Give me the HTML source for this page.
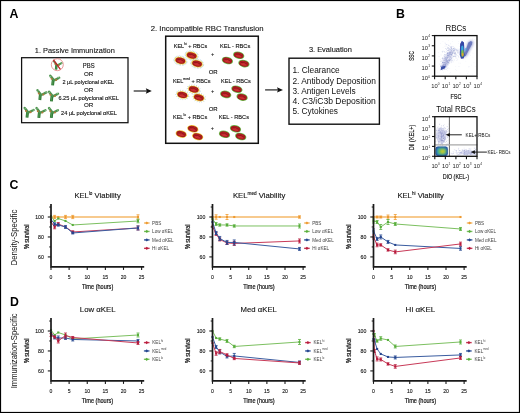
<!DOCTYPE html>
<html><head><meta charset="utf-8"><style>
html,body{margin:0;padding:0;background:#fff;width:520px;height:413px;overflow:hidden}
svg{display:block;will-change:transform;font-family:"Liberation Sans",sans-serif}
</style></head><body>
<svg width="520" height="413" viewBox="0 0 520 413" font-family="Liberation Sans">
<defs>
<radialGradient id="rbc" cx="0.5" cy="0.5" r="0.6">
<stop offset="0" stop-color="#cc2e30"/><stop offset="0.6" stop-color="#b01c20"/><stop offset="1" stop-color="#801014"/>
</radialGradient>
<filter id="bl1" x="-20%" y="-20%" width="140%" height="140%"><feGaussianBlur stdDeviation="0.6"/></filter>
<filter id="bl2" x="-20%" y="-20%" width="140%" height="140%"><feGaussianBlur stdDeviation="0.8"/></filter>
<clipPath id="clip1"><rect x="435.3" y="36.3" width="41" height="39.2"/></clipPath>
<clipPath id="clip2"><rect x="435.5" y="117.4" width="41.1" height="38.2"/></clipPath>
</defs>
<rect x="0.5" y="0.5" width="519" height="412" fill="#fff" stroke="#000" stroke-width="1.2"/>
<text x="9.6" y="17.5" font-size="12.3" font-weight="bold" fill="#000" >A</text>
<text x="396.0" y="17.5" font-size="12.3" font-weight="bold" fill="#000" >B</text>
<text x="9.6" y="189.1" font-size="12.3" font-weight="bold" fill="#000" >C</text>
<text x="10.0" y="305.8" font-size="12.3" font-weight="bold" fill="#000" >D</text>
<text x="34.8" y="53.0" font-size="7.4" textLength="80" lengthAdjust="spacingAndGlyphs" fill="#111" stroke="#111" stroke-width="0.1">1. Passive Immunization</text>
<rect x="21.6" y="57.7" width="106.4" height="65" fill="none" stroke="#111" stroke-width="1.25"/>
<g stroke="#111" stroke-width="0.12">
<text x="88.7" y="68.1" font-size="6.3" textLength="11.8" lengthAdjust="spacingAndGlyphs" text-anchor="middle" fill="#111" >PBS</text>
<text x="88.7" y="75.8" font-size="6.2" text-anchor="middle" fill="#111" >OR</text>
<text x="62.4" y="83.6" font-size="5.6" textLength="51.8" lengthAdjust="spacingAndGlyphs" fill="#111" >2 µL polyclonal αKEL</text>
<text x="88.7" y="91.5" font-size="6.2" text-anchor="middle" fill="#111" >OR</text>
<text x="58.4" y="99.5" font-size="5.6" textLength="60.5" lengthAdjust="spacingAndGlyphs" fill="#111" >6.25 µL polyclonal αKEL</text>
<text x="88.7" y="107.2" font-size="6.2" text-anchor="middle" fill="#111" >OR</text>
<text x="61.1" y="115.3" font-size="5.6" textLength="55.8" lengthAdjust="spacingAndGlyphs" fill="#111" >24 µL polyclonal αKEL</text>
</g>
<g transform="translate(56.0,69.6) scale(0.85)"><path d="M0.65,-6.0 L0,0" stroke="#307d36" stroke-width="2.9"/><path d="M0.8,-5.8 L-2.3,-9.7" stroke="#4e9450" stroke-width="2.4" stroke-linecap="round"/><path d="M2.0,-5.3 L6.6,-7.6" stroke="#4e9450" stroke-width="2.4" stroke-linecap="round"/><path d="M-1.4,-9.4 L-2.6,-8.4" stroke="#a8d0a4" stroke-width="0.7" stroke-linecap="round"/><path d="M5.6,-8.4 L6.8,-7.0" stroke="#a8d0a4" stroke-width="0.7" stroke-linecap="round"/><path d="M0.2,-4.5 L0.0,-0.8" stroke="#6aaa68" stroke-width="0.6"/><circle cx="-1.0" cy="-6.6" r="1.0" fill="#b8783a"/><circle cx="3.6" cy="-5.4" r="1.0" fill="#b8783a"/></g>
<circle cx="57.3" cy="64.7" r="6.0" fill="none" stroke="#e07878" stroke-width="0.75"/>
<path d="M53.4,59.9 L60.4,69.4" stroke="#c42028" stroke-width="1.3"/>
<g transform="translate(52.6,85.4) scale(1.0)"><path d="M0.65,-6.0 L0,0" stroke="#307d36" stroke-width="2.9"/><path d="M0.8,-5.8 L-2.3,-9.7" stroke="#4e9450" stroke-width="2.4" stroke-linecap="round"/><path d="M2.0,-5.3 L6.6,-7.6" stroke="#4e9450" stroke-width="2.4" stroke-linecap="round"/><path d="M-1.4,-9.4 L-2.6,-8.4" stroke="#a8d0a4" stroke-width="0.7" stroke-linecap="round"/><path d="M5.6,-8.4 L6.8,-7.0" stroke="#a8d0a4" stroke-width="0.7" stroke-linecap="round"/><path d="M0.2,-4.5 L0.0,-0.8" stroke="#6aaa68" stroke-width="0.6"/><circle cx="-1.0" cy="-6.6" r="1.0" fill="#b8783a"/><circle cx="3.6" cy="-5.4" r="1.0" fill="#b8783a"/></g>
<g transform="translate(39.8,100.0) scale(1.0)"><path d="M0.65,-6.0 L0,0" stroke="#307d36" stroke-width="2.9"/><path d="M0.8,-5.8 L-2.3,-9.7" stroke="#4e9450" stroke-width="2.4" stroke-linecap="round"/><path d="M2.0,-5.3 L6.6,-7.6" stroke="#4e9450" stroke-width="2.4" stroke-linecap="round"/><path d="M-1.4,-9.4 L-2.6,-8.4" stroke="#a8d0a4" stroke-width="0.7" stroke-linecap="round"/><path d="M5.6,-8.4 L6.8,-7.0" stroke="#a8d0a4" stroke-width="0.7" stroke-linecap="round"/><path d="M0.2,-4.5 L0.0,-0.8" stroke="#6aaa68" stroke-width="0.6"/><circle cx="-1.0" cy="-6.6" r="1.0" fill="#b8783a"/><circle cx="3.6" cy="-5.4" r="1.0" fill="#b8783a"/></g>
<g transform="translate(51.4,101.4) scale(1.0)"><path d="M0.65,-6.0 L0,0" stroke="#307d36" stroke-width="2.9"/><path d="M0.8,-5.8 L-2.3,-9.7" stroke="#4e9450" stroke-width="2.4" stroke-linecap="round"/><path d="M2.0,-5.3 L6.6,-7.6" stroke="#4e9450" stroke-width="2.4" stroke-linecap="round"/><path d="M-1.4,-9.4 L-2.6,-8.4" stroke="#a8d0a4" stroke-width="0.7" stroke-linecap="round"/><path d="M5.6,-8.4 L6.8,-7.0" stroke="#a8d0a4" stroke-width="0.7" stroke-linecap="round"/><path d="M0.2,-4.5 L0.0,-0.8" stroke="#6aaa68" stroke-width="0.6"/><circle cx="-1.0" cy="-6.6" r="1.0" fill="#b8783a"/><circle cx="3.6" cy="-5.4" r="1.0" fill="#b8783a"/></g>
<g transform="translate(27.0,117.6) scale(1.0)"><path d="M0.65,-6.0 L0,0" stroke="#307d36" stroke-width="2.9"/><path d="M0.8,-5.8 L-2.3,-9.7" stroke="#4e9450" stroke-width="2.4" stroke-linecap="round"/><path d="M2.0,-5.3 L6.6,-7.6" stroke="#4e9450" stroke-width="2.4" stroke-linecap="round"/><path d="M-1.4,-9.4 L-2.6,-8.4" stroke="#a8d0a4" stroke-width="0.7" stroke-linecap="round"/><path d="M5.6,-8.4 L6.8,-7.0" stroke="#a8d0a4" stroke-width="0.7" stroke-linecap="round"/><path d="M0.2,-4.5 L0.0,-0.8" stroke="#6aaa68" stroke-width="0.6"/><circle cx="-1.0" cy="-6.6" r="1.0" fill="#b8783a"/><circle cx="3.6" cy="-5.4" r="1.0" fill="#b8783a"/></g>
<g transform="translate(38.8,117.8) scale(1.0)"><path d="M0.65,-6.0 L0,0" stroke="#307d36" stroke-width="2.9"/><path d="M0.8,-5.8 L-2.3,-9.7" stroke="#4e9450" stroke-width="2.4" stroke-linecap="round"/><path d="M2.0,-5.3 L6.6,-7.6" stroke="#4e9450" stroke-width="2.4" stroke-linecap="round"/><path d="M-1.4,-9.4 L-2.6,-8.4" stroke="#a8d0a4" stroke-width="0.7" stroke-linecap="round"/><path d="M5.6,-8.4 L6.8,-7.0" stroke="#a8d0a4" stroke-width="0.7" stroke-linecap="round"/><path d="M0.2,-4.5 L0.0,-0.8" stroke="#6aaa68" stroke-width="0.6"/><circle cx="-1.0" cy="-6.6" r="1.0" fill="#b8783a"/><circle cx="3.6" cy="-5.4" r="1.0" fill="#b8783a"/></g>
<g transform="translate(51.3,117.8) scale(1.0)"><path d="M0.65,-6.0 L0,0" stroke="#307d36" stroke-width="2.9"/><path d="M0.8,-5.8 L-2.3,-9.7" stroke="#4e9450" stroke-width="2.4" stroke-linecap="round"/><path d="M2.0,-5.3 L6.6,-7.6" stroke="#4e9450" stroke-width="2.4" stroke-linecap="round"/><path d="M-1.4,-9.4 L-2.6,-8.4" stroke="#a8d0a4" stroke-width="0.7" stroke-linecap="round"/><path d="M5.6,-8.4 L6.8,-7.0" stroke="#a8d0a4" stroke-width="0.7" stroke-linecap="round"/><path d="M0.2,-4.5 L0.0,-0.8" stroke="#6aaa68" stroke-width="0.6"/><circle cx="-1.0" cy="-6.6" r="1.0" fill="#b8783a"/><circle cx="3.6" cy="-5.4" r="1.0" fill="#b8783a"/></g>
<path d="M133.7,91.0 L147.8,91.0" stroke="#333" stroke-width="1.3"/>
<path d="M151.8,91.0 L145.8,88.3 L146.8,91.0 L145.8,93.7 Z" fill="#111"/>
<path d="M265.1,89.9 L279.0,89.9" stroke="#333" stroke-width="1.3"/>
<path d="M283.0,89.9 L277.0,87.2 L278.0,89.9 L277.0,92.60000000000001 Z" fill="#111"/>
<text x="207.2" y="31.3" font-size="7.7" textLength="113.0" lengthAdjust="spacingAndGlyphs" text-anchor="middle" fill="#111" stroke="#111" stroke-width="0.1">2. Incompatible RBC Transfusion</text>
<rect x="165.7" y="36.2" width="92.6" height="107.1" fill="none" stroke="#111" stroke-width="1.5"/>
<g stroke="#111" stroke-width="0.12">
<text x="173.8" y="47.5" font-size="5.6" fill="#111" textLength="33.4" lengthAdjust="spacingAndGlyphs">KEL<tspan font-size="3.4" dy="-3.0">hi</tspan><tspan dy="3.0"> + RBCs</tspan></text>
<text x="220.0" y="47.5" font-size="5.6" textLength="30.3" lengthAdjust="spacingAndGlyphs" fill="#111" >KEL - RBCs</text>
<text x="212.7" y="56.4" font-size="5.6" text-anchor="middle" fill="#111" >+</text>
<text x="213.2" y="74.3" font-size="6.0" text-anchor="middle" fill="#111" >OR</text>
<text x="172.9" y="83.1" font-size="5.6" fill="#111" textLength="37.7" lengthAdjust="spacingAndGlyphs">KEL<tspan font-size="3.4" dy="-3.0">med</tspan><tspan dy="3.0"> + RBCs</tspan></text>
<text x="221.0" y="83.1" font-size="5.6" textLength="29.8" lengthAdjust="spacingAndGlyphs" fill="#111" >KEL - RBCs</text>
<text x="212.7" y="93.4" font-size="5.6" text-anchor="middle" fill="#111" >+</text>
<text x="213.2" y="110.5" font-size="6.0" text-anchor="middle" fill="#111" >OR</text>
<text x="172.9" y="119.2" font-size="5.6" fill="#111" textLength="34.3" lengthAdjust="spacingAndGlyphs">KEL<tspan font-size="3.4" dy="-3.0">lo</tspan><tspan dy="3.0"> + RBCs</tspan></text>
<text x="218.8" y="119.2" font-size="5.6" textLength="30.2" lengthAdjust="spacingAndGlyphs" fill="#111" >KEL - RBCs</text>
<text x="212.4" y="129.9" font-size="5.6" text-anchor="middle" fill="#111" >+</text>
</g>
<g transform="translate(180.4,60.6) rotate(14)"><ellipse rx="6.6" ry="4.5" fill="none" stroke="#9ccbe6" stroke-width="1.2" stroke-dasharray="0.5 0.9" opacity="0.9"/><ellipse rx="6.0" ry="3.9" fill="none" stroke="#e8c838" stroke-width="1.0" stroke-dasharray="0.45 1.1" opacity="0.9"/><ellipse rx="5.65" ry="3.55" fill="#eebc30"/><ellipse rx="4.9" ry="2.9" fill="url(#rbc)"/><path d="M-3.2,-0.4 Q0,-1.8 3.2,-0.2" stroke="#7a0e12" stroke-width="0.7" fill="none" opacity="0.8"/><path d="M-2.6,0.9 Q0,1.8 2.8,0.9" stroke="#e04848" stroke-width="0.6" fill="none" opacity="0.7"/></g>
<g transform="translate(191.7,55.5) rotate(14)"><ellipse rx="6.6" ry="4.5" fill="none" stroke="#9ccbe6" stroke-width="1.2" stroke-dasharray="0.5 0.9" opacity="0.9"/><ellipse rx="6.0" ry="3.9" fill="none" stroke="#e8c838" stroke-width="1.0" stroke-dasharray="0.45 1.1" opacity="0.9"/><ellipse rx="5.65" ry="3.55" fill="#eebc30"/><ellipse rx="4.9" ry="2.9" fill="url(#rbc)"/><path d="M-3.2,-0.4 Q0,-1.8 3.2,-0.2" stroke="#7a0e12" stroke-width="0.7" fill="none" opacity="0.8"/><path d="M-2.6,0.9 Q0,1.8 2.8,0.9" stroke="#e04848" stroke-width="0.6" fill="none" opacity="0.7"/></g>
<g transform="translate(197.1,63.6) rotate(14)"><ellipse rx="6.6" ry="4.5" fill="none" stroke="#9ccbe6" stroke-width="1.2" stroke-dasharray="0.5 0.9" opacity="0.9"/><ellipse rx="6.0" ry="3.9" fill="none" stroke="#e8c838" stroke-width="1.0" stroke-dasharray="0.45 1.1" opacity="0.9"/><ellipse rx="5.65" ry="3.55" fill="#eebc30"/><ellipse rx="4.9" ry="2.9" fill="url(#rbc)"/><path d="M-3.2,-0.4 Q0,-1.8 3.2,-0.2" stroke="#7a0e12" stroke-width="0.7" fill="none" opacity="0.8"/><path d="M-2.6,0.9 Q0,1.8 2.8,0.9" stroke="#e04848" stroke-width="0.6" fill="none" opacity="0.7"/></g>
<g transform="translate(227.4,60.5) rotate(14)"><ellipse rx="5.75" ry="3.65" fill="#70c050"/><ellipse rx="4.9" ry="2.9" fill="url(#rbc)"/><path d="M-3.2,-0.4 Q0,-1.8 3.2,-0.2" stroke="#7a0e12" stroke-width="0.7" fill="none" opacity="0.8"/><path d="M-2.6,0.9 Q0,1.8 2.8,0.9" stroke="#e04848" stroke-width="0.6" fill="none" opacity="0.7"/></g>
<g transform="translate(238.7,55.3) rotate(14)"><ellipse rx="5.75" ry="3.65" fill="#70c050"/><ellipse rx="4.9" ry="2.9" fill="url(#rbc)"/><path d="M-3.2,-0.4 Q0,-1.8 3.2,-0.2" stroke="#7a0e12" stroke-width="0.7" fill="none" opacity="0.8"/><path d="M-2.6,0.9 Q0,1.8 2.8,0.9" stroke="#e04848" stroke-width="0.6" fill="none" opacity="0.7"/></g>
<g transform="translate(243.9,63.6) rotate(14)"><ellipse rx="5.75" ry="3.65" fill="#70c050"/><ellipse rx="4.9" ry="2.9" fill="url(#rbc)"/><path d="M-3.2,-0.4 Q0,-1.8 3.2,-0.2" stroke="#7a0e12" stroke-width="0.7" fill="none" opacity="0.8"/><path d="M-2.6,0.9 Q0,1.8 2.8,0.9" stroke="#e04848" stroke-width="0.6" fill="none" opacity="0.7"/></g>
<g transform="translate(182.4,94.9) rotate(14)"><ellipse rx="6.6" ry="4.5" fill="none" stroke="#9ccbe6" stroke-width="1.2" stroke-dasharray="0.5 1.8" opacity="0.9"/><ellipse rx="6.0" ry="3.9" fill="none" stroke="#e8c838" stroke-width="1.0" stroke-dasharray="0.45 2.0" opacity="0.9"/><ellipse rx="5.65" ry="3.55" fill="#eebc30"/><ellipse rx="4.9" ry="2.9" fill="url(#rbc)"/><path d="M-3.2,-0.4 Q0,-1.8 3.2,-0.2" stroke="#7a0e12" stroke-width="0.7" fill="none" opacity="0.8"/><path d="M-2.6,0.9 Q0,1.8 2.8,0.9" stroke="#e04848" stroke-width="0.6" fill="none" opacity="0.7"/></g>
<g transform="translate(193.7,89.4) rotate(14)"><ellipse rx="6.6" ry="4.5" fill="none" stroke="#9ccbe6" stroke-width="1.2" stroke-dasharray="0.5 1.8" opacity="0.9"/><ellipse rx="6.0" ry="3.9" fill="none" stroke="#e8c838" stroke-width="1.0" stroke-dasharray="0.45 2.0" opacity="0.9"/><ellipse rx="5.65" ry="3.55" fill="#eebc30"/><ellipse rx="4.9" ry="2.9" fill="url(#rbc)"/><path d="M-3.2,-0.4 Q0,-1.8 3.2,-0.2" stroke="#7a0e12" stroke-width="0.7" fill="none" opacity="0.8"/><path d="M-2.6,0.9 Q0,1.8 2.8,0.9" stroke="#e04848" stroke-width="0.6" fill="none" opacity="0.7"/></g>
<g transform="translate(198.9,97.5) rotate(14)"><ellipse rx="6.6" ry="4.5" fill="none" stroke="#9ccbe6" stroke-width="1.2" stroke-dasharray="0.5 1.8" opacity="0.9"/><ellipse rx="6.0" ry="3.9" fill="none" stroke="#e8c838" stroke-width="1.0" stroke-dasharray="0.45 2.0" opacity="0.9"/><ellipse rx="5.65" ry="3.55" fill="#eebc30"/><ellipse rx="4.9" ry="2.9" fill="url(#rbc)"/><path d="M-3.2,-0.4 Q0,-1.8 3.2,-0.2" stroke="#7a0e12" stroke-width="0.7" fill="none" opacity="0.8"/><path d="M-2.6,0.9 Q0,1.8 2.8,0.9" stroke="#e04848" stroke-width="0.6" fill="none" opacity="0.7"/></g>
<g transform="translate(225.7,94.4) rotate(14)"><ellipse rx="5.75" ry="3.65" fill="#70c050"/><ellipse rx="4.9" ry="2.9" fill="url(#rbc)"/><path d="M-3.2,-0.4 Q0,-1.8 3.2,-0.2" stroke="#7a0e12" stroke-width="0.7" fill="none" opacity="0.8"/><path d="M-2.6,0.9 Q0,1.8 2.8,0.9" stroke="#e04848" stroke-width="0.6" fill="none" opacity="0.7"/></g>
<g transform="translate(236.9,89.2) rotate(14)"><ellipse rx="5.75" ry="3.65" fill="#70c050"/><ellipse rx="4.9" ry="2.9" fill="url(#rbc)"/><path d="M-3.2,-0.4 Q0,-1.8 3.2,-0.2" stroke="#7a0e12" stroke-width="0.7" fill="none" opacity="0.8"/><path d="M-2.6,0.9 Q0,1.8 2.8,0.9" stroke="#e04848" stroke-width="0.6" fill="none" opacity="0.7"/></g>
<g transform="translate(242.1,97.1) rotate(14)"><ellipse rx="5.75" ry="3.65" fill="#70c050"/><ellipse rx="4.9" ry="2.9" fill="url(#rbc)"/><path d="M-3.2,-0.4 Q0,-1.8 3.2,-0.2" stroke="#7a0e12" stroke-width="0.7" fill="none" opacity="0.8"/><path d="M-2.6,0.9 Q0,1.8 2.8,0.9" stroke="#e04848" stroke-width="0.6" fill="none" opacity="0.7"/></g>
<g transform="translate(181.2,134.0) rotate(14)"><ellipse rx="5.65" ry="3.55" fill="#eebc30"/><ellipse rx="4.9" ry="2.9" fill="url(#rbc)"/><path d="M-3.2,-0.4 Q0,-1.8 3.2,-0.2" stroke="#7a0e12" stroke-width="0.7" fill="none" opacity="0.8"/><path d="M-2.6,0.9 Q0,1.8 2.8,0.9" stroke="#e04848" stroke-width="0.6" fill="none" opacity="0.7"/></g>
<g transform="translate(192.8,128.8) rotate(14)"><ellipse rx="5.65" ry="3.55" fill="#eebc30"/><ellipse rx="4.9" ry="2.9" fill="url(#rbc)"/><path d="M-3.2,-0.4 Q0,-1.8 3.2,-0.2" stroke="#7a0e12" stroke-width="0.7" fill="none" opacity="0.8"/><path d="M-2.6,0.9 Q0,1.8 2.8,0.9" stroke="#e04848" stroke-width="0.6" fill="none" opacity="0.7"/></g>
<g transform="translate(197.7,136.5) rotate(14)"><ellipse rx="5.65" ry="3.55" fill="#eebc30"/><ellipse rx="4.9" ry="2.9" fill="url(#rbc)"/><path d="M-3.2,-0.4 Q0,-1.8 3.2,-0.2" stroke="#7a0e12" stroke-width="0.7" fill="none" opacity="0.8"/><path d="M-2.6,0.9 Q0,1.8 2.8,0.9" stroke="#e04848" stroke-width="0.6" fill="none" opacity="0.7"/></g>
<g transform="translate(224.5,134.3) rotate(14)"><ellipse rx="5.75" ry="3.65" fill="#70c050"/><ellipse rx="4.9" ry="2.9" fill="url(#rbc)"/><path d="M-3.2,-0.4 Q0,-1.8 3.2,-0.2" stroke="#7a0e12" stroke-width="0.7" fill="none" opacity="0.8"/><path d="M-2.6,0.9 Q0,1.8 2.8,0.9" stroke="#e04848" stroke-width="0.6" fill="none" opacity="0.7"/></g>
<g transform="translate(235.5,128.8) rotate(14)"><ellipse rx="5.75" ry="3.65" fill="#70c050"/><ellipse rx="4.9" ry="2.9" fill="url(#rbc)"/><path d="M-3.2,-0.4 Q0,-1.8 3.2,-0.2" stroke="#7a0e12" stroke-width="0.7" fill="none" opacity="0.8"/><path d="M-2.6,0.9 Q0,1.8 2.8,0.9" stroke="#e04848" stroke-width="0.6" fill="none" opacity="0.7"/></g>
<g transform="translate(240.7,136.5) rotate(14)"><ellipse rx="5.75" ry="3.65" fill="#70c050"/><ellipse rx="4.9" ry="2.9" fill="url(#rbc)"/><path d="M-3.2,-0.4 Q0,-1.8 3.2,-0.2" stroke="#7a0e12" stroke-width="0.7" fill="none" opacity="0.8"/><path d="M-2.6,0.9 Q0,1.8 2.8,0.9" stroke="#e04848" stroke-width="0.6" fill="none" opacity="0.7"/></g>
<text x="330.4" y="52.0" font-size="7.6" textLength="43" lengthAdjust="spacingAndGlyphs" text-anchor="middle" fill="#111" stroke="#111" stroke-width="0.1">3. Evaluation</text>
<rect x="289.0" y="58.2" width="90.4" height="66" fill="none" stroke="#111" stroke-width="1.4"/>
<text x="292.4" y="72.9" font-size="8.45" textLength="47.3" lengthAdjust="spacingAndGlyphs" fill="#111" >1. Clearance</text>
<text x="292.4" y="83.6" font-size="8.45" textLength="83.5" lengthAdjust="spacingAndGlyphs" fill="#111" >2. Antibody Deposition</text>
<text x="292.4" y="93.7" font-size="8.45" textLength="63.2" lengthAdjust="spacingAndGlyphs" fill="#111" >3. Antigen Levels</text>
<text x="292.4" y="103.9" font-size="8.45" textLength="83.5" lengthAdjust="spacingAndGlyphs" fill="#111" >4. C3/iC3b Deposition</text>
<text x="292.4" y="114.1" font-size="8.45" textLength="45.6" lengthAdjust="spacingAndGlyphs" fill="#111" >5. Cytokines</text>
<g clip-path="url(#clip1)">
<rect x="448.8" y="62.7" width="0.6" height="0.6" fill="#5a68b8" opacity="0.26"/>
<rect x="443.2" y="67.2" width="0.6" height="0.6" fill="#5a68b8" opacity="0.28"/>
<rect x="444.6" y="67.3" width="0.6" height="0.6" fill="#5a68b8" opacity="0.22"/>
<rect x="449.4" y="53.6" width="0.6" height="0.6" fill="#5a68b8" opacity="0.27"/>
<rect x="460.7" y="51.5" width="0.6" height="0.6" fill="#5a68b8" opacity="0.19"/>
<rect x="447.2" y="61.2" width="0.6" height="0.6" fill="#5a68b8" opacity="0.32"/>
<rect x="448.1" y="53.5" width="0.6" height="0.6" fill="#5a68b8" opacity="0.21"/>
<rect x="449.8" y="54.2" width="0.6" height="0.6" fill="#5a68b8" opacity="0.33"/>
<rect x="447.9" y="57.3" width="0.6" height="0.6" fill="#5a68b8" opacity="0.32"/>
<rect x="447.7" y="54.8" width="0.6" height="0.6" fill="#5a68b8" opacity="0.24"/>
<rect x="456.7" y="49.4" width="0.6" height="0.6" fill="#5a68b8" opacity="0.30"/>
<rect x="441.3" y="65.7" width="0.6" height="0.6" fill="#5a68b8" opacity="0.32"/>
<rect x="451.4" y="47.8" width="0.6" height="0.6" fill="#5a68b8" opacity="0.29"/>
<rect x="450.4" y="48.9" width="0.6" height="0.6" fill="#5a68b8" opacity="0.35"/>
<rect x="441.2" y="68.2" width="0.6" height="0.6" fill="#5a68b8" opacity="0.24"/>
<rect x="446.6" y="59.3" width="0.6" height="0.6" fill="#5a68b8" opacity="0.29"/>
<rect x="444.9" y="64.5" width="0.6" height="0.6" fill="#5a68b8" opacity="0.22"/>
<rect x="446.1" y="58.6" width="0.6" height="0.6" fill="#5a68b8" opacity="0.28"/>
<rect x="451.1" y="58.6" width="0.6" height="0.6" fill="#5a68b8" opacity="0.27"/>
<rect x="447.0" y="58.0" width="0.6" height="0.6" fill="#5a68b8" opacity="0.20"/>
<rect x="445.2" y="63.0" width="0.6" height="0.6" fill="#5a68b8" opacity="0.23"/>
<rect x="441.4" y="68.8" width="0.6" height="0.6" fill="#5a68b8" opacity="0.32"/>
<rect x="450.4" y="46.5" width="0.6" height="0.6" fill="#5a68b8" opacity="0.17"/>
<rect x="449.3" y="45.7" width="0.6" height="0.6" fill="#5a68b8" opacity="0.39"/>
<rect x="446.4" y="58.8" width="0.6" height="0.6" fill="#5a68b8" opacity="0.17"/>
<rect x="444.8" y="63.8" width="0.6" height="0.6" fill="#5a68b8" opacity="0.17"/>
<rect x="442.6" y="68.5" width="0.6" height="0.6" fill="#5a68b8" opacity="0.41"/>
<rect x="450.3" y="55.8" width="0.6" height="0.6" fill="#5a68b8" opacity="0.25"/>
<rect x="450.7" y="62.5" width="0.6" height="0.6" fill="#5a68b8" opacity="0.30"/>
<rect x="443.9" y="66.7" width="0.6" height="0.6" fill="#5a68b8" opacity="0.23"/>
<rect x="452.2" y="52.0" width="0.6" height="0.6" fill="#5a68b8" opacity="0.19"/>
<rect x="448.8" y="56.1" width="0.6" height="0.6" fill="#5a68b8" opacity="0.44"/>
<rect x="450.6" y="49.3" width="0.6" height="0.6" fill="#5a68b8" opacity="0.38"/>
<rect x="449.8" y="56.4" width="0.6" height="0.6" fill="#5a68b8" opacity="0.22"/>
<rect x="457.6" y="55.0" width="0.6" height="0.6" fill="#5a68b8" opacity="0.37"/>
<rect x="441.4" y="61.4" width="0.6" height="0.6" fill="#5a68b8" opacity="0.16"/>
<rect x="443.0" y="66.8" width="0.6" height="0.6" fill="#5a68b8" opacity="0.28"/>
<rect x="446.8" y="44.1" width="0.6" height="0.6" fill="#5a68b8" opacity="0.26"/>
<rect x="445.7" y="63.6" width="0.6" height="0.6" fill="#5a68b8" opacity="0.42"/>
<rect x="454.9" y="53.1" width="0.6" height="0.6" fill="#5a68b8" opacity="0.39"/>
<rect x="440.2" y="65.8" width="0.6" height="0.6" fill="#5a68b8" opacity="0.29"/>
<rect x="442.2" y="62.0" width="0.6" height="0.6" fill="#5a68b8" opacity="0.39"/>
<rect x="450.8" y="47.8" width="0.6" height="0.6" fill="#5a68b8" opacity="0.20"/>
<rect x="444.2" y="66.4" width="0.6" height="0.6" fill="#5a68b8" opacity="0.39"/>
<rect x="443.6" y="65.3" width="0.6" height="0.6" fill="#5a68b8" opacity="0.31"/>
<rect x="445.2" y="64.8" width="0.6" height="0.6" fill="#5a68b8" opacity="0.34"/>
<rect x="450.5" y="59.2" width="0.6" height="0.6" fill="#5a68b8" opacity="0.21"/>
<rect x="442.9" y="61.9" width="0.6" height="0.6" fill="#5a68b8" opacity="0.33"/>
<rect x="444.9" y="62.6" width="0.6" height="0.6" fill="#5a68b8" opacity="0.29"/>
<rect x="448.5" y="54.3" width="0.6" height="0.6" fill="#5a68b8" opacity="0.43"/>
<rect x="445.1" y="56.7" width="0.6" height="0.6" fill="#5a68b8" opacity="0.20"/>
<rect x="442.4" y="67.9" width="0.6" height="0.6" fill="#5a68b8" opacity="0.29"/>
<rect x="447.8" y="50.3" width="0.6" height="0.6" fill="#5a68b8" opacity="0.39"/>
<rect x="442.7" y="65.4" width="0.6" height="0.6" fill="#5a68b8" opacity="0.23"/>
<rect x="447.1" y="49.9" width="0.6" height="0.6" fill="#5a68b8" opacity="0.28"/>
<rect x="442.4" y="51.8" width="0.6" height="0.6" fill="#5a68b8" opacity="0.36"/>
<rect x="444.9" y="58.2" width="0.6" height="0.6" fill="#5a68b8" opacity="0.41"/>
<rect x="450.9" y="48.7" width="0.6" height="0.6" fill="#5a68b8" opacity="0.43"/>
<rect x="453.3" y="50.8" width="0.6" height="0.6" fill="#5a68b8" opacity="0.22"/>
<rect x="442.5" y="65.2" width="0.6" height="0.6" fill="#5a68b8" opacity="0.42"/>
<rect x="442.4" y="65.5" width="0.6" height="0.6" fill="#5a68b8" opacity="0.44"/>
<rect x="448.4" y="64.3" width="0.6" height="0.6" fill="#5a68b8" opacity="0.30"/>
<rect x="454.0" y="47.3" width="0.6" height="0.6" fill="#5a68b8" opacity="0.25"/>
<rect x="444.8" y="65.4" width="0.6" height="0.6" fill="#5a68b8" opacity="0.16"/>
<rect x="448.4" y="55.3" width="0.6" height="0.6" fill="#5a68b8" opacity="0.30"/>
<rect x="445.9" y="67.3" width="0.6" height="0.6" fill="#5a68b8" opacity="0.44"/>
<rect x="443.7" y="65.9" width="0.6" height="0.6" fill="#5a68b8" opacity="0.19"/>
<rect x="447.0" y="57.0" width="0.6" height="0.6" fill="#5a68b8" opacity="0.23"/>
<rect x="445.1" y="65.4" width="0.6" height="0.6" fill="#5a68b8" opacity="0.17"/>
<rect x="448.7" y="53.0" width="0.6" height="0.6" fill="#5a68b8" opacity="0.43"/>
<rect x="449.6" y="55.0" width="0.6" height="0.6" fill="#5a68b8" opacity="0.41"/>
<rect x="446.4" y="58.8" width="0.6" height="0.6" fill="#5a68b8" opacity="0.43"/>
<rect x="447.8" y="62.9" width="0.6" height="0.6" fill="#5a68b8" opacity="0.20"/>
<rect x="443.5" y="68.1" width="0.6" height="0.6" fill="#5a68b8" opacity="0.24"/>
<rect x="451.1" y="52.0" width="0.6" height="0.6" fill="#5a68b8" opacity="0.16"/>
<rect x="448.2" y="63.3" width="0.6" height="0.6" fill="#5a68b8" opacity="0.32"/>
<rect x="441.4" y="63.2" width="0.6" height="0.6" fill="#5a68b8" opacity="0.28"/>
<rect x="451.3" y="58.0" width="0.6" height="0.6" fill="#5a68b8" opacity="0.30"/>
<rect x="452.8" y="55.6" width="0.6" height="0.6" fill="#5a68b8" opacity="0.34"/>
<rect x="444.0" y="57.9" width="0.6" height="0.6" fill="#5a68b8" opacity="0.19"/>
<rect x="442.3" y="66.7" width="0.6" height="0.6" fill="#5a68b8" opacity="0.40"/>
<rect x="453.0" y="50.0" width="0.6" height="0.6" fill="#5a68b8" opacity="0.22"/>
<rect x="444.9" y="60.3" width="0.6" height="0.6" fill="#5a68b8" opacity="0.44"/>
<rect x="453.5" y="48.3" width="0.6" height="0.6" fill="#5a68b8" opacity="0.44"/>
<rect x="446.0" y="60.4" width="0.6" height="0.6" fill="#5a68b8" opacity="0.30"/>
<rect x="445.8" y="64.2" width="0.6" height="0.6" fill="#5a68b8" opacity="0.23"/>
<rect x="443.2" y="66.7" width="0.6" height="0.6" fill="#5a68b8" opacity="0.22"/>
<rect x="447.9" y="55.4" width="0.6" height="0.6" fill="#5a68b8" opacity="0.35"/>
<rect x="452.0" y="52.9" width="0.6" height="0.6" fill="#5a68b8" opacity="0.19"/>
<rect x="458.1" y="56.7" width="0.6" height="0.6" fill="#5a68b8" opacity="0.40"/>
<rect x="447.4" y="47.7" width="0.6" height="0.6" fill="#5a68b8" opacity="0.31"/>
<rect x="447.8" y="55.1" width="0.6" height="0.6" fill="#5a68b8" opacity="0.40"/>
<rect x="451.3" y="57.0" width="0.6" height="0.6" fill="#5a68b8" opacity="0.16"/>
<rect x="442.7" y="64.9" width="0.6" height="0.6" fill="#5a68b8" opacity="0.40"/>
<rect x="445.4" y="54.3" width="0.6" height="0.6" fill="#5a68b8" opacity="0.15"/>
<rect x="448.0" y="48.5" width="0.6" height="0.6" fill="#5a68b8" opacity="0.31"/>
<rect x="454.7" y="56.3" width="0.6" height="0.6" fill="#5a68b8" opacity="0.23"/>
<rect x="452.2" y="54.7" width="0.6" height="0.6" fill="#5a68b8" opacity="0.44"/>
<rect x="446.8" y="55.7" width="0.6" height="0.6" fill="#5a68b8" opacity="0.34"/>
<rect x="445.8" y="52.3" width="0.6" height="0.6" fill="#5a68b8" opacity="0.23"/>
<rect x="450.6" y="52.0" width="0.6" height="0.6" fill="#5a68b8" opacity="0.23"/>
<rect x="449.6" y="52.6" width="0.6" height="0.6" fill="#5a68b8" opacity="0.24"/>
<rect x="445.9" y="56.9" width="0.6" height="0.6" fill="#5a68b8" opacity="0.21"/>
<rect x="458.7" y="50.6" width="0.6" height="0.6" fill="#5a68b8" opacity="0.29"/>
<rect x="454.9" y="52.7" width="0.6" height="0.6" fill="#5a68b8" opacity="0.43"/>
<rect x="445.5" y="63.7" width="0.6" height="0.6" fill="#5a68b8" opacity="0.31"/>
<rect x="458.7" y="48.9" width="0.6" height="0.6" fill="#5a68b8" opacity="0.36"/>
<rect x="445.7" y="62.2" width="0.6" height="0.6" fill="#5a68b8" opacity="0.16"/>
<rect x="441.1" y="67.7" width="0.6" height="0.6" fill="#5a68b8" opacity="0.25"/>
<rect x="447.1" y="61.5" width="0.6" height="0.6" fill="#5a68b8" opacity="0.38"/>
<rect x="458.7" y="53.0" width="0.6" height="0.6" fill="#5a68b8" opacity="0.24"/>
<rect x="439.9" y="59.6" width="0.6" height="0.6" fill="#5a68b8" opacity="0.33"/>
<rect x="445.5" y="59.7" width="0.6" height="0.6" fill="#5a68b8" opacity="0.40"/>
<rect x="446.6" y="61.6" width="0.6" height="0.6" fill="#5a68b8" opacity="0.23"/>
<rect x="450.0" y="59.3" width="0.6" height="0.6" fill="#5a68b8" opacity="0.39"/>
<rect x="449.9" y="52.7" width="0.6" height="0.6" fill="#5a68b8" opacity="0.31"/>
<rect x="455.6" y="53.9" width="0.6" height="0.6" fill="#5a68b8" opacity="0.34"/>
<rect x="448.6" y="62.8" width="0.6" height="0.6" fill="#5a68b8" opacity="0.19"/>
<rect x="447.4" y="57.1" width="0.6" height="0.6" fill="#5a68b8" opacity="0.23"/>
<rect x="441.8" y="51.1" width="0.6" height="0.6" fill="#5a68b8" opacity="0.27"/>
<rect x="445.3" y="65.5" width="0.6" height="0.6" fill="#5a68b8" opacity="0.22"/>
<rect x="451.3" y="48.1" width="0.6" height="0.6" fill="#5a68b8" opacity="0.19"/>
<rect x="446.2" y="64.9" width="0.6" height="0.6" fill="#5a68b8" opacity="0.23"/>
<rect x="451.1" y="55.4" width="0.6" height="0.6" fill="#5a68b8" opacity="0.27"/>
<rect x="445.0" y="57.7" width="0.6" height="0.6" fill="#5a68b8" opacity="0.23"/>
<rect x="455.0" y="49.5" width="0.6" height="0.6" fill="#5a68b8" opacity="0.34"/>
<rect x="453.3" y="50.4" width="0.6" height="0.6" fill="#5a68b8" opacity="0.28"/>
<rect x="457.7" y="48.8" width="0.6" height="0.6" fill="#5a68b8" opacity="0.16"/>
<rect x="440.1" y="66.1" width="0.6" height="0.6" fill="#5a68b8" opacity="0.15"/>
<rect x="448.9" y="59.0" width="0.6" height="0.6" fill="#5a68b8" opacity="0.41"/>
<rect x="453.7" y="48.7" width="0.6" height="0.6" fill="#5a68b8" opacity="0.35"/>
<rect x="456.2" y="49.2" width="0.6" height="0.6" fill="#5a68b8" opacity="0.38"/>
<rect x="447.0" y="57.9" width="0.6" height="0.6" fill="#5a68b8" opacity="0.43"/>
<rect x="447.6" y="53.7" width="0.6" height="0.6" fill="#5a68b8" opacity="0.23"/>
<rect x="448.8" y="55.3" width="0.6" height="0.6" fill="#5a68b8" opacity="0.32"/>
<rect x="448.2" y="61.3" width="0.6" height="0.6" fill="#5a68b8" opacity="0.15"/>
<rect x="442.0" y="57.8" width="0.6" height="0.6" fill="#5a68b8" opacity="0.29"/>
<rect x="442.5" y="63.7" width="0.6" height="0.6" fill="#5a68b8" opacity="0.36"/>
<rect x="448.3" y="62.0" width="0.6" height="0.6" fill="#5a68b8" opacity="0.23"/>
<rect x="447.9" y="52.2" width="0.6" height="0.6" fill="#5a68b8" opacity="0.16"/>
<rect x="444.4" y="59.7" width="0.6" height="0.6" fill="#5a68b8" opacity="0.37"/>
<rect x="452.9" y="61.6" width="0.6" height="0.6" fill="#5a68b8" opacity="0.24"/>
<rect x="452.5" y="51.1" width="0.6" height="0.6" fill="#5a68b8" opacity="0.44"/>
<rect x="446.4" y="56.9" width="0.6" height="0.6" fill="#5a68b8" opacity="0.28"/>
<rect x="451.3" y="54.3" width="0.6" height="0.6" fill="#5a68b8" opacity="0.44"/>
<rect x="444.9" y="65.3" width="0.6" height="0.6" fill="#5a68b8" opacity="0.27"/>
<rect x="455.6" y="53.7" width="0.6" height="0.6" fill="#5a68b8" opacity="0.25"/>
<rect x="445.8" y="63.3" width="0.6" height="0.6" fill="#5a68b8" opacity="0.16"/>
<rect x="448.6" y="52.6" width="0.6" height="0.6" fill="#5a68b8" opacity="0.15"/>
<rect x="445.3" y="64.1" width="0.6" height="0.6" fill="#5a68b8" opacity="0.19"/>
<rect x="454.8" y="49.4" width="0.6" height="0.6" fill="#5a68b8" opacity="0.28"/>
<rect x="440.1" y="66.3" width="0.6" height="0.6" fill="#5a68b8" opacity="0.43"/>
<rect x="443.9" y="63.5" width="0.6" height="0.6" fill="#5a68b8" opacity="0.39"/>
<rect x="451.9" y="52.3" width="0.6" height="0.6" fill="#5a68b8" opacity="0.17"/>
<rect x="453.9" y="49.5" width="0.6" height="0.6" fill="#5a68b8" opacity="0.23"/>
<rect x="450.6" y="46.8" width="0.6" height="0.6" fill="#5a68b8" opacity="0.36"/>
<rect x="446.1" y="61.1" width="0.6" height="0.6" fill="#5a68b8" opacity="0.34"/>
<rect x="445.7" y="44.5" width="0.6" height="0.6" fill="#5a68b8" opacity="0.29"/>
<rect x="456.2" y="50.1" width="0.6" height="0.6" fill="#5a68b8" opacity="0.30"/>
<rect x="457.1" y="52.3" width="0.6" height="0.6" fill="#5a68b8" opacity="0.37"/>
<rect x="451.1" y="50.8" width="0.6" height="0.6" fill="#5a68b8" opacity="0.26"/>
<rect x="454.2" y="53.2" width="0.6" height="0.6" fill="#5a68b8" opacity="0.38"/>
<rect x="445.8" y="62.0" width="0.6" height="0.6" fill="#5a68b8" opacity="0.44"/>
<rect x="452.0" y="49.1" width="0.6" height="0.6" fill="#5a68b8" opacity="0.18"/>
<rect x="441.5" y="64.3" width="0.6" height="0.6" fill="#5a68b8" opacity="0.28"/>
<rect x="449.4" y="53.9" width="0.6" height="0.6" fill="#5a68b8" opacity="0.40"/>
<rect x="455.1" y="55.7" width="0.6" height="0.6" fill="#5a68b8" opacity="0.26"/>
<rect x="454.7" y="55.2" width="0.6" height="0.6" fill="#5a68b8" opacity="0.22"/>
<rect x="444.7" y="64.9" width="0.6" height="0.6" fill="#5a68b8" opacity="0.45"/>
<rect x="450.6" y="59.9" width="0.6" height="0.6" fill="#5a68b8" opacity="0.35"/>
<rect x="457.4" y="50.2" width="0.6" height="0.6" fill="#5a68b8" opacity="0.42"/>
<rect x="440.7" y="66.8" width="0.6" height="0.6" fill="#5a68b8" opacity="0.21"/>
<rect x="444.9" y="42.9" width="0.6" height="0.6" fill="#5a68b8" opacity="0.28"/>
<rect x="448.3" y="61.4" width="0.6" height="0.6" fill="#5a68b8" opacity="0.18"/>
<rect x="447.4" y="54.3" width="0.6" height="0.6" fill="#5a68b8" opacity="0.21"/>
<rect x="445.0" y="62.0" width="0.6" height="0.6" fill="#5a68b8" opacity="0.21"/>
<rect x="442.8" y="68.1" width="0.6" height="0.6" fill="#5a68b8" opacity="0.21"/>
<rect x="453.6" y="52.7" width="0.6" height="0.6" fill="#5a68b8" opacity="0.18"/>
<rect x="443.7" y="58.3" width="0.6" height="0.6" fill="#5a68b8" opacity="0.36"/>
<rect x="447.7" y="60.2" width="0.6" height="0.6" fill="#5a68b8" opacity="0.44"/>
<rect x="444.1" y="58.7" width="0.6" height="0.6" fill="#5a68b8" opacity="0.45"/>
<rect x="449.1" y="62.5" width="0.6" height="0.6" fill="#5a68b8" opacity="0.21"/>
<rect x="442.3" y="69.1" width="0.6" height="0.6" fill="#5a68b8" opacity="0.41"/>
<rect x="445.7" y="57.0" width="0.6" height="0.6" fill="#5a68b8" opacity="0.32"/>
<rect x="450.5" y="54.3" width="0.6" height="0.6" fill="#5a68b8" opacity="0.30"/>
<rect x="442.9" y="65.4" width="0.6" height="0.6" fill="#5a68b8" opacity="0.43"/>
<rect x="441.4" y="65.0" width="0.6" height="0.6" fill="#5a68b8" opacity="0.19"/>
<rect x="453.4" y="48.2" width="0.6" height="0.6" fill="#5a68b8" opacity="0.17"/>
<rect x="448.2" y="44.6" width="0.6" height="0.6" fill="#5a68b8" opacity="0.20"/>
<rect x="447.4" y="50.3" width="0.6" height="0.6" fill="#5a68b8" opacity="0.40"/>
<rect x="453.2" y="50.4" width="0.6" height="0.6" fill="#5a68b8" opacity="0.27"/>
<rect x="444.7" y="67.3" width="0.6" height="0.6" fill="#5a68b8" opacity="0.42"/>
<rect x="440.5" y="68.1" width="0.6" height="0.6" fill="#5a68b8" opacity="0.19"/>
<rect x="449.3" y="55.5" width="0.6" height="0.6" fill="#5a68b8" opacity="0.24"/>
<rect x="444.8" y="57.3" width="0.6" height="0.6" fill="#5a68b8" opacity="0.28"/>
<rect x="440.7" y="66.6" width="0.6" height="0.6" fill="#5a68b8" opacity="0.22"/>
<rect x="450.7" y="52.8" width="0.6" height="0.6" fill="#5a68b8" opacity="0.18"/>
<rect x="444.8" y="66.1" width="0.6" height="0.6" fill="#5a68b8" opacity="0.28"/>
<rect x="451.9" y="60.1" width="0.6" height="0.6" fill="#5a68b8" opacity="0.38"/>
<rect x="451.2" y="58.4" width="0.6" height="0.6" fill="#5a68b8" opacity="0.26"/>
<rect x="458.9" y="52.4" width="0.6" height="0.6" fill="#5a68b8" opacity="0.39"/>
<rect x="445.6" y="63.6" width="0.6" height="0.6" fill="#5a68b8" opacity="0.44"/>
<rect x="457.1" y="51.1" width="0.6" height="0.6" fill="#5a68b8" opacity="0.26"/>
<rect x="451.5" y="53.5" width="0.6" height="0.6" fill="#5a68b8" opacity="0.23"/>
<rect x="454.8" y="52.8" width="0.6" height="0.6" fill="#5a68b8" opacity="0.23"/>
<rect x="447.3" y="56.9" width="0.6" height="0.6" fill="#5a68b8" opacity="0.20"/>
<rect x="445.7" y="65.9" width="0.6" height="0.6" fill="#5a68b8" opacity="0.39"/>
<rect x="441.9" y="65.0" width="0.6" height="0.6" fill="#5a68b8" opacity="0.26"/>
<rect x="447.6" y="48.0" width="0.6" height="0.6" fill="#5a68b8" opacity="0.45"/>
<rect x="447.5" y="55.2" width="0.6" height="0.6" fill="#5a68b8" opacity="0.23"/>
<rect x="449.9" y="46.1" width="0.6" height="0.6" fill="#5a68b8" opacity="0.20"/>
<rect x="449.1" y="51.2" width="0.6" height="0.6" fill="#5a68b8" opacity="0.23"/>
<rect x="453.2" y="56.0" width="0.6" height="0.6" fill="#5a68b8" opacity="0.15"/>
<rect x="442.5" y="68.1" width="0.6" height="0.6" fill="#5a68b8" opacity="0.28"/>
<rect x="449.0" y="57.7" width="0.6" height="0.6" fill="#5a68b8" opacity="0.16"/>
<rect x="443.1" y="69.4" width="0.6" height="0.6" fill="#5a68b8" opacity="0.26"/>
<rect x="442.5" y="62.4" width="0.6" height="0.6" fill="#5a68b8" opacity="0.29"/>
<rect x="446.3" y="65.7" width="0.6" height="0.6" fill="#5a68b8" opacity="0.19"/>
<rect x="440.4" y="65.3" width="0.6" height="0.6" fill="#5a68b8" opacity="0.23"/>
<rect x="440.6" y="66.7" width="0.6" height="0.6" fill="#5a68b8" opacity="0.26"/>
<rect x="444.4" y="51.0" width="0.6" height="0.6" fill="#5a68b8" opacity="0.42"/>
<rect x="441.0" y="66.6" width="0.6" height="0.6" fill="#5a68b8" opacity="0.22"/>
<rect x="442.8" y="64.9" width="0.6" height="0.6" fill="#5a68b8" opacity="0.19"/>
<rect x="442.7" y="62.3" width="0.6" height="0.6" fill="#5a68b8" opacity="0.34"/>
<rect x="453.5" y="51.6" width="0.6" height="0.6" fill="#5a68b8" opacity="0.42"/>
<rect x="452.1" y="52.1" width="0.6" height="0.6" fill="#5a68b8" opacity="0.40"/>
<rect x="446.3" y="49.2" width="0.6" height="0.6" fill="#5a68b8" opacity="0.18"/>
<rect x="446.2" y="63.2" width="0.6" height="0.6" fill="#5a68b8" opacity="0.37"/>
<rect x="451.7" y="54.6" width="0.6" height="0.6" fill="#5a68b8" opacity="0.28"/>
<rect x="454.6" y="53.6" width="0.6" height="0.6" fill="#5a68b8" opacity="0.34"/>
<rect x="456.5" y="49.7" width="0.6" height="0.6" fill="#5a68b8" opacity="0.22"/>
<rect x="452.4" y="52.0" width="0.6" height="0.6" fill="#5a68b8" opacity="0.25"/>
<rect x="451.7" y="50.2" width="0.6" height="0.6" fill="#5a68b8" opacity="0.36"/>
<rect x="448.8" y="52.6" width="0.6" height="0.6" fill="#5a68b8" opacity="0.40"/>
<rect x="451.5" y="54.2" width="0.6" height="0.6" fill="#5a68b8" opacity="0.24"/>
<rect x="442.6" y="62.0" width="0.6" height="0.6" fill="#5a68b8" opacity="0.42"/>
<rect x="444.7" y="65.9" width="0.6" height="0.6" fill="#5a68b8" opacity="0.19"/>
<rect x="443.4" y="67.8" width="0.6" height="0.6" fill="#5a68b8" opacity="0.34"/>
<rect x="449.9" y="52.6" width="0.6" height="0.6" fill="#5a68b8" opacity="0.40"/>
<rect x="450.2" y="49.8" width="0.6" height="0.6" fill="#5a68b8" opacity="0.41"/>
<rect x="454.0" y="50.1" width="0.6" height="0.6" fill="#5a68b8" opacity="0.16"/>
<rect x="453.9" y="50.0" width="0.6" height="0.6" fill="#5a68b8" opacity="0.40"/>
<rect x="449.7" y="55.7" width="0.6" height="0.6" fill="#5a68b8" opacity="0.21"/>
<rect x="447.8" y="62.1" width="0.6" height="0.6" fill="#5a68b8" opacity="0.23"/>
<rect x="444.5" y="60.6" width="0.6" height="0.6" fill="#5a68b8" opacity="0.30"/>
<rect x="459.5" y="54.3" width="0.6" height="0.6" fill="#5a68b8" opacity="0.27"/>
<rect x="446.9" y="58.4" width="0.6" height="0.6" fill="#5a68b8" opacity="0.21"/>
<rect x="449.5" y="48.9" width="0.6" height="0.6" fill="#5a68b8" opacity="0.20"/>
<rect x="443.9" y="68.8" width="0.6" height="0.6" fill="#5a68b8" opacity="0.30"/>
<rect x="448.2" y="56.9" width="0.6" height="0.6" fill="#5a68b8" opacity="0.30"/>
<rect x="446.6" y="61.5" width="0.6" height="0.6" fill="#5a68b8" opacity="0.21"/>
<rect x="449.1" y="52.8" width="0.6" height="0.6" fill="#5a68b8" opacity="0.34"/>
<rect x="442.3" y="66.8" width="0.6" height="0.6" fill="#5a68b8" opacity="0.26"/>
<rect x="442.7" y="58.9" width="0.6" height="0.6" fill="#5a68b8" opacity="0.18"/>
<rect x="454.7" y="50.7" width="0.6" height="0.6" fill="#5a68b8" opacity="0.30"/>
<rect x="451.7" y="61.6" width="0.6" height="0.6" fill="#5a68b8" opacity="0.29"/>
<rect x="447.1" y="56.2" width="0.6" height="0.6" fill="#5a68b8" opacity="0.25"/>
<rect x="443.8" y="62.9" width="0.6" height="0.6" fill="#5a68b8" opacity="0.37"/>
<rect x="442.6" y="62.6" width="0.6" height="0.6" fill="#5a68b8" opacity="0.29"/>
<rect x="451.5" y="49.8" width="0.6" height="0.6" fill="#5a68b8" opacity="0.24"/>
<rect x="450.9" y="54.1" width="0.6" height="0.6" fill="#5a68b8" opacity="0.25"/>
<rect x="450.4" y="58.3" width="0.6" height="0.6" fill="#5a68b8" opacity="0.21"/>
<rect x="452.6" y="48.3" width="0.6" height="0.6" fill="#5a68b8" opacity="0.27"/>
<rect x="453.3" y="46.2" width="0.6" height="0.6" fill="#5a68b8" opacity="0.28"/>
<rect x="443.9" y="63.6" width="0.6" height="0.6" fill="#5a68b8" opacity="0.16"/>
<rect x="449.4" y="59.1" width="0.6" height="0.6" fill="#5a68b8" opacity="0.30"/>
<rect x="448.2" y="53.1" width="0.6" height="0.6" fill="#5a68b8" opacity="0.37"/>
<rect x="449.3" y="48.6" width="0.6" height="0.6" fill="#5a68b8" opacity="0.37"/>
<rect x="449.2" y="60.2" width="0.6" height="0.6" fill="#5a68b8" opacity="0.36"/>
<rect x="447.5" y="47.1" width="0.6" height="0.6" fill="#5a68b8" opacity="0.29"/>
<rect x="445.2" y="59.4" width="0.6" height="0.6" fill="#5a68b8" opacity="0.36"/>
<rect x="451.9" y="56.8" width="0.6" height="0.6" fill="#5a68b8" opacity="0.29"/>
<rect x="446.8" y="53.5" width="0.6" height="0.6" fill="#5a68b8" opacity="0.35"/>
<rect x="449.5" y="52.0" width="0.6" height="0.6" fill="#5a68b8" opacity="0.44"/>
<rect x="441.9" y="67.5" width="0.6" height="0.6" fill="#5a68b8" opacity="0.31"/>
<rect x="439.6" y="63.8" width="0.6" height="0.6" fill="#5a68b8" opacity="0.37"/>
<rect x="444.1" y="54.5" width="0.6" height="0.6" fill="#5a68b8" opacity="0.43"/>
<rect x="444.2" y="62.4" width="0.6" height="0.6" fill="#5a68b8" opacity="0.38"/>
<rect x="444.9" y="66.7" width="0.6" height="0.6" fill="#5a68b8" opacity="0.27"/>
<rect x="441.7" y="68.7" width="0.6" height="0.6" fill="#5a68b8" opacity="0.36"/>
<rect x="447.0" y="60.1" width="0.6" height="0.6" fill="#5a68b8" opacity="0.31"/>
<rect x="441.4" y="60.3" width="0.6" height="0.6" fill="#5a68b8" opacity="0.21"/>
<rect x="442.6" y="64.7" width="0.6" height="0.6" fill="#5a68b8" opacity="0.32"/>
<rect x="444.5" y="62.1" width="0.6" height="0.6" fill="#5a68b8" opacity="0.34"/>
<rect x="452.1" y="51.4" width="0.6" height="0.6" fill="#5a68b8" opacity="0.19"/>
<rect x="454.7" y="54.2" width="0.6" height="0.6" fill="#5a68b8" opacity="0.23"/>
<rect x="447.7" y="59.8" width="0.6" height="0.6" fill="#5a68b8" opacity="0.37"/>
<rect x="445.8" y="62.6" width="0.6" height="0.6" fill="#5a68b8" opacity="0.29"/>
<rect x="444.3" y="56.2" width="0.6" height="0.6" fill="#5a68b8" opacity="0.41"/>
<rect x="445.7" y="66.2" width="0.6" height="0.6" fill="#5a68b8" opacity="0.39"/>
<rect x="443.8" y="65.6" width="0.6" height="0.6" fill="#5a68b8" opacity="0.44"/>
<rect x="449.9" y="54.6" width="0.6" height="0.6" fill="#5a68b8" opacity="0.19"/>
<rect x="444.5" y="64.1" width="0.6" height="0.6" fill="#5a68b8" opacity="0.39"/>
<rect x="447.8" y="64.9" width="0.6" height="0.6" fill="#5a68b8" opacity="0.38"/>
<rect x="453.0" y="56.3" width="0.6" height="0.6" fill="#5a68b8" opacity="0.36"/>
<rect x="447.1" y="54.9" width="0.6" height="0.6" fill="#5a68b8" opacity="0.41"/>
<rect x="449.3" y="56.7" width="0.6" height="0.6" fill="#5a68b8" opacity="0.17"/>
<rect x="450.5" y="59.8" width="0.6" height="0.6" fill="#5a68b8" opacity="0.30"/>
<rect x="448.7" y="57.1" width="0.6" height="0.6" fill="#5a68b8" opacity="0.32"/>
<rect x="447.8" y="51.8" width="0.6" height="0.6" fill="#5a68b8" opacity="0.28"/>
<rect x="458.2" y="50.5" width="0.6" height="0.6" fill="#5a68b8" opacity="0.33"/>
<rect x="450.4" y="53.0" width="0.6" height="0.6" fill="#5a68b8" opacity="0.44"/>
<rect x="443.3" y="55.7" width="0.6" height="0.6" fill="#5a68b8" opacity="0.34"/>
<rect x="447.5" y="60.3" width="0.6" height="0.6" fill="#5a68b8" opacity="0.29"/>
<rect x="448.0" y="56.0" width="0.6" height="0.6" fill="#5a68b8" opacity="0.32"/>
<rect x="452.6" y="53.2" width="0.6" height="0.6" fill="#5a68b8" opacity="0.27"/>
<rect x="448.9" y="58.3" width="0.6" height="0.6" fill="#5a68b8" opacity="0.39"/>
<rect x="445.5" y="61.2" width="0.6" height="0.6" fill="#5a68b8" opacity="0.33"/>
<rect x="449.6" y="54.3" width="0.6" height="0.6" fill="#5a68b8" opacity="0.31"/>
<rect x="440.5" y="66.0" width="0.6" height="0.6" fill="#5a68b8" opacity="0.21"/>
<rect x="447.9" y="47.3" width="0.6" height="0.6" fill="#5a68b8" opacity="0.33"/>
<rect x="442.7" y="50.8" width="0.6" height="0.6" fill="#5a68b8" opacity="0.33"/>
<rect x="452.4" y="52.7" width="0.6" height="0.6" fill="#5a68b8" opacity="0.18"/>
<rect x="446.6" y="64.7" width="0.6" height="0.6" fill="#5a68b8" opacity="0.42"/>
<rect x="447.5" y="52.5" width="0.6" height="0.6" fill="#5a68b8" opacity="0.23"/>
<rect x="442.9" y="60.5" width="0.6" height="0.6" fill="#5a68b8" opacity="0.28"/>
<rect x="450.4" y="54.6" width="0.6" height="0.6" fill="#5a68b8" opacity="0.19"/>
<rect x="449.3" y="50.0" width="0.6" height="0.6" fill="#5a68b8" opacity="0.28"/>
<rect x="442.1" y="69.9" width="0.6" height="0.6" fill="#5a68b8" opacity="0.29"/>
<rect x="445.9" y="58.6" width="0.6" height="0.6" fill="#5a68b8" opacity="0.21"/>
<rect x="444.3" y="64.5" width="0.6" height="0.6" fill="#5a68b8" opacity="0.44"/>
<rect x="443.1" y="65.5" width="0.6" height="0.6" fill="#5a68b8" opacity="0.16"/>
<rect x="452.2" y="53.1" width="0.6" height="0.6" fill="#5a68b8" opacity="0.38"/>
<rect x="452.3" y="52.3" width="0.6" height="0.6" fill="#5a68b8" opacity="0.18"/>
<rect x="447.8" y="54.9" width="0.6" height="0.6" fill="#5a68b8" opacity="0.44"/>
<rect x="449.7" y="52.4" width="0.6" height="0.6" fill="#5a68b8" opacity="0.35"/>
<rect x="454.4" y="52.2" width="0.6" height="0.6" fill="#5a68b8" opacity="0.41"/>
<rect x="447.4" y="57.1" width="0.6" height="0.6" fill="#5a68b8" opacity="0.32"/>
<rect x="446.5" y="58.5" width="0.6" height="0.6" fill="#5a68b8" opacity="0.34"/>
<rect x="446.3" y="53.8" width="0.6" height="0.6" fill="#5a68b8" opacity="0.39"/>
<rect x="452.8" y="49.0" width="0.6" height="0.6" fill="#5a68b8" opacity="0.44"/>
<rect x="451.8" y="53.0" width="0.6" height="0.6" fill="#5a68b8" opacity="0.33"/>
<rect x="454.6" y="48.9" width="0.6" height="0.6" fill="#5a68b8" opacity="0.42"/>
<rect x="448.3" y="59.7" width="0.6" height="0.6" fill="#5a68b8" opacity="0.42"/>
<rect x="451.5" y="51.1" width="0.6" height="0.6" fill="#5a68b8" opacity="0.33"/>
<rect x="455.1" y="52.6" width="0.6" height="0.6" fill="#5a68b8" opacity="0.40"/>
<rect x="453.5" y="52.3" width="0.6" height="0.6" fill="#5a68b8" opacity="0.39"/>
<rect x="456.5" y="56.1" width="0.6" height="0.6" fill="#5a68b8" opacity="0.18"/>
<rect x="448.7" y="56.4" width="0.6" height="0.6" fill="#5a68b8" opacity="0.22"/>
<rect x="442.7" y="50.9" width="0.6" height="0.6" fill="#5a68b8" opacity="0.21"/>
<rect x="443.8" y="62.0" width="0.6" height="0.6" fill="#5a68b8" opacity="0.39"/>
<rect x="451.6" y="53.2" width="0.6" height="0.6" fill="#5a68b8" opacity="0.42"/>
<rect x="448.3" y="47.1" width="0.6" height="0.6" fill="#5a68b8" opacity="0.21"/>
<rect x="443.7" y="62.9" width="0.6" height="0.6" fill="#5a68b8" opacity="0.32"/>
<rect x="445.8" y="61.6" width="0.6" height="0.6" fill="#5a68b8" opacity="0.26"/>
<rect x="443.7" y="65.2" width="0.6" height="0.6" fill="#5a68b8" opacity="0.20"/>
<rect x="448.3" y="54.6" width="0.6" height="0.6" fill="#5a68b8" opacity="0.45"/>
<rect x="451.1" y="50.2" width="0.6" height="0.6" fill="#5a68b8" opacity="0.23"/>
<rect x="445.4" y="48.3" width="0.6" height="0.6" fill="#5a68b8" opacity="0.44"/>
<rect x="442.8" y="60.9" width="0.6" height="0.6" fill="#5a68b8" opacity="0.20"/>
<rect x="445.0" y="67.7" width="0.6" height="0.6" fill="#5a68b8" opacity="0.43"/>
<rect x="450.9" y="48.2" width="0.6" height="0.6" fill="#5a68b8" opacity="0.27"/>
<rect x="444.5" y="64.7" width="0.6" height="0.6" fill="#5a68b8" opacity="0.44"/>
<rect x="447.6" y="53.6" width="0.6" height="0.6" fill="#5a68b8" opacity="0.20"/>
<rect x="455.7" y="50.2" width="0.6" height="0.6" fill="#5a68b8" opacity="0.26"/>
<rect x="454.5" y="48.7" width="0.6" height="0.6" fill="#5a68b8" opacity="0.16"/>
<rect x="448.9" y="51.3" width="0.6" height="0.6" fill="#5a68b8" opacity="0.19"/>
<rect x="452.1" y="51.6" width="0.6" height="0.6" fill="#5a68b8" opacity="0.24"/>
<rect x="448.8" y="55.1" width="0.6" height="0.6" fill="#5a68b8" opacity="0.19"/>
<rect x="449.9" y="59.1" width="0.6" height="0.6" fill="#5a68b8" opacity="0.19"/>
<rect x="454.8" y="56.2" width="0.6" height="0.6" fill="#5a68b8" opacity="0.43"/>
<rect x="447.0" y="62.6" width="0.6" height="0.6" fill="#5a68b8" opacity="0.42"/>
<rect x="443.5" y="66.2" width="0.6" height="0.6" fill="#5a68b8" opacity="0.34"/>
<rect x="444.9" y="58.6" width="0.6" height="0.6" fill="#5a68b8" opacity="0.29"/>
<rect x="451.3" y="56.7" width="0.6" height="0.6" fill="#5a68b8" opacity="0.32"/>
<rect x="445.3" y="64.7" width="0.6" height="0.6" fill="#5a68b8" opacity="0.27"/>
<rect x="445.5" y="64.1" width="0.6" height="0.6" fill="#5a68b8" opacity="0.30"/>
<rect x="447.5" y="61.3" width="0.6" height="0.6" fill="#5a68b8" opacity="0.44"/>
<rect x="443.3" y="67.8" width="0.6" height="0.6" fill="#5a68b8" opacity="0.24"/>
<rect x="447.5" y="64.1" width="0.6" height="0.6" fill="#5a68b8" opacity="0.45"/>
<rect x="454.8" y="47.9" width="0.6" height="0.6" fill="#5a68b8" opacity="0.17"/>
<rect x="456.1" y="58.4" width="0.6" height="0.6" fill="#5a68b8" opacity="0.15"/>
<rect x="450.9" y="52.4" width="0.6" height="0.6" fill="#5a68b8" opacity="0.31"/>
<rect x="442.7" y="64.7" width="0.6" height="0.6" fill="#5a68b8" opacity="0.22"/>
<rect x="450.4" y="56.6" width="0.6" height="0.6" fill="#5a68b8" opacity="0.21"/>
<rect x="442.4" y="66.0" width="0.6" height="0.6" fill="#5a68b8" opacity="0.30"/>
<rect x="447.4" y="61.9" width="0.6" height="0.6" fill="#5a68b8" opacity="0.32"/>
<rect x="443.3" y="62.6" width="0.6" height="0.6" fill="#5a68b8" opacity="0.27"/>
<rect x="456.2" y="54.7" width="0.6" height="0.6" fill="#5a68b8" opacity="0.41"/>
<rect x="454.0" y="59.7" width="0.6" height="0.6" fill="#5a68b8" opacity="0.29"/>
<rect x="452.5" y="50.2" width="0.6" height="0.6" fill="#5a68b8" opacity="0.20"/>
<rect x="444.9" y="58.9" width="0.6" height="0.6" fill="#5a68b8" opacity="0.31"/>
<rect x="446.4" y="57.4" width="0.6" height="0.6" fill="#5a68b8" opacity="0.41"/>
<rect x="442.5" y="58.3" width="0.6" height="0.6" fill="#5a68b8" opacity="0.38"/>
<rect x="443.2" y="66.7" width="0.6" height="0.6" fill="#5a68b8" opacity="0.31"/>
<rect x="451.0" y="56.9" width="0.6" height="0.6" fill="#5a68b8" opacity="0.22"/>
<rect x="445.8" y="64.5" width="0.6" height="0.6" fill="#5a68b8" opacity="0.18"/>
<rect x="449.7" y="53.1" width="0.6" height="0.6" fill="#5a68b8" opacity="0.33"/>
<rect x="444.8" y="55.0" width="0.6" height="0.6" fill="#5a68b8" opacity="0.37"/>
<rect x="444.7" y="68.6" width="0.6" height="0.6" fill="#5a68b8" opacity="0.30"/>
<rect x="447.6" y="63.3" width="0.6" height="0.6" fill="#5a68b8" opacity="0.41"/>
<rect x="444.1" y="64.8" width="0.6" height="0.6" fill="#5a68b8" opacity="0.20"/>
<rect x="454.3" y="50.9" width="0.6" height="0.6" fill="#5a68b8" opacity="0.31"/>
<rect x="450.4" y="59.9" width="0.6" height="0.6" fill="#5a68b8" opacity="0.25"/>
<rect x="445.1" y="63.8" width="0.6" height="0.6" fill="#5a68b8" opacity="0.42"/>
<rect x="451.1" y="50.4" width="0.6" height="0.6" fill="#5a68b8" opacity="0.31"/>
<rect x="455.3" y="48.5" width="0.6" height="0.6" fill="#5a68b8" opacity="0.26"/>
<rect x="451.0" y="57.9" width="0.6" height="0.6" fill="#5a68b8" opacity="0.30"/>
<rect x="445.8" y="69.1" width="0.6" height="0.6" fill="#5a68b8" opacity="0.34"/>
<rect x="445.5" y="45.9" width="0.6" height="0.6" fill="#5a68b8" opacity="0.16"/>
<rect x="450.6" y="54.0" width="0.6" height="0.6" fill="#5a68b8" opacity="0.43"/>
<rect x="452.8" y="57.7" width="0.6" height="0.6" fill="#5a68b8" opacity="0.28"/>
<rect x="453.0" y="47.8" width="0.6" height="0.6" fill="#5a68b8" opacity="0.33"/>
<rect x="450.9" y="47.5" width="0.6" height="0.6" fill="#5a68b8" opacity="0.29"/>
<rect x="449.7" y="57.5" width="0.6" height="0.6" fill="#5a68b8" opacity="0.27"/>
<rect x="446.9" y="62.6" width="0.6" height="0.6" fill="#5a68b8" opacity="0.31"/>
<rect x="447.8" y="48.4" width="0.6" height="0.6" fill="#5a68b8" opacity="0.36"/>
<rect x="445.3" y="57.0" width="0.6" height="0.6" fill="#5a68b8" opacity="0.29"/>
<rect x="446.7" y="60.3" width="0.6" height="0.6" fill="#5a68b8" opacity="0.33"/>
<rect x="441.1" y="69.5" width="0.6" height="0.6" fill="#5a68b8" opacity="0.22"/>
<rect x="446.7" y="55.7" width="0.6" height="0.6" fill="#5a68b8" opacity="0.38"/>
<rect x="445.8" y="65.2" width="0.6" height="0.6" fill="#5a68b8" opacity="0.28"/>
<rect x="442.7" y="66.3" width="0.6" height="0.6" fill="#5a68b8" opacity="0.22"/>
<rect x="451.3" y="46.8" width="0.6" height="0.6" fill="#5a68b8" opacity="0.25"/>
<rect x="444.1" y="60.6" width="0.6" height="0.6" fill="#5a68b8" opacity="0.31"/>
<rect x="446.2" y="48.6" width="0.6" height="0.6" fill="#5a68b8" opacity="0.29"/>
<rect x="447.5" y="51.9" width="0.6" height="0.6" fill="#5a68b8" opacity="0.15"/>
<rect x="454.6" y="53.8" width="0.6" height="0.6" fill="#5a68b8" opacity="0.44"/>
<rect x="445.8" y="54.6" width="0.6" height="0.6" fill="#5a68b8" opacity="0.26"/>
<rect x="444.0" y="57.4" width="0.6" height="0.6" fill="#5a68b8" opacity="0.24"/>
<rect x="444.7" y="57.8" width="0.6" height="0.6" fill="#5a68b8" opacity="0.40"/>
<rect x="451.4" y="59.5" width="0.6" height="0.6" fill="#5a68b8" opacity="0.24"/>
<rect x="441.9" y="65.7" width="0.6" height="0.6" fill="#5a68b8" opacity="0.25"/>
<rect x="456.9" y="50.6" width="0.6" height="0.6" fill="#5a68b8" opacity="0.21"/>
<rect x="447.5" y="60.0" width="0.6" height="0.6" fill="#5a68b8" opacity="0.30"/>
<rect x="454.2" y="48.6" width="0.6" height="0.6" fill="#5a68b8" opacity="0.45"/>
<rect x="444.5" y="54.3" width="0.6" height="0.6" fill="#5a68b8" opacity="0.33"/>
<rect x="449.0" y="60.5" width="0.6" height="0.6" fill="#5a68b8" opacity="0.31"/>
<rect x="443.2" y="64.3" width="0.6" height="0.6" fill="#5a68b8" opacity="0.41"/>
<rect x="450.4" y="47.3" width="0.6" height="0.6" fill="#5a68b8" opacity="0.34"/>
<rect x="451.9" y="46.5" width="0.6" height="0.6" fill="#5a68b8" opacity="0.25"/>
<rect x="451.7" y="45.9" width="0.6" height="0.6" fill="#5a68b8" opacity="0.18"/>
<rect x="448.5" y="50.1" width="0.6" height="0.6" fill="#5a68b8" opacity="0.28"/>
<rect x="443.7" y="65.5" width="0.6" height="0.6" fill="#5a68b8" opacity="0.30"/>
<rect x="446.6" y="63.6" width="0.6" height="0.6" fill="#5a68b8" opacity="0.45"/>
<rect x="449.0" y="53.9" width="0.6" height="0.6" fill="#5a68b8" opacity="0.39"/>
<rect x="445.8" y="60.6" width="0.6" height="0.6" fill="#5a68b8" opacity="0.33"/>
<rect x="455.5" y="57.6" width="0.6" height="0.6" fill="#5a68b8" opacity="0.32"/>
<rect x="443.3" y="62.6" width="0.6" height="0.6" fill="#5a68b8" opacity="0.27"/>
<rect x="444.5" y="66.6" width="0.6" height="0.6" fill="#5a68b8" opacity="0.18"/>
<rect x="445.1" y="66.8" width="0.6" height="0.6" fill="#5a68b8" opacity="0.39"/>
<rect x="443.1" y="66.2" width="0.6" height="0.6" fill="#5a68b8" opacity="0.25"/>
<rect x="449.8" y="52.3" width="0.6" height="0.6" fill="#5a68b8" opacity="0.42"/>
<rect x="449.7" y="57.0" width="0.6" height="0.6" fill="#5a68b8" opacity="0.27"/>
<rect x="443.2" y="68.5" width="0.6" height="0.6" fill="#5a68b8" opacity="0.34"/>
<rect x="446.8" y="62.8" width="0.6" height="0.6" fill="#5a68b8" opacity="0.41"/>
<rect x="447.9" y="62.2" width="0.6" height="0.6" fill="#5a68b8" opacity="0.44"/>
<rect x="451.8" y="58.8" width="0.6" height="0.6" fill="#5a68b8" opacity="0.27"/>
<rect x="451.8" y="53.9" width="0.6" height="0.6" fill="#5a68b8" opacity="0.39"/>
<rect x="444.3" y="62.6" width="0.6" height="0.6" fill="#5a68b8" opacity="0.21"/>
<rect x="453.1" y="48.2" width="0.6" height="0.6" fill="#5a68b8" opacity="0.27"/>
<rect x="449.2" y="60.3" width="0.6" height="0.6" fill="#5a68b8" opacity="0.40"/>
<rect x="447.1" y="60.2" width="0.6" height="0.6" fill="#5a68b8" opacity="0.16"/>
<rect x="451.7" y="55.5" width="0.6" height="0.6" fill="#5a68b8" opacity="0.36"/>
<rect x="444.8" y="66.6" width="0.6" height="0.6" fill="#5a68b8" opacity="0.40"/>
<rect x="454.4" y="53.3" width="0.6" height="0.6" fill="#5a68b8" opacity="0.37"/>
<rect x="448.0" y="61.5" width="0.6" height="0.6" fill="#5a68b8" opacity="0.22"/>
<rect x="447.8" y="58.8" width="0.6" height="0.6" fill="#5a68b8" opacity="0.23"/>
<rect x="449.2" y="47.9" width="0.6" height="0.6" fill="#5a68b8" opacity="0.21"/>
<rect x="457.6" y="53.1" width="0.6" height="0.6" fill="#5a68b8" opacity="0.31"/>
<rect x="444.9" y="61.5" width="0.6" height="0.6" fill="#5a68b8" opacity="0.24"/>
<rect x="445.2" y="58.6" width="0.6" height="0.6" fill="#5a68b8" opacity="0.41"/>
<rect x="445.3" y="59.9" width="0.6" height="0.6" fill="#5a68b8" opacity="0.30"/>
<rect x="445.9" y="61.4" width="0.6" height="0.6" fill="#5a68b8" opacity="0.22"/>
<rect x="442.8" y="63.5" width="0.6" height="0.6" fill="#5a68b8" opacity="0.38"/>
<rect x="456.8" y="51.6" width="0.6" height="0.6" fill="#5a68b8" opacity="0.23"/>
<rect x="440.7" y="66.7" width="0.6" height="0.6" fill="#5a68b8" opacity="0.35"/>
<rect x="452.8" y="56.3" width="0.6" height="0.6" fill="#5a68b8" opacity="0.26"/>
<rect x="450.5" y="56.2" width="0.6" height="0.6" fill="#5a68b8" opacity="0.36"/>
<rect x="442.3" y="67.0" width="0.6" height="0.6" fill="#5a68b8" opacity="0.21"/>
<rect x="445.7" y="60.6" width="0.6" height="0.6" fill="#5a68b8" opacity="0.20"/>
<rect x="454.9" y="52.3" width="0.6" height="0.6" fill="#5a68b8" opacity="0.23"/>
<rect x="445.9" y="59.8" width="0.6" height="0.6" fill="#5a68b8" opacity="0.38"/>
<rect x="447.5" y="62.2" width="0.6" height="0.6" fill="#5a68b8" opacity="0.33"/>
<rect x="443.2" y="67.3" width="0.6" height="0.6" fill="#5a68b8" opacity="0.42"/>
<rect x="450.0" y="51.9" width="0.6" height="0.6" fill="#5a68b8" opacity="0.27"/>
<rect x="451.4" y="54.8" width="0.6" height="0.6" fill="#5a68b8" opacity="0.28"/>
<rect x="456.8" y="49.9" width="0.6" height="0.6" fill="#5a68b8" opacity="0.40"/>
<rect x="448.8" y="53.9" width="0.6" height="0.6" fill="#5a68b8" opacity="0.30"/>
<rect x="450.3" y="48.1" width="0.6" height="0.6" fill="#5a68b8" opacity="0.16"/>
<rect x="450.5" y="51.4" width="0.6" height="0.6" fill="#5a68b8" opacity="0.34"/>
<rect x="446.7" y="55.7" width="0.6" height="0.6" fill="#5a68b8" opacity="0.26"/>
<rect x="448.5" y="60.3" width="0.6" height="0.6" fill="#5a68b8" opacity="0.35"/>
<rect x="447.2" y="64.9" width="0.6" height="0.6" fill="#5a68b8" opacity="0.28"/>
<rect x="451.7" y="48.1" width="0.6" height="0.6" fill="#5a68b8" opacity="0.32"/>
<rect x="446.0" y="59.3" width="0.6" height="0.6" fill="#5a68b8" opacity="0.38"/>
<rect x="442.3" y="62.2" width="0.6" height="0.6" fill="#5a68b8" opacity="0.40"/>
<rect x="444.0" y="66.6" width="0.6" height="0.6" fill="#5a68b8" opacity="0.21"/>
<rect x="443.4" y="66.5" width="0.6" height="0.6" fill="#5a68b8" opacity="0.18"/>
<rect x="443.4" y="60.0" width="0.6" height="0.6" fill="#5a68b8" opacity="0.20"/>
<rect x="446.8" y="68.4" width="0.6" height="0.6" fill="#5a68b8" opacity="0.37"/>
<rect x="451.4" y="46.9" width="0.6" height="0.6" fill="#5a68b8" opacity="0.30"/>
<rect x="449.5" y="61.2" width="0.6" height="0.6" fill="#5a68b8" opacity="0.34"/>
<rect x="451.1" y="54.3" width="0.6" height="0.6" fill="#5a68b8" opacity="0.23"/>
<rect x="445.7" y="63.0" width="0.6" height="0.6" fill="#5a68b8" opacity="0.24"/>
<rect x="440.6" y="61.0" width="0.6" height="0.6" fill="#5a68b8" opacity="0.43"/>
<rect x="443.2" y="64.5" width="0.6" height="0.6" fill="#5a68b8" opacity="0.21"/>
<rect x="448.4" y="50.1" width="0.6" height="0.6" fill="#5a68b8" opacity="0.32"/>
<rect x="446.8" y="61.5" width="0.6" height="0.6" fill="#5a68b8" opacity="0.34"/>
<rect x="452.2" y="49.6" width="0.6" height="0.6" fill="#5a68b8" opacity="0.43"/>
<rect x="446.7" y="56.3" width="0.6" height="0.6" fill="#5a68b8" opacity="0.17"/>
<rect x="454.3" y="56.3" width="0.6" height="0.6" fill="#5a68b8" opacity="0.44"/>
<rect x="444.8" y="67.3" width="0.6" height="0.6" fill="#5a68b8" opacity="0.15"/>
<rect x="457.7" y="51.9" width="0.6" height="0.6" fill="#5a68b8" opacity="0.28"/>
<rect x="443.6" y="60.4" width="0.6" height="0.6" fill="#5a68b8" opacity="0.28"/>
<rect x="452.1" y="52.9" width="0.6" height="0.6" fill="#5a68b8" opacity="0.20"/>
<rect x="444.1" y="60.0" width="0.6" height="0.6" fill="#5a68b8" opacity="0.18"/>
<rect x="444.9" y="62.0" width="0.6" height="0.6" fill="#5a68b8" opacity="0.42"/>
<rect x="460.2" y="53.4" width="0.6" height="0.6" fill="#5a68b8" opacity="0.17"/>
<rect x="445.9" y="51.3" width="0.6" height="0.6" fill="#5a68b8" opacity="0.32"/>
<rect x="448.0" y="45.4" width="0.6" height="0.6" fill="#5a68b8" opacity="0.42"/>
<rect x="443.8" y="69.4" width="0.6" height="0.6" fill="#5a68b8" opacity="0.28"/>
<rect x="441.9" y="65.1" width="0.6" height="0.6" fill="#5a68b8" opacity="0.31"/>
<rect x="447.2" y="55.5" width="0.6" height="0.6" fill="#5a68b8" opacity="0.20"/>
<rect x="450.6" y="49.2" width="0.6" height="0.6" fill="#5a68b8" opacity="0.18"/>
<rect x="447.1" y="56.9" width="0.6" height="0.6" fill="#5a68b8" opacity="0.32"/>
<rect x="444.1" y="61.4" width="0.6" height="0.6" fill="#5a68b8" opacity="0.17"/>
<rect x="447.8" y="59.4" width="0.6" height="0.6" fill="#5a68b8" opacity="0.41"/>
<rect x="446.3" y="57.8" width="0.6" height="0.6" fill="#5a68b8" opacity="0.37"/>
<rect x="446.4" y="66.4" width="0.6" height="0.6" fill="#5a68b8" opacity="0.20"/>
<rect x="446.8" y="46.2" width="0.6" height="0.6" fill="#5a68b8" opacity="0.17"/>
<rect x="447.2" y="64.0" width="0.6" height="0.6" fill="#5a68b8" opacity="0.33"/>
<rect x="445.4" y="61.2" width="0.6" height="0.6" fill="#5a68b8" opacity="0.34"/>
<rect x="453.5" y="50.8" width="0.6" height="0.6" fill="#5a68b8" opacity="0.41"/>
<rect x="443.4" y="64.4" width="0.6" height="0.6" fill="#5a68b8" opacity="0.40"/>
<rect x="440.7" y="65.3" width="0.6" height="0.6" fill="#5a68b8" opacity="0.43"/>
<rect x="454.8" y="55.8" width="0.6" height="0.6" fill="#5a68b8" opacity="0.39"/>
<rect x="445.8" y="65.4" width="0.6" height="0.6" fill="#5a68b8" opacity="0.23"/>
<rect x="442.4" y="61.9" width="0.6" height="0.6" fill="#5a68b8" opacity="0.16"/>
<rect x="443.5" y="64.9" width="0.6" height="0.6" fill="#5a68b8" opacity="0.32"/>
<rect x="444.3" y="62.4" width="0.6" height="0.6" fill="#5a68b8" opacity="0.31"/>
<rect x="455.7" y="53.9" width="0.6" height="0.6" fill="#5a68b8" opacity="0.15"/>
<rect x="448.6" y="62.3" width="0.6" height="0.6" fill="#5a68b8" opacity="0.16"/>
<rect x="443.1" y="61.7" width="0.6" height="0.6" fill="#5a68b8" opacity="0.27"/>
<rect x="451.8" y="57.6" width="0.6" height="0.6" fill="#5a68b8" opacity="0.33"/>
<rect x="444.3" y="67.8" width="0.6" height="0.6" fill="#5a68b8" opacity="0.42"/>
<rect x="450.8" y="55.6" width="0.6" height="0.6" fill="#5a68b8" opacity="0.32"/>
<rect x="448.6" y="60.6" width="0.6" height="0.6" fill="#5a68b8" opacity="0.32"/>
<rect x="448.5" y="62.1" width="0.6" height="0.6" fill="#5a68b8" opacity="0.19"/>
<rect x="449.9" y="54.5" width="0.6" height="0.6" fill="#5a68b8" opacity="0.30"/>
<rect x="443.1" y="63.9" width="0.6" height="0.6" fill="#5a68b8" opacity="0.16"/>
<rect x="446.9" y="53.1" width="0.6" height="0.6" fill="#5a68b8" opacity="0.38"/>
<rect x="447.3" y="53.3" width="0.6" height="0.6" fill="#5a68b8" opacity="0.41"/>
<rect x="458.7" y="51.3" width="0.6" height="0.6" fill="#5a68b8" opacity="0.38"/>
<rect x="446.4" y="49.5" width="0.6" height="0.6" fill="#5a68b8" opacity="0.27"/>
<rect x="443.6" y="68.1" width="0.6" height="0.6" fill="#5a68b8" opacity="0.45"/>
<rect x="447.3" y="57.1" width="0.6" height="0.6" fill="#5a68b8" opacity="0.19"/>
<rect x="443.7" y="68.0" width="0.6" height="0.6" fill="#5a68b8" opacity="0.28"/>
<rect x="448.9" y="56.3" width="0.6" height="0.6" fill="#5a68b8" opacity="0.24"/>
<rect x="449.6" y="52.6" width="0.6" height="0.6" fill="#5a68b8" opacity="0.25"/>
<rect x="451.3" y="48.8" width="0.6" height="0.6" fill="#5a68b8" opacity="0.45"/>
<rect x="449.1" y="60.5" width="0.6" height="0.6" fill="#5a68b8" opacity="0.41"/>
<rect x="440.8" y="65.2" width="0.6" height="0.6" fill="#5a68b8" opacity="0.16"/>
<rect x="445.2" y="66.3" width="0.6" height="0.6" fill="#5a68b8" opacity="0.22"/>
<rect x="449.1" y="60.6" width="0.6" height="0.6" fill="#5a68b8" opacity="0.21"/>
<rect x="448.6" y="50.6" width="0.6" height="0.6" fill="#5a68b8" opacity="0.17"/>
<rect x="453.0" y="52.6" width="0.6" height="0.6" fill="#5a68b8" opacity="0.31"/>
<rect x="452.6" y="49.2" width="0.6" height="0.6" fill="#5a68b8" opacity="0.21"/>
<rect x="444.9" y="59.7" width="0.6" height="0.6" fill="#5a68b8" opacity="0.25"/>
<rect x="443.6" y="67.5" width="0.6" height="0.6" fill="#5a68b8" opacity="0.34"/>
<rect x="443.7" y="59.2" width="0.6" height="0.6" fill="#5a68b8" opacity="0.15"/>
<rect x="454.2" y="50.0" width="0.6" height="0.6" fill="#5a68b8" opacity="0.17"/>
<rect x="448.2" y="55.2" width="0.6" height="0.6" fill="#5a68b8" opacity="0.19"/>
<rect x="453.5" y="53.4" width="0.6" height="0.6" fill="#5a68b8" opacity="0.28"/>
<rect x="445.3" y="54.4" width="0.6" height="0.6" fill="#5a68b8" opacity="0.25"/>
<rect x="447.3" y="52.0" width="0.6" height="0.6" fill="#5a68b8" opacity="0.38"/>
<rect x="450.6" y="51.7" width="0.6" height="0.6" fill="#5a68b8" opacity="0.23"/>
<rect x="448.5" y="56.4" width="0.6" height="0.6" fill="#5a68b8" opacity="0.15"/>
<rect x="444.4" y="54.8" width="0.6" height="0.6" fill="#5a68b8" opacity="0.22"/>
<rect x="458.2" y="56.0" width="0.6" height="0.6" fill="#5a68b8" opacity="0.19"/>
<rect x="441.5" y="67.0" width="0.6" height="0.6" fill="#5a68b8" opacity="0.26"/>
<rect x="447.7" y="67.6" width="0.6" height="0.6" fill="#5a68b8" opacity="0.43"/>
<rect x="447.0" y="65.8" width="0.6" height="0.6" fill="#5a68b8" opacity="0.30"/>
<rect x="456.6" y="60.0" width="0.6" height="0.6" fill="#5a68b8" opacity="0.29"/>
<rect x="446.7" y="61.3" width="0.6" height="0.6" fill="#5a68b8" opacity="0.34"/>
<rect x="446.5" y="58.6" width="0.6" height="0.6" fill="#5a68b8" opacity="0.32"/>
<rect x="450.6" y="61.0" width="0.6" height="0.6" fill="#5a68b8" opacity="0.23"/>
<rect x="444.0" y="62.0" width="0.6" height="0.6" fill="#5a68b8" opacity="0.21"/>
<rect x="448.8" y="51.9" width="0.6" height="0.6" fill="#5a68b8" opacity="0.32"/>
<rect x="445.3" y="63.1" width="0.6" height="0.6" fill="#5a68b8" opacity="0.23"/>
<rect x="451.3" y="52.3" width="0.6" height="0.6" fill="#5a68b8" opacity="0.42"/>
<rect x="445.2" y="64.1" width="0.6" height="0.6" fill="#5a68b8" opacity="0.29"/>
<rect x="449.9" y="57.0" width="0.6" height="0.6" fill="#5a68b8" opacity="0.38"/>
<rect x="450.7" y="50.6" width="0.6" height="0.6" fill="#5a68b8" opacity="0.45"/>
<rect x="446.8" y="62.0" width="0.6" height="0.6" fill="#5a68b8" opacity="0.42"/>
<rect x="444.0" y="64.3" width="0.6" height="0.6" fill="#5a68b8" opacity="0.20"/>
<rect x="452.8" y="56.0" width="0.6" height="0.6" fill="#5a68b8" opacity="0.41"/>
<rect x="451.1" y="46.5" width="0.6" height="0.6" fill="#5a68b8" opacity="0.39"/>
<rect x="453.8" y="55.4" width="0.6" height="0.6" fill="#5a68b8" opacity="0.18"/>
<rect x="444.1" y="68.4" width="0.6" height="0.6" fill="#5a68b8" opacity="0.41"/>
<rect x="443.1" y="64.5" width="0.6" height="0.6" fill="#5a68b8" opacity="0.36"/>
<rect x="444.4" y="63.9" width="0.6" height="0.6" fill="#5a68b8" opacity="0.18"/>
<rect x="442.1" y="57.5" width="0.6" height="0.6" fill="#5a68b8" opacity="0.44"/>
<rect x="454.1" y="50.0" width="0.6" height="0.6" fill="#5a68b8" opacity="0.20"/>
<rect x="446.1" y="61.5" width="0.6" height="0.6" fill="#5a68b8" opacity="0.32"/>
<rect x="447.9" y="60.1" width="0.6" height="0.6" fill="#5a68b8" opacity="0.35"/>
<rect x="444.6" y="56.2" width="0.6" height="0.6" fill="#5a68b8" opacity="0.37"/>
<rect x="446.2" y="59.9" width="0.6" height="0.6" fill="#5a68b8" opacity="0.44"/>
<rect x="445.9" y="60.7" width="0.6" height="0.6" fill="#5a68b8" opacity="0.15"/>
<rect x="457.5" y="58.8" width="0.6" height="0.6" fill="#5a68b8" opacity="0.33"/>
<rect x="447.5" y="61.1" width="0.6" height="0.6" fill="#5a68b8" opacity="0.39"/>
<rect x="458.3" y="52.0" width="0.6" height="0.6" fill="#5a68b8" opacity="0.25"/>
<rect x="447.2" y="53.1" width="0.6" height="0.6" fill="#5a68b8" opacity="0.37"/>
<rect x="450.7" y="50.2" width="0.6" height="0.6" fill="#5a68b8" opacity="0.45"/>
<rect x="442.2" y="60.8" width="0.6" height="0.6" fill="#5a68b8" opacity="0.27"/>
<rect x="450.1" y="57.3" width="0.6" height="0.6" fill="#5a68b8" opacity="0.25"/>
<rect x="447.5" y="53.1" width="0.6" height="0.6" fill="#5a68b8" opacity="0.42"/>
<rect x="446.5" y="56.1" width="0.6" height="0.6" fill="#5a68b8" opacity="0.29"/>
<rect x="448.9" y="63.2" width="0.6" height="0.6" fill="#5a68b8" opacity="0.31"/>
<rect x="450.9" y="51.2" width="0.6" height="0.6" fill="#5a68b8" opacity="0.40"/>
<rect x="443.7" y="58.0" width="0.6" height="0.6" fill="#5a68b8" opacity="0.16"/>
<rect x="445.1" y="56.9" width="0.6" height="0.6" fill="#5a68b8" opacity="0.19"/>
<rect x="444.5" y="63.6" width="0.6" height="0.6" fill="#5a68b8" opacity="0.31"/>
<rect x="451.6" y="60.4" width="0.6" height="0.6" fill="#5a68b8" opacity="0.45"/>
<rect x="447.5" y="52.1" width="0.6" height="0.6" fill="#5a68b8" opacity="0.19"/>
<rect x="444.8" y="52.0" width="0.6" height="0.6" fill="#5a68b8" opacity="0.22"/>
<rect x="446.4" y="59.9" width="0.6" height="0.6" fill="#5a68b8" opacity="0.32"/>
<rect x="443.6" y="68.2" width="0.6" height="0.6" fill="#5a68b8" opacity="0.23"/>
<rect x="448.1" y="62.1" width="0.6" height="0.6" fill="#5a68b8" opacity="0.41"/>
<rect x="444.5" y="64.9" width="0.6" height="0.6" fill="#5a68b8" opacity="0.34"/>
<rect x="449.1" y="60.1" width="0.6" height="0.6" fill="#5a68b8" opacity="0.24"/>
<rect x="448.7" y="59.1" width="0.6" height="0.6" fill="#5a68b8" opacity="0.26"/>
<rect x="441.8" y="58.2" width="0.6" height="0.6" fill="#5a68b8" opacity="0.36"/>
<rect x="451.4" y="61.9" width="0.6" height="0.6" fill="#5a68b8" opacity="0.17"/>
<rect x="449.0" y="48.8" width="0.6" height="0.6" fill="#5a68b8" opacity="0.38"/>
<rect x="441.6" y="67.2" width="0.6" height="0.6" fill="#5a68b8" opacity="0.29"/>
<rect x="449.1" y="49.6" width="0.6" height="0.6" fill="#5a68b8" opacity="0.30"/>
<rect x="447.2" y="54.9" width="0.6" height="0.6" fill="#5a68b8" opacity="0.37"/>
<rect x="450.5" y="59.5" width="0.6" height="0.6" fill="#5a68b8" opacity="0.38"/>
<rect x="443.0" y="65.4" width="0.6" height="0.6" fill="#5a68b8" opacity="0.40"/>
<rect x="446.0" y="66.5" width="0.6" height="0.6" fill="#5a68b8" opacity="0.35"/>
<rect x="449.8" y="52.9" width="0.6" height="0.6" fill="#5a68b8" opacity="0.36"/>
<rect x="439.0" y="56.1" width="0.6" height="0.6" fill="#5a68b8" opacity="0.19"/>
<rect x="442.6" y="58.7" width="0.6" height="0.6" fill="#5a68b8" opacity="0.45"/>
<rect x="446.3" y="61.8" width="0.6" height="0.6" fill="#5a68b8" opacity="0.32"/>
<rect x="452.8" y="59.7" width="0.6" height="0.6" fill="#5a68b8" opacity="0.24"/>
<rect x="452.6" y="51.1" width="0.6" height="0.6" fill="#5a68b8" opacity="0.17"/>
<rect x="449.5" y="58.1" width="0.6" height="0.6" fill="#5a68b8" opacity="0.30"/>
<rect x="447.2" y="54.5" width="0.6" height="0.6" fill="#5a68b8" opacity="0.32"/>
<rect x="444.6" y="69.3" width="0.6" height="0.6" fill="#5a68b8" opacity="0.27"/>
<rect x="448.6" y="55.7" width="0.6" height="0.6" fill="#5a68b8" opacity="0.36"/>
<rect x="448.1" y="49.4" width="0.6" height="0.6" fill="#5a68b8" opacity="0.43"/>
<rect x="447.9" y="57.5" width="0.6" height="0.6" fill="#5a68b8" opacity="0.16"/>
<rect x="455.1" y="51.7" width="0.6" height="0.6" fill="#5a68b8" opacity="0.20"/>
<rect x="446.3" y="44.5" width="0.6" height="0.6" fill="#5a68b8" opacity="0.35"/>
<rect x="446.3" y="63.2" width="0.6" height="0.6" fill="#5a68b8" opacity="0.19"/>
<rect x="453.5" y="50.6" width="0.6" height="0.6" fill="#5a68b8" opacity="0.44"/>
<rect x="449.0" y="59.5" width="0.6" height="0.6" fill="#5a68b8" opacity="0.42"/>
<rect x="451.0" y="53.8" width="0.6" height="0.6" fill="#5a68b8" opacity="0.40"/>
<rect x="445.4" y="62.4" width="0.6" height="0.6" fill="#5a68b8" opacity="0.25"/>
<rect x="458.3" y="43.5" width="0.5" height="0.5" fill="#7a88c8" opacity="0.22"/>
<rect x="471.7" y="49.7" width="0.5" height="0.5" fill="#7a88c8" opacity="0.22"/>
<rect x="469.0" y="43.5" width="0.5" height="0.5" fill="#7a88c8" opacity="0.22"/>
<rect x="467.4" y="73.3" width="0.5" height="0.5" fill="#7a88c8" opacity="0.22"/>
<rect x="451.9" y="39.2" width="0.5" height="0.5" fill="#7a88c8" opacity="0.22"/>
<rect x="451.4" y="61.1" width="0.5" height="0.5" fill="#7a88c8" opacity="0.22"/>
<rect x="445.5" y="57.6" width="0.5" height="0.5" fill="#7a88c8" opacity="0.22"/>
<rect x="440.6" y="54.7" width="0.5" height="0.5" fill="#7a88c8" opacity="0.22"/>
<rect x="464.7" y="53.5" width="0.5" height="0.5" fill="#7a88c8" opacity="0.22"/>
<rect x="462.8" y="42.1" width="0.5" height="0.5" fill="#7a88c8" opacity="0.22"/>
<rect x="468.5" y="42.4" width="0.5" height="0.5" fill="#7a88c8" opacity="0.22"/>
<rect x="472.1" y="73.9" width="0.5" height="0.5" fill="#7a88c8" opacity="0.22"/>
<rect x="472.7" y="56.9" width="0.5" height="0.5" fill="#7a88c8" opacity="0.22"/>
<rect x="448.0" y="50.5" width="0.5" height="0.5" fill="#7a88c8" opacity="0.22"/>
<rect x="465.5" y="55.9" width="0.5" height="0.5" fill="#7a88c8" opacity="0.22"/>
<rect x="472.3" y="41.3" width="0.5" height="0.5" fill="#7a88c8" opacity="0.22"/>
<rect x="455.4" y="69.1" width="0.5" height="0.5" fill="#7a88c8" opacity="0.22"/>
<rect x="459.7" y="57.5" width="0.5" height="0.5" fill="#7a88c8" opacity="0.22"/>
<rect x="440.4" y="43.0" width="0.5" height="0.5" fill="#7a88c8" opacity="0.22"/>
<rect x="447.3" y="70.2" width="0.5" height="0.5" fill="#7a88c8" opacity="0.22"/>
<rect x="469.1" y="46.2" width="0.5" height="0.5" fill="#7a88c8" opacity="0.22"/>
<rect x="472.1" y="39.2" width="0.5" height="0.5" fill="#7a88c8" opacity="0.22"/>
<rect x="459.8" y="72.8" width="0.5" height="0.5" fill="#7a88c8" opacity="0.22"/>
<rect x="450.1" y="72.0" width="0.5" height="0.5" fill="#7a88c8" opacity="0.22"/>
<rect x="461.9" y="39.8" width="0.5" height="0.5" fill="#7a88c8" opacity="0.22"/>
<rect x="449.7" y="54.2" width="0.5" height="0.5" fill="#7a88c8" opacity="0.22"/>
<rect x="446.4" y="64.7" width="0.5" height="0.5" fill="#7a88c8" opacity="0.22"/>
<rect x="443.8" y="66.4" width="0.5" height="0.5" fill="#7a88c8" opacity="0.22"/>
<rect x="448.3" y="40.5" width="0.5" height="0.5" fill="#7a88c8" opacity="0.22"/>
<rect x="458.2" y="41.4" width="0.5" height="0.5" fill="#7a88c8" opacity="0.22"/>
<rect x="458.0" y="66.4" width="0.5" height="0.5" fill="#7a88c8" opacity="0.22"/>
<rect x="459.6" y="54.6" width="0.5" height="0.5" fill="#7a88c8" opacity="0.22"/>
<rect x="438.3" y="56.5" width="0.5" height="0.5" fill="#7a88c8" opacity="0.22"/>
<rect x="440.7" y="61.3" width="0.5" height="0.5" fill="#7a88c8" opacity="0.22"/>
<rect x="442.0" y="58.8" width="0.5" height="0.5" fill="#7a88c8" opacity="0.22"/>
<rect x="450.4" y="51.5" width="0.5" height="0.5" fill="#7a88c8" opacity="0.22"/>
<rect x="462.2" y="43.9" width="0.5" height="0.5" fill="#7a88c8" opacity="0.22"/>
<rect x="443.4" y="71.9" width="0.5" height="0.5" fill="#7a88c8" opacity="0.22"/>
<rect x="449.6" y="68.3" width="0.5" height="0.5" fill="#7a88c8" opacity="0.22"/>
<rect x="470.2" y="55.3" width="0.5" height="0.5" fill="#7a88c8" opacity="0.22"/>
<rect x="442.7" y="41.4" width="0.5" height="0.5" fill="#7a88c8" opacity="0.22"/>
<rect x="470.4" y="42.2" width="0.5" height="0.5" fill="#7a88c8" opacity="0.22"/>
<rect x="455.9" y="57.3" width="0.5" height="0.5" fill="#7a88c8" opacity="0.22"/>
<rect x="441.5" y="54.8" width="0.5" height="0.5" fill="#7a88c8" opacity="0.22"/>
<rect x="443.2" y="57.3" width="0.5" height="0.5" fill="#7a88c8" opacity="0.22"/>
<rect x="456.3" y="51.2" width="0.5" height="0.5" fill="#7a88c8" opacity="0.22"/>
<rect x="444.5" y="52.5" width="0.5" height="0.5" fill="#7a88c8" opacity="0.22"/>
<rect x="444.7" y="42.6" width="0.5" height="0.5" fill="#7a88c8" opacity="0.22"/>
<rect x="446.1" y="69.4" width="0.5" height="0.5" fill="#7a88c8" opacity="0.22"/>
<rect x="456.1" y="70.1" width="0.5" height="0.5" fill="#7a88c8" opacity="0.22"/>
<rect x="437.6" y="72.0" width="0.5" height="0.5" fill="#7a88c8" opacity="0.22"/>
<rect x="455.6" y="66.5" width="0.5" height="0.5" fill="#7a88c8" opacity="0.22"/>
<rect x="458.7" y="62.8" width="0.5" height="0.5" fill="#7a88c8" opacity="0.22"/>
<rect x="445.7" y="65.0" width="0.5" height="0.5" fill="#7a88c8" opacity="0.22"/>
<rect x="442.8" y="47.5" width="0.5" height="0.5" fill="#7a88c8" opacity="0.22"/>
<rect x="438.2" y="52.2" width="0.5" height="0.5" fill="#7a88c8" opacity="0.22"/>
<rect x="456.7" y="48.5" width="0.5" height="0.5" fill="#7a88c8" opacity="0.22"/>
<rect x="470.8" y="41.0" width="0.5" height="0.5" fill="#7a88c8" opacity="0.22"/>
<rect x="459.0" y="46.4" width="0.5" height="0.5" fill="#7a88c8" opacity="0.22"/>
<rect x="459.6" y="66.2" width="0.5" height="0.5" fill="#7a88c8" opacity="0.22"/>
<rect x="464.0" y="40.2" width="0.5" height="0.5" fill="#7a88c8" opacity="0.22"/>
<rect x="446.3" y="59.6" width="0.5" height="0.5" fill="#7a88c8" opacity="0.22"/>
<rect x="474.4" y="39.5" width="0.5" height="0.5" fill="#7a88c8" opacity="0.22"/>
<rect x="460.5" y="62.9" width="0.5" height="0.5" fill="#7a88c8" opacity="0.22"/>
<rect x="468.0" y="50.3" width="0.5" height="0.5" fill="#7a88c8" opacity="0.22"/>
<rect x="467.8" y="54.6" width="0.5" height="0.5" fill="#7a88c8" opacity="0.22"/>
<rect x="472.0" y="38.4" width="0.5" height="0.5" fill="#7a88c8" opacity="0.22"/>
<rect x="472.7" y="52.8" width="0.5" height="0.5" fill="#7a88c8" opacity="0.22"/>
<rect x="452.5" y="41.2" width="0.5" height="0.5" fill="#7a88c8" opacity="0.22"/>
<rect x="446.3" y="64.4" width="0.5" height="0.5" fill="#7a88c8" opacity="0.22"/>
<rect x="462.8" y="43.4" width="0.5" height="0.5" fill="#7a88c8" opacity="0.22"/>
<rect x="450.1" y="43.1" width="0.5" height="0.5" fill="#7a88c8" opacity="0.22"/>
<rect x="444.5" y="45.9" width="0.5" height="0.5" fill="#7a88c8" opacity="0.22"/>
<rect x="449.6" y="73.1" width="0.5" height="0.5" fill="#7a88c8" opacity="0.22"/>
<rect x="474.9" y="66.5" width="0.5" height="0.5" fill="#7a88c8" opacity="0.22"/>
<rect x="455.2" y="55.9" width="0.5" height="0.5" fill="#7a88c8" opacity="0.22"/>
<rect x="466.6" y="70.7" width="0.5" height="0.5" fill="#7a88c8" opacity="0.22"/>
<rect x="465.6" y="60.9" width="0.5" height="0.5" fill="#7a88c8" opacity="0.22"/>
<rect x="444.6" y="60.5" width="0.5" height="0.5" fill="#7a88c8" opacity="0.22"/>
<rect x="469.1" y="66.3" width="0.5" height="0.5" fill="#7a88c8" opacity="0.22"/>
<rect x="440.5" y="63.8" width="0.5" height="0.5" fill="#7a88c8" opacity="0.22"/>
<rect x="450.3" y="43.8" width="0.5" height="0.5" fill="#7a88c8" opacity="0.22"/>
<rect x="473.7" y="62.2" width="0.5" height="0.5" fill="#7a88c8" opacity="0.22"/>
<rect x="465.3" y="42.9" width="0.5" height="0.5" fill="#7a88c8" opacity="0.22"/>
<rect x="468.5" y="71.7" width="0.5" height="0.5" fill="#7a88c8" opacity="0.22"/>
<rect x="471.4" y="64.8" width="0.5" height="0.5" fill="#7a88c8" opacity="0.22"/>
<rect x="468.6" y="66.9" width="0.5" height="0.5" fill="#7a88c8" opacity="0.22"/>
<rect x="459.4" y="53.7" width="0.5" height="0.5" fill="#7a88c8" opacity="0.22"/>
<rect x="468.4" y="66.2" width="0.5" height="0.5" fill="#7a88c8" opacity="0.22"/>
<rect x="470.1" y="48.8" width="0.5" height="0.5" fill="#7a88c8" opacity="0.22"/>
</g>
<g filter="url(#bl1)">
<ellipse cx="447" cy="59" rx="3.5" ry="9" transform="rotate(28 447 59)" fill="#8890cc" opacity="0.18"/>
<path d="M440.6,70.2 L441.2,66.5 L445.8,65.8 L444.8,68.2 Z" fill="#3a4fa8"/>
</g>
<g filter="url(#bl2)">
<path d="M462.4,58.5 L467.6,42.5 L470.5,40.2 L473.6,41.2 L473.2,44.8 L466.8,56 Z" fill="#8088c8" opacity="0.6"/>
</g>
<g filter="url(#bl1)">
<path d="M463.0,57.5 L468.3,42.6 L470.8,41.0 L472.4,42.0 L472.0,44.2 L466.0,55.5 Z" fill="#5666b4" opacity="0.75"/>
<ellipse cx="465.8" cy="49.5" rx="0.9" ry="1.8" fill="#50a8d8" opacity="0.7"/>
<path d="M460.1,44 L461.9,40.8 L464.0,42.5 L464.7,55 L463.6,58.6 L461.0,58.8 L459.8,55 Z" fill="#3446a6"/>
<ellipse cx="462.3" cy="48.8" rx="1.2" ry="3.2" fill="#38a8dc"/>
<ellipse cx="462.5" cy="53.4" rx="1.3" ry="3.4" fill="#78c050"/>
<ellipse cx="462.7" cy="54.5" rx="0.85" ry="1.7" fill="#e6a030"/>
</g>
<rect x="434.6" y="35.6" width="42.39999999999998" height="40.6" fill="none" stroke="#111" stroke-width="1.3"/>
<path d="M431.8,76.20 H434.6" stroke="#111" stroke-width="1.1"/>
<path d="M434.60,76.2 V79.2" stroke="#111" stroke-width="1.1"/>
<text x="428.0" y="80.10" font-size="5.8" text-anchor="end" fill="#222">10</text><text x="428.20000000000005" y="77.60" font-size="3.2" fill="#222">0</text>
<text x="431.20" y="87.7" font-size="5.8" fill="#222">10</text><text x="437.80" y="85.2" font-size="3.2" fill="#222">0</text>
<path d="M431.8,66.05 H434.6" stroke="#111" stroke-width="1.1"/>
<path d="M445.20,76.2 V79.2" stroke="#111" stroke-width="1.1"/>
<text x="428.0" y="69.95" font-size="5.8" text-anchor="end" fill="#222">10</text><text x="428.20000000000005" y="67.45" font-size="3.2" fill="#222">1</text>
<text x="441.80" y="87.7" font-size="5.8" fill="#222">10</text><text x="448.40" y="85.2" font-size="3.2" fill="#222">1</text>
<path d="M431.8,55.90 H434.6" stroke="#111" stroke-width="1.1"/>
<path d="M455.80,76.2 V79.2" stroke="#111" stroke-width="1.1"/>
<text x="428.0" y="59.80" font-size="5.8" text-anchor="end" fill="#222">10</text><text x="428.20000000000005" y="57.30" font-size="3.2" fill="#222">2</text>
<text x="452.40" y="87.7" font-size="5.8" fill="#222">10</text><text x="459.00" y="85.2" font-size="3.2" fill="#222">2</text>
<path d="M431.8,45.75 H434.6" stroke="#111" stroke-width="1.1"/>
<path d="M466.40,76.2 V79.2" stroke="#111" stroke-width="1.1"/>
<text x="428.0" y="49.65" font-size="5.8" text-anchor="end" fill="#222">10</text><text x="428.20000000000005" y="47.15" font-size="3.2" fill="#222">3</text>
<text x="463.00" y="87.7" font-size="5.8" fill="#222">10</text><text x="469.60" y="85.2" font-size="3.2" fill="#222">3</text>
<path d="M431.8,35.60 H434.6" stroke="#111" stroke-width="1.1"/>
<path d="M477.00,76.2 V79.2" stroke="#111" stroke-width="1.1"/>
<text x="428.0" y="39.50" font-size="5.8" text-anchor="end" fill="#222">10</text><text x="428.20000000000005" y="37.00" font-size="3.2" fill="#222">4</text>
<text x="473.60" y="87.7" font-size="5.8" fill="#222">10</text><text x="480.20" y="85.2" font-size="3.2" fill="#222">4</text>
<text x="445.4" y="31.0" font-size="8.5" textLength="21" lengthAdjust="spacingAndGlyphs" fill="#111" >RBCs</text>
<text x="455.9" y="99.0" font-size="7.6" textLength="11.0" lengthAdjust="spacingAndGlyphs" text-anchor="middle" fill="#111" stroke="#111" stroke-width="0.18">FSC</text>
<text x="0" y="0" font-size="7.3" text-anchor="middle" textLength="9.7" lengthAdjust="spacingAndGlyphs" stroke="#111" stroke-width="0.18" fill="#111" transform="translate(414.0,56.0) rotate(-90)">SSC</text>
<g clip-path="url(#clip2)">
<rect x="445.2" y="134.1" width="0.6" height="0.6" fill="#6870b8" opacity="0.48"/>
<rect x="447.8" y="143.9" width="0.6" height="0.6" fill="#6870b8" opacity="0.44"/>
<rect x="441.2" y="144.7" width="0.6" height="0.6" fill="#6870b8" opacity="0.27"/>
<rect x="442.5" y="140.5" width="0.6" height="0.6" fill="#6870b8" opacity="0.27"/>
<rect x="434.1" y="136.0" width="0.6" height="0.6" fill="#6870b8" opacity="0.41"/>
<rect x="440.5" y="130.9" width="0.6" height="0.6" fill="#6870b8" opacity="0.44"/>
<rect x="442.7" y="128.5" width="0.6" height="0.6" fill="#6870b8" opacity="0.48"/>
<rect x="442.8" y="131.1" width="0.6" height="0.6" fill="#6870b8" opacity="0.23"/>
<rect x="437.7" y="128.0" width="0.6" height="0.6" fill="#6870b8" opacity="0.30"/>
<rect x="436.1" y="130.4" width="0.6" height="0.6" fill="#6870b8" opacity="0.44"/>
<rect x="445.1" y="135.7" width="0.6" height="0.6" fill="#6870b8" opacity="0.20"/>
<rect x="445.9" y="141.1" width="0.6" height="0.6" fill="#6870b8" opacity="0.33"/>
<rect x="438.4" y="132.3" width="0.6" height="0.6" fill="#6870b8" opacity="0.30"/>
<rect x="442.0" y="139.9" width="0.6" height="0.6" fill="#6870b8" opacity="0.45"/>
<rect x="439.3" y="132.8" width="0.6" height="0.6" fill="#6870b8" opacity="0.23"/>
<rect x="440.6" y="142.9" width="0.6" height="0.6" fill="#6870b8" opacity="0.33"/>
<rect x="438.1" y="128.1" width="0.6" height="0.6" fill="#6870b8" opacity="0.24"/>
<rect x="440.9" y="134.2" width="0.6" height="0.6" fill="#6870b8" opacity="0.45"/>
<rect x="442.4" y="139.0" width="0.6" height="0.6" fill="#6870b8" opacity="0.49"/>
<rect x="439.8" y="138.1" width="0.6" height="0.6" fill="#6870b8" opacity="0.47"/>
<rect x="435.9" y="129.0" width="0.6" height="0.6" fill="#6870b8" opacity="0.32"/>
<rect x="433.1" y="135.5" width="0.6" height="0.6" fill="#6870b8" opacity="0.35"/>
<rect x="443.4" y="135.3" width="0.6" height="0.6" fill="#6870b8" opacity="0.45"/>
<rect x="443.4" y="140.5" width="0.6" height="0.6" fill="#6870b8" opacity="0.20"/>
<rect x="444.9" y="145.8" width="0.6" height="0.6" fill="#6870b8" opacity="0.34"/>
<rect x="442.2" y="132.1" width="0.6" height="0.6" fill="#6870b8" opacity="0.31"/>
<rect x="444.7" y="139.1" width="0.6" height="0.6" fill="#6870b8" opacity="0.46"/>
<rect x="438.1" y="135.1" width="0.6" height="0.6" fill="#6870b8" opacity="0.48"/>
<rect x="445.1" y="131.1" width="0.6" height="0.6" fill="#6870b8" opacity="0.22"/>
<rect x="438.8" y="131.8" width="0.6" height="0.6" fill="#6870b8" opacity="0.49"/>
<rect x="438.2" y="140.9" width="0.6" height="0.6" fill="#6870b8" opacity="0.39"/>
<rect x="438.4" y="139.6" width="0.6" height="0.6" fill="#6870b8" opacity="0.40"/>
<rect x="444.5" y="132.4" width="0.6" height="0.6" fill="#6870b8" opacity="0.31"/>
<rect x="442.4" y="135.3" width="0.6" height="0.6" fill="#6870b8" opacity="0.45"/>
<rect x="439.6" y="129.9" width="0.6" height="0.6" fill="#6870b8" opacity="0.33"/>
<rect x="441.3" y="125.4" width="0.6" height="0.6" fill="#6870b8" opacity="0.42"/>
<rect x="441.3" y="134.2" width="0.6" height="0.6" fill="#6870b8" opacity="0.30"/>
<rect x="446.6" y="144.5" width="0.6" height="0.6" fill="#6870b8" opacity="0.47"/>
<rect x="444.0" y="140.5" width="0.6" height="0.6" fill="#6870b8" opacity="0.37"/>
<rect x="444.5" y="136.9" width="0.6" height="0.6" fill="#6870b8" opacity="0.42"/>
<rect x="439.6" y="132.5" width="0.6" height="0.6" fill="#6870b8" opacity="0.43"/>
<rect x="440.2" y="141.3" width="0.6" height="0.6" fill="#6870b8" opacity="0.33"/>
<rect x="446.0" y="134.5" width="0.6" height="0.6" fill="#6870b8" opacity="0.44"/>
<rect x="439.9" y="131.3" width="0.6" height="0.6" fill="#6870b8" opacity="0.49"/>
<rect x="440.0" y="128.4" width="0.6" height="0.6" fill="#6870b8" opacity="0.28"/>
<rect x="443.6" y="140.8" width="0.6" height="0.6" fill="#6870b8" opacity="0.45"/>
<rect x="442.1" y="131.2" width="0.6" height="0.6" fill="#6870b8" opacity="0.24"/>
<rect x="434.6" y="134.5" width="0.6" height="0.6" fill="#6870b8" opacity="0.25"/>
<rect x="441.2" y="132.6" width="0.6" height="0.6" fill="#6870b8" opacity="0.29"/>
<rect x="443.9" y="136.8" width="0.6" height="0.6" fill="#6870b8" opacity="0.31"/>
<rect x="449.6" y="133.0" width="0.6" height="0.6" fill="#6870b8" opacity="0.26"/>
<rect x="438.4" y="146.2" width="0.6" height="0.6" fill="#6870b8" opacity="0.26"/>
<rect x="439.8" y="140.2" width="0.6" height="0.6" fill="#6870b8" opacity="0.23"/>
<rect x="441.1" y="140.3" width="0.6" height="0.6" fill="#6870b8" opacity="0.32"/>
<rect x="443.8" y="134.6" width="0.6" height="0.6" fill="#6870b8" opacity="0.26"/>
<rect x="444.3" y="132.7" width="0.6" height="0.6" fill="#6870b8" opacity="0.45"/>
<rect x="437.6" y="129.2" width="0.6" height="0.6" fill="#6870b8" opacity="0.29"/>
<rect x="444.5" y="142.1" width="0.6" height="0.6" fill="#6870b8" opacity="0.34"/>
<rect x="436.7" y="132.9" width="0.6" height="0.6" fill="#6870b8" opacity="0.43"/>
<rect x="440.8" y="140.0" width="0.6" height="0.6" fill="#6870b8" opacity="0.48"/>
<rect x="438.6" y="134.8" width="0.6" height="0.6" fill="#6870b8" opacity="0.39"/>
<rect x="441.0" y="143.7" width="0.6" height="0.6" fill="#6870b8" opacity="0.21"/>
<rect x="443.3" y="130.0" width="0.6" height="0.6" fill="#6870b8" opacity="0.31"/>
<rect x="443.7" y="134.1" width="0.6" height="0.6" fill="#6870b8" opacity="0.27"/>
<rect x="445.1" y="138.1" width="0.6" height="0.6" fill="#6870b8" opacity="0.43"/>
<rect x="439.8" y="131.0" width="0.6" height="0.6" fill="#6870b8" opacity="0.44"/>
<rect x="443.5" y="138.1" width="0.6" height="0.6" fill="#6870b8" opacity="0.39"/>
<rect x="445.9" y="134.1" width="0.6" height="0.6" fill="#6870b8" opacity="0.41"/>
<rect x="441.8" y="130.7" width="0.6" height="0.6" fill="#6870b8" opacity="0.48"/>
<rect x="441.2" y="131.1" width="0.6" height="0.6" fill="#6870b8" opacity="0.32"/>
<rect x="442.4" y="131.3" width="0.6" height="0.6" fill="#6870b8" opacity="0.26"/>
<rect x="444.1" y="131.2" width="0.6" height="0.6" fill="#6870b8" opacity="0.36"/>
<rect x="437.9" y="126.5" width="0.6" height="0.6" fill="#6870b8" opacity="0.24"/>
<rect x="440.7" y="137.0" width="0.6" height="0.6" fill="#6870b8" opacity="0.32"/>
<rect x="434.9" y="135.4" width="0.6" height="0.6" fill="#6870b8" opacity="0.40"/>
<rect x="438.3" y="133.2" width="0.6" height="0.6" fill="#6870b8" opacity="0.37"/>
<rect x="440.4" y="144.7" width="0.6" height="0.6" fill="#6870b8" opacity="0.44"/>
<rect x="442.3" y="133.2" width="0.6" height="0.6" fill="#6870b8" opacity="0.40"/>
<rect x="441.4" y="129.8" width="0.6" height="0.6" fill="#6870b8" opacity="0.47"/>
<rect x="445.7" y="130.8" width="0.6" height="0.6" fill="#6870b8" opacity="0.45"/>
<rect x="437.3" y="127.6" width="0.6" height="0.6" fill="#6870b8" opacity="0.24"/>
<rect x="439.8" y="128.3" width="0.6" height="0.6" fill="#6870b8" opacity="0.38"/>
<rect x="441.1" y="137.3" width="0.6" height="0.6" fill="#6870b8" opacity="0.38"/>
<rect x="442.5" y="132.1" width="0.6" height="0.6" fill="#6870b8" opacity="0.26"/>
<rect x="441.5" y="137.6" width="0.6" height="0.6" fill="#6870b8" opacity="0.40"/>
<rect x="447.2" y="134.1" width="0.6" height="0.6" fill="#6870b8" opacity="0.31"/>
<rect x="440.9" y="133.7" width="0.6" height="0.6" fill="#6870b8" opacity="0.45"/>
<rect x="441.2" y="135.9" width="0.6" height="0.6" fill="#6870b8" opacity="0.39"/>
<rect x="443.0" y="138.4" width="0.6" height="0.6" fill="#6870b8" opacity="0.22"/>
<rect x="437.3" y="137.5" width="0.6" height="0.6" fill="#6870b8" opacity="0.44"/>
<rect x="447.3" y="137.7" width="0.6" height="0.6" fill="#6870b8" opacity="0.23"/>
<rect x="442.0" y="142.2" width="0.6" height="0.6" fill="#6870b8" opacity="0.30"/>
<rect x="439.2" y="140.9" width="0.6" height="0.6" fill="#6870b8" opacity="0.27"/>
<rect x="441.9" y="132.3" width="0.6" height="0.6" fill="#6870b8" opacity="0.45"/>
<rect x="442.8" y="129.9" width="0.6" height="0.6" fill="#6870b8" opacity="0.21"/>
<rect x="441.4" y="134.4" width="0.6" height="0.6" fill="#6870b8" opacity="0.35"/>
<rect x="440.2" y="136.3" width="0.6" height="0.6" fill="#6870b8" opacity="0.39"/>
<rect x="440.6" y="129.2" width="0.6" height="0.6" fill="#6870b8" opacity="0.32"/>
<rect x="436.9" y="135.0" width="0.6" height="0.6" fill="#6870b8" opacity="0.27"/>
<rect x="448.6" y="123.8" width="0.6" height="0.6" fill="#6870b8" opacity="0.44"/>
<rect x="444.2" y="134.5" width="0.6" height="0.6" fill="#6870b8" opacity="0.50"/>
<rect x="444.7" y="137.9" width="0.6" height="0.6" fill="#6870b8" opacity="0.24"/>
<rect x="436.5" y="137.6" width="0.6" height="0.6" fill="#6870b8" opacity="0.41"/>
<rect x="438.4" y="136.7" width="0.6" height="0.6" fill="#6870b8" opacity="0.26"/>
<rect x="439.1" y="137.7" width="0.6" height="0.6" fill="#6870b8" opacity="0.26"/>
<rect x="441.0" y="129.7" width="0.6" height="0.6" fill="#6870b8" opacity="0.33"/>
<rect x="443.0" y="142.6" width="0.6" height="0.6" fill="#6870b8" opacity="0.26"/>
<rect x="440.9" y="141.6" width="0.6" height="0.6" fill="#6870b8" opacity="0.41"/>
<rect x="446.7" y="134.2" width="0.6" height="0.6" fill="#6870b8" opacity="0.48"/>
<rect x="445.9" y="131.8" width="0.6" height="0.6" fill="#6870b8" opacity="0.42"/>
<rect x="443.4" y="136.8" width="0.6" height="0.6" fill="#6870b8" opacity="0.20"/>
<rect x="444.8" y="129.7" width="0.6" height="0.6" fill="#6870b8" opacity="0.39"/>
<rect x="441.0" y="140.0" width="0.6" height="0.6" fill="#6870b8" opacity="0.25"/>
<rect x="434.4" y="124.6" width="0.6" height="0.6" fill="#6870b8" opacity="0.29"/>
<rect x="443.3" y="136.3" width="0.6" height="0.6" fill="#6870b8" opacity="0.31"/>
<rect x="446.1" y="130.4" width="0.6" height="0.6" fill="#6870b8" opacity="0.34"/>
<rect x="442.6" y="136.9" width="0.6" height="0.6" fill="#6870b8" opacity="0.25"/>
<rect x="441.9" y="130.2" width="0.6" height="0.6" fill="#6870b8" opacity="0.50"/>
<rect x="446.3" y="131.0" width="0.6" height="0.6" fill="#6870b8" opacity="0.34"/>
<rect x="442.1" y="133.2" width="0.6" height="0.6" fill="#6870b8" opacity="0.23"/>
<rect x="437.7" y="133.3" width="0.6" height="0.6" fill="#6870b8" opacity="0.26"/>
<rect x="441.3" y="136.5" width="0.6" height="0.6" fill="#6870b8" opacity="0.47"/>
<rect x="439.3" y="124.3" width="0.6" height="0.6" fill="#6870b8" opacity="0.49"/>
<rect x="436.4" y="138.5" width="0.6" height="0.6" fill="#6870b8" opacity="0.32"/>
<rect x="443.7" y="127.0" width="0.6" height="0.6" fill="#6870b8" opacity="0.24"/>
<rect x="443.6" y="135.8" width="0.6" height="0.6" fill="#6870b8" opacity="0.38"/>
<rect x="441.0" y="135.9" width="0.6" height="0.6" fill="#6870b8" opacity="0.45"/>
<rect x="442.1" y="130.3" width="0.6" height="0.6" fill="#6870b8" opacity="0.21"/>
<rect x="444.4" y="131.7" width="0.6" height="0.6" fill="#6870b8" opacity="0.22"/>
<rect x="439.2" y="141.5" width="0.6" height="0.6" fill="#6870b8" opacity="0.47"/>
<rect x="436.6" y="136.2" width="0.6" height="0.6" fill="#6870b8" opacity="0.26"/>
<rect x="441.6" y="145.9" width="0.6" height="0.6" fill="#6870b8" opacity="0.31"/>
<rect x="444.8" y="139.4" width="0.6" height="0.6" fill="#6870b8" opacity="0.24"/>
<rect x="442.4" y="140.5" width="0.6" height="0.6" fill="#6870b8" opacity="0.38"/>
<rect x="437.9" y="129.8" width="0.6" height="0.6" fill="#6870b8" opacity="0.33"/>
<rect x="446.1" y="138.7" width="0.6" height="0.6" fill="#6870b8" opacity="0.22"/>
<rect x="438.0" y="136.4" width="0.6" height="0.6" fill="#6870b8" opacity="0.40"/>
<rect x="440.7" y="132.0" width="0.6" height="0.6" fill="#6870b8" opacity="0.39"/>
<rect x="440.0" y="130.4" width="0.6" height="0.6" fill="#6870b8" opacity="0.24"/>
<rect x="445.1" y="132.0" width="0.6" height="0.6" fill="#6870b8" opacity="0.22"/>
<rect x="442.0" y="149.6" width="0.6" height="0.6" fill="#6870b8" opacity="0.27"/>
<rect x="436.8" y="140.8" width="0.6" height="0.6" fill="#6870b8" opacity="0.45"/>
<rect x="437.7" y="129.6" width="0.6" height="0.6" fill="#6870b8" opacity="0.21"/>
<rect x="448.8" y="142.8" width="0.6" height="0.6" fill="#6870b8" opacity="0.44"/>
<rect x="442.3" y="135.9" width="0.6" height="0.6" fill="#6870b8" opacity="0.27"/>
<rect x="443.4" y="134.1" width="0.6" height="0.6" fill="#6870b8" opacity="0.40"/>
<rect x="445.6" y="132.6" width="0.6" height="0.6" fill="#6870b8" opacity="0.48"/>
<rect x="441.1" y="138.3" width="0.6" height="0.6" fill="#6870b8" opacity="0.21"/>
<rect x="441.4" y="133.3" width="0.6" height="0.6" fill="#6870b8" opacity="0.49"/>
<rect x="440.8" y="132.5" width="0.6" height="0.6" fill="#6870b8" opacity="0.44"/>
<rect x="443.4" y="140.4" width="0.6" height="0.6" fill="#6870b8" opacity="0.23"/>
<rect x="442.9" y="125.7" width="0.6" height="0.6" fill="#6870b8" opacity="0.47"/>
<rect x="447.7" y="135.6" width="0.6" height="0.6" fill="#6870b8" opacity="0.37"/>
<rect x="443.0" y="130.4" width="0.6" height="0.6" fill="#6870b8" opacity="0.39"/>
<rect x="436.4" y="130.7" width="0.6" height="0.6" fill="#6870b8" opacity="0.22"/>
<rect x="445.2" y="137.5" width="0.6" height="0.6" fill="#6870b8" opacity="0.29"/>
<rect x="441.0" y="135.9" width="0.6" height="0.6" fill="#6870b8" opacity="0.42"/>
<rect x="447.4" y="136.9" width="0.6" height="0.6" fill="#6870b8" opacity="0.44"/>
<rect x="439.7" y="136.1" width="0.6" height="0.6" fill="#6870b8" opacity="0.40"/>
<rect x="442.2" y="140.4" width="0.6" height="0.6" fill="#6870b8" opacity="0.23"/>
<rect x="445.4" y="134.6" width="0.6" height="0.6" fill="#6870b8" opacity="0.31"/>
<rect x="445.7" y="139.8" width="0.6" height="0.6" fill="#6870b8" opacity="0.45"/>
<rect x="442.2" y="133.7" width="0.6" height="0.6" fill="#6870b8" opacity="0.31"/>
<rect x="439.5" y="143.2" width="0.6" height="0.6" fill="#6870b8" opacity="0.24"/>
<rect x="434.1" y="127.2" width="0.6" height="0.6" fill="#6870b8" opacity="0.43"/>
<rect x="442.6" y="135.6" width="0.6" height="0.6" fill="#6870b8" opacity="0.23"/>
<rect x="439.7" y="129.4" width="0.6" height="0.6" fill="#6870b8" opacity="0.36"/>
<rect x="438.1" y="136.9" width="0.6" height="0.6" fill="#6870b8" opacity="0.38"/>
<rect x="436.9" y="126.9" width="0.6" height="0.6" fill="#6870b8" opacity="0.42"/>
<rect x="443.4" y="125.3" width="0.6" height="0.6" fill="#6870b8" opacity="0.45"/>
<rect x="441.1" y="134.3" width="0.6" height="0.6" fill="#6870b8" opacity="0.40"/>
<rect x="443.4" y="131.4" width="0.6" height="0.6" fill="#6870b8" opacity="0.46"/>
<rect x="444.7" y="145.9" width="0.6" height="0.6" fill="#6870b8" opacity="0.33"/>
<rect x="440.6" y="132.0" width="0.6" height="0.6" fill="#6870b8" opacity="0.29"/>
<rect x="439.6" y="139.0" width="0.6" height="0.6" fill="#6870b8" opacity="0.23"/>
<rect x="432.6" y="140.2" width="0.6" height="0.6" fill="#6870b8" opacity="0.40"/>
<rect x="446.4" y="132.1" width="0.6" height="0.6" fill="#6870b8" opacity="0.45"/>
<rect x="446.8" y="135.2" width="0.6" height="0.6" fill="#6870b8" opacity="0.28"/>
<rect x="441.3" y="140.4" width="0.6" height="0.6" fill="#6870b8" opacity="0.21"/>
<rect x="442.1" y="145.4" width="0.6" height="0.6" fill="#6870b8" opacity="0.48"/>
<rect x="438.6" y="142.7" width="0.6" height="0.6" fill="#6870b8" opacity="0.43"/>
<rect x="445.8" y="130.0" width="0.6" height="0.6" fill="#6870b8" opacity="0.36"/>
<rect x="446.2" y="141.0" width="0.6" height="0.6" fill="#6870b8" opacity="0.29"/>
<rect x="439.1" y="132.2" width="0.6" height="0.6" fill="#6870b8" opacity="0.36"/>
<rect x="443.2" y="134.9" width="0.6" height="0.6" fill="#6870b8" opacity="0.36"/>
<rect x="438.9" y="130.7" width="0.6" height="0.6" fill="#6870b8" opacity="0.48"/>
<rect x="435.2" y="141.3" width="0.6" height="0.6" fill="#6870b8" opacity="0.41"/>
<rect x="442.7" y="135.1" width="0.6" height="0.6" fill="#6870b8" opacity="0.26"/>
<rect x="439.6" y="145.7" width="0.6" height="0.6" fill="#6870b8" opacity="0.20"/>
<rect x="441.0" y="143.1" width="0.6" height="0.6" fill="#6870b8" opacity="0.50"/>
<rect x="442.9" y="140.1" width="0.6" height="0.6" fill="#6870b8" opacity="0.41"/>
<rect x="439.3" y="128.1" width="0.6" height="0.6" fill="#6870b8" opacity="0.43"/>
<rect x="441.3" y="139.2" width="0.6" height="0.6" fill="#6870b8" opacity="0.21"/>
<rect x="440.5" y="132.4" width="0.6" height="0.6" fill="#6870b8" opacity="0.28"/>
<rect x="445.9" y="134.0" width="0.6" height="0.6" fill="#6870b8" opacity="0.38"/>
<rect x="438.8" y="130.1" width="0.6" height="0.6" fill="#6870b8" opacity="0.41"/>
<rect x="440.9" y="137.1" width="0.6" height="0.6" fill="#6870b8" opacity="0.22"/>
<rect x="444.4" y="135.9" width="0.6" height="0.6" fill="#6870b8" opacity="0.24"/>
<rect x="444.2" y="139.1" width="0.6" height="0.6" fill="#6870b8" opacity="0.49"/>
<rect x="440.3" y="132.0" width="0.6" height="0.6" fill="#6870b8" opacity="0.43"/>
<rect x="442.0" y="137.5" width="0.6" height="0.6" fill="#6870b8" opacity="0.29"/>
<rect x="437.1" y="139.5" width="0.6" height="0.6" fill="#6870b8" opacity="0.33"/>
<rect x="441.1" y="133.4" width="0.6" height="0.6" fill="#6870b8" opacity="0.48"/>
<rect x="437.9" y="143.1" width="0.6" height="0.6" fill="#6870b8" opacity="0.21"/>
<rect x="442.4" y="132.5" width="0.6" height="0.6" fill="#6870b8" opacity="0.46"/>
<rect x="442.9" y="128.7" width="0.6" height="0.6" fill="#6870b8" opacity="0.28"/>
<rect x="443.4" y="135.7" width="0.6" height="0.6" fill="#6870b8" opacity="0.47"/>
<rect x="443.9" y="141.4" width="0.6" height="0.6" fill="#6870b8" opacity="0.38"/>
<rect x="440.2" y="132.9" width="0.6" height="0.6" fill="#6870b8" opacity="0.24"/>
<rect x="449.0" y="143.3" width="0.6" height="0.6" fill="#6870b8" opacity="0.31"/>
<rect x="438.8" y="130.4" width="0.6" height="0.6" fill="#6870b8" opacity="0.27"/>
<rect x="441.8" y="135.8" width="0.6" height="0.6" fill="#6870b8" opacity="0.46"/>
<rect x="447.1" y="144.5" width="0.6" height="0.6" fill="#6870b8" opacity="0.31"/>
<rect x="441.0" y="132.9" width="0.6" height="0.6" fill="#6870b8" opacity="0.44"/>
<rect x="441.3" y="140.1" width="0.6" height="0.6" fill="#6870b8" opacity="0.36"/>
<rect x="443.2" y="137.8" width="0.6" height="0.6" fill="#6870b8" opacity="0.44"/>
<rect x="440.6" y="140.1" width="0.6" height="0.6" fill="#6870b8" opacity="0.43"/>
<rect x="441.7" y="138.6" width="0.6" height="0.6" fill="#6870b8" opacity="0.27"/>
<rect x="439.0" y="138.5" width="0.6" height="0.6" fill="#6870b8" opacity="0.39"/>
<rect x="434.7" y="137.2" width="0.6" height="0.6" fill="#6870b8" opacity="0.22"/>
<rect x="438.1" y="127.7" width="0.6" height="0.6" fill="#6870b8" opacity="0.27"/>
<rect x="444.8" y="136.4" width="0.6" height="0.6" fill="#6870b8" opacity="0.23"/>
<rect x="436.3" y="137.4" width="0.6" height="0.6" fill="#6870b8" opacity="0.23"/>
<rect x="444.1" y="139.2" width="0.6" height="0.6" fill="#6870b8" opacity="0.25"/>
<rect x="441.7" y="140.6" width="0.6" height="0.6" fill="#6870b8" opacity="0.24"/>
<rect x="444.1" y="137.4" width="0.6" height="0.6" fill="#6870b8" opacity="0.34"/>
<rect x="445.2" y="133.1" width="0.6" height="0.6" fill="#6870b8" opacity="0.22"/>
<rect x="442.2" y="143.3" width="0.6" height="0.6" fill="#6870b8" opacity="0.37"/>
<rect x="447.1" y="126.5" width="0.6" height="0.6" fill="#6870b8" opacity="0.46"/>
<rect x="447.4" y="142.8" width="0.6" height="0.6" fill="#6870b8" opacity="0.36"/>
<rect x="441.4" y="138.4" width="0.6" height="0.6" fill="#6870b8" opacity="0.46"/>
<rect x="441.6" y="137.4" width="0.6" height="0.6" fill="#6870b8" opacity="0.28"/>
<rect x="444.6" y="133.1" width="0.6" height="0.6" fill="#6870b8" opacity="0.42"/>
<rect x="444.5" y="137.9" width="0.6" height="0.6" fill="#6870b8" opacity="0.30"/>
<rect x="442.6" y="142.3" width="0.6" height="0.6" fill="#6870b8" opacity="0.31"/>
<rect x="448.2" y="144.9" width="0.6" height="0.6" fill="#6870b8" opacity="0.34"/>
<rect x="441.5" y="136.1" width="0.6" height="0.6" fill="#6870b8" opacity="0.40"/>
<rect x="440.6" y="135.4" width="0.6" height="0.6" fill="#6870b8" opacity="0.34"/>
<rect x="441.1" y="129.6" width="0.6" height="0.6" fill="#6870b8" opacity="0.27"/>
<rect x="436.8" y="135.5" width="0.6" height="0.6" fill="#6870b8" opacity="0.40"/>
<rect x="444.9" y="142.3" width="0.6" height="0.6" fill="#6870b8" opacity="0.48"/>
<rect x="440.9" y="126.0" width="0.6" height="0.6" fill="#6870b8" opacity="0.31"/>
<rect x="443.0" y="133.8" width="0.6" height="0.6" fill="#6870b8" opacity="0.27"/>
<rect x="435.5" y="129.5" width="0.6" height="0.6" fill="#6870b8" opacity="0.22"/>
<rect x="441.5" y="136.8" width="0.6" height="0.6" fill="#6870b8" opacity="0.33"/>
<rect x="442.7" y="137.9" width="0.6" height="0.6" fill="#6870b8" opacity="0.42"/>
<rect x="434.5" y="129.8" width="0.6" height="0.6" fill="#6870b8" opacity="0.32"/>
<rect x="441.1" y="134.8" width="0.6" height="0.6" fill="#6870b8" opacity="0.48"/>
<rect x="441.7" y="140.9" width="0.6" height="0.6" fill="#6870b8" opacity="0.35"/>
<rect x="444.9" y="133.7" width="0.6" height="0.6" fill="#6870b8" opacity="0.50"/>
<rect x="439.6" y="133.2" width="0.6" height="0.6" fill="#6870b8" opacity="0.45"/>
<rect x="445.2" y="153.6" width="0.6" height="0.6" fill="#6870b8" opacity="0.34"/>
<rect x="442.5" y="147.6" width="0.6" height="0.6" fill="#6870b8" opacity="0.30"/>
<rect x="438.8" y="137.9" width="0.6" height="0.6" fill="#6870b8" opacity="0.40"/>
<rect x="444.5" y="136.2" width="0.6" height="0.6" fill="#6870b8" opacity="0.25"/>
<rect x="441.3" y="135.4" width="0.6" height="0.6" fill="#6870b8" opacity="0.38"/>
<rect x="441.1" y="140.8" width="0.6" height="0.6" fill="#6870b8" opacity="0.37"/>
<rect x="440.9" y="133.0" width="0.6" height="0.6" fill="#6870b8" opacity="0.27"/>
<rect x="447.4" y="143.9" width="0.6" height="0.6" fill="#6870b8" opacity="0.24"/>
<rect x="443.9" y="139.9" width="0.6" height="0.6" fill="#6870b8" opacity="0.37"/>
<rect x="442.2" y="134.4" width="0.6" height="0.6" fill="#6870b8" opacity="0.27"/>
<rect x="443.5" y="141.0" width="0.6" height="0.6" fill="#6870b8" opacity="0.34"/>
<rect x="435.5" y="140.9" width="0.6" height="0.6" fill="#6870b8" opacity="0.40"/>
<rect x="446.6" y="126.2" width="0.6" height="0.6" fill="#6870b8" opacity="0.28"/>
<rect x="444.5" y="133.7" width="0.6" height="0.6" fill="#6870b8" opacity="0.22"/>
<rect x="442.6" y="134.4" width="0.6" height="0.6" fill="#6870b8" opacity="0.21"/>
<rect x="440.6" y="139.3" width="0.6" height="0.6" fill="#6870b8" opacity="0.49"/>
<rect x="443.7" y="131.9" width="0.6" height="0.6" fill="#6870b8" opacity="0.36"/>
<rect x="444.8" y="128.4" width="0.6" height="0.6" fill="#6870b8" opacity="0.40"/>
<rect x="439.7" y="135.3" width="0.6" height="0.6" fill="#6870b8" opacity="0.27"/>
<rect x="438.9" y="130.2" width="0.6" height="0.6" fill="#6870b8" opacity="0.44"/>
<rect x="448.1" y="128.2" width="0.6" height="0.6" fill="#6870b8" opacity="0.26"/>
<rect x="447.6" y="140.2" width="0.6" height="0.6" fill="#6870b8" opacity="0.37"/>
<rect x="443.4" y="142.2" width="0.6" height="0.6" fill="#6870b8" opacity="0.28"/>
<rect x="441.6" y="140.1" width="0.6" height="0.6" fill="#6870b8" opacity="0.36"/>
<rect x="440.7" y="133.8" width="0.6" height="0.6" fill="#6870b8" opacity="0.42"/>
<rect x="438.7" y="131.7" width="0.6" height="0.6" fill="#6870b8" opacity="0.40"/>
<rect x="441.4" y="134.9" width="0.6" height="0.6" fill="#6870b8" opacity="0.34"/>
<rect x="439.0" y="128.7" width="0.6" height="0.6" fill="#6870b8" opacity="0.39"/>
<rect x="444.8" y="146.5" width="0.6" height="0.6" fill="#6870b8" opacity="0.44"/>
<rect x="441.7" y="140.6" width="0.6" height="0.6" fill="#6870b8" opacity="0.49"/>
<rect x="442.2" y="140.2" width="0.6" height="0.6" fill="#6870b8" opacity="0.49"/>
<rect x="443.2" y="133.4" width="0.6" height="0.6" fill="#6870b8" opacity="0.42"/>
<rect x="438.2" y="141.0" width="0.6" height="0.6" fill="#6870b8" opacity="0.43"/>
<rect x="442.9" y="137.9" width="0.6" height="0.6" fill="#6870b8" opacity="0.26"/>
<rect x="441.2" y="136.8" width="0.6" height="0.6" fill="#6870b8" opacity="0.24"/>
<rect x="438.4" y="138.3" width="0.6" height="0.6" fill="#6870b8" opacity="0.22"/>
<rect x="434.4" y="129.8" width="0.6" height="0.6" fill="#6870b8" opacity="0.37"/>
<rect x="438.1" y="141.4" width="0.6" height="0.6" fill="#6870b8" opacity="0.33"/>
<rect x="443.0" y="140.4" width="0.6" height="0.6" fill="#6870b8" opacity="0.21"/>
<rect x="440.4" y="133.0" width="0.6" height="0.6" fill="#6870b8" opacity="0.31"/>
<rect x="446.8" y="133.6" width="0.6" height="0.6" fill="#6870b8" opacity="0.45"/>
<rect x="438.4" y="130.2" width="0.6" height="0.6" fill="#6870b8" opacity="0.41"/>
<rect x="443.4" y="134.8" width="0.6" height="0.6" fill="#6870b8" opacity="0.43"/>
<rect x="440.5" y="139.0" width="0.6" height="0.6" fill="#6870b8" opacity="0.45"/>
<rect x="436.1" y="130.0" width="0.6" height="0.6" fill="#6870b8" opacity="0.46"/>
<rect x="439.4" y="133.8" width="0.6" height="0.6" fill="#6870b8" opacity="0.20"/>
<rect x="436.1" y="133.8" width="0.6" height="0.6" fill="#6870b8" opacity="0.28"/>
<rect x="441.6" y="135.7" width="0.6" height="0.6" fill="#6870b8" opacity="0.25"/>
<rect x="441.2" y="135.1" width="0.6" height="0.6" fill="#6870b8" opacity="0.27"/>
<rect x="440.8" y="143.0" width="0.6" height="0.6" fill="#6870b8" opacity="0.50"/>
<rect x="442.9" y="135.8" width="0.6" height="0.6" fill="#6870b8" opacity="0.48"/>
<rect x="443.1" y="135.0" width="0.6" height="0.6" fill="#6870b8" opacity="0.30"/>
<rect x="438.4" y="134.9" width="0.6" height="0.6" fill="#6870b8" opacity="0.33"/>
<rect x="438.8" y="136.0" width="0.6" height="0.6" fill="#6870b8" opacity="0.22"/>
<rect x="443.0" y="136.9" width="0.6" height="0.6" fill="#6870b8" opacity="0.23"/>
<rect x="437.7" y="130.3" width="0.6" height="0.6" fill="#6870b8" opacity="0.28"/>
<rect x="442.7" y="128.0" width="0.6" height="0.6" fill="#6870b8" opacity="0.30"/>
<rect x="439.2" y="135.7" width="0.6" height="0.6" fill="#6870b8" opacity="0.48"/>
<rect x="440.3" y="134.9" width="0.6" height="0.6" fill="#6870b8" opacity="0.25"/>
<rect x="440.2" y="131.1" width="0.6" height="0.6" fill="#6870b8" opacity="0.42"/>
<rect x="442.1" y="144.0" width="0.6" height="0.6" fill="#6870b8" opacity="0.44"/>
<rect x="444.9" y="139.1" width="0.6" height="0.6" fill="#6870b8" opacity="0.26"/>
<rect x="439.7" y="127.1" width="0.6" height="0.6" fill="#6870b8" opacity="0.44"/>
<rect x="441.5" y="137.6" width="0.6" height="0.6" fill="#6870b8" opacity="0.40"/>
<rect x="439.6" y="134.5" width="0.6" height="0.6" fill="#6870b8" opacity="0.26"/>
<rect x="439.9" y="134.4" width="0.6" height="0.6" fill="#6870b8" opacity="0.39"/>
<rect x="441.4" y="139.2" width="0.6" height="0.6" fill="#6870b8" opacity="0.33"/>
<rect x="436.1" y="133.9" width="0.6" height="0.6" fill="#6870b8" opacity="0.21"/>
<rect x="440.9" y="132.2" width="0.6" height="0.6" fill="#6870b8" opacity="0.29"/>
<rect x="438.1" y="129.8" width="0.6" height="0.6" fill="#6870b8" opacity="0.38"/>
<rect x="443.1" y="133.6" width="0.6" height="0.6" fill="#6870b8" opacity="0.29"/>
<rect x="440.0" y="132.3" width="0.6" height="0.6" fill="#6870b8" opacity="0.25"/>
<rect x="442.1" y="143.7" width="0.6" height="0.6" fill="#6870b8" opacity="0.45"/>
<rect x="439.5" y="123.7" width="0.6" height="0.6" fill="#6870b8" opacity="0.44"/>
<rect x="440.2" y="139.4" width="0.6" height="0.6" fill="#6870b8" opacity="0.42"/>
<rect x="445.5" y="137.8" width="0.6" height="0.6" fill="#6870b8" opacity="0.23"/>
<rect x="445.1" y="137.2" width="0.6" height="0.6" fill="#6870b8" opacity="0.25"/>
<rect x="447.4" y="131.4" width="0.6" height="0.6" fill="#6870b8" opacity="0.34"/>
<rect x="441.8" y="137.8" width="0.6" height="0.6" fill="#6870b8" opacity="0.35"/>
<rect x="438.2" y="134.9" width="0.6" height="0.6" fill="#6870b8" opacity="0.41"/>
<rect x="435.7" y="134.0" width="0.6" height="0.6" fill="#6870b8" opacity="0.23"/>
<rect x="444.3" y="137.5" width="0.6" height="0.6" fill="#6870b8" opacity="0.35"/>
<rect x="441.2" y="142.6" width="0.6" height="0.6" fill="#6870b8" opacity="0.27"/>
<rect x="439.7" y="140.5" width="0.6" height="0.6" fill="#6870b8" opacity="0.41"/>
<rect x="441.7" y="130.9" width="0.6" height="0.6" fill="#6870b8" opacity="0.33"/>
<rect x="448.2" y="130.6" width="0.6" height="0.6" fill="#6870b8" opacity="0.39"/>
<rect x="444.2" y="138.7" width="0.6" height="0.6" fill="#6870b8" opacity="0.39"/>
<rect x="441.1" y="136.8" width="0.6" height="0.6" fill="#6870b8" opacity="0.49"/>
<rect x="442.8" y="134.1" width="0.6" height="0.6" fill="#6870b8" opacity="0.34"/>
<rect x="439.3" y="132.7" width="0.6" height="0.6" fill="#6870b8" opacity="0.22"/>
<rect x="441.3" y="127.3" width="0.6" height="0.6" fill="#6870b8" opacity="0.33"/>
<rect x="444.1" y="138.0" width="0.6" height="0.6" fill="#6870b8" opacity="0.23"/>
<rect x="442.3" y="135.1" width="0.6" height="0.6" fill="#6870b8" opacity="0.29"/>
<rect x="441.5" y="132.9" width="0.6" height="0.6" fill="#6870b8" opacity="0.23"/>
<rect x="443.1" y="136.7" width="0.6" height="0.6" fill="#6870b8" opacity="0.36"/>
<rect x="442.3" y="133.0" width="0.6" height="0.6" fill="#6870b8" opacity="0.25"/>
<rect x="441.6" y="130.5" width="0.6" height="0.6" fill="#6870b8" opacity="0.30"/>
<rect x="443.1" y="138.0" width="0.6" height="0.6" fill="#6870b8" opacity="0.49"/>
<rect x="443.2" y="138.0" width="0.6" height="0.6" fill="#6870b8" opacity="0.42"/>
<rect x="446.9" y="129.0" width="0.6" height="0.6" fill="#6870b8" opacity="0.34"/>
<rect x="445.6" y="133.7" width="0.6" height="0.6" fill="#6870b8" opacity="0.29"/>
<rect x="436.2" y="137.2" width="0.6" height="0.6" fill="#6870b8" opacity="0.42"/>
<rect x="442.8" y="137.8" width="0.6" height="0.6" fill="#6870b8" opacity="0.49"/>
<rect x="446.0" y="141.0" width="0.6" height="0.6" fill="#6870b8" opacity="0.30"/>
<rect x="441.3" y="139.2" width="0.6" height="0.6" fill="#6870b8" opacity="0.34"/>
<rect x="443.2" y="135.3" width="0.6" height="0.6" fill="#6870b8" opacity="0.46"/>
<rect x="440.4" y="138.2" width="0.6" height="0.6" fill="#6870b8" opacity="0.42"/>
<rect x="440.1" y="138.1" width="0.6" height="0.6" fill="#6870b8" opacity="0.33"/>
<rect x="444.2" y="126.9" width="0.6" height="0.6" fill="#6870b8" opacity="0.37"/>
<rect x="446.9" y="136.0" width="0.6" height="0.6" fill="#6870b8" opacity="0.38"/>
<rect x="447.9" y="128.5" width="0.6" height="0.6" fill="#6870b8" opacity="0.30"/>
<rect x="444.8" y="128.3" width="0.6" height="0.6" fill="#6870b8" opacity="0.28"/>
<rect x="439.2" y="139.0" width="0.6" height="0.6" fill="#6870b8" opacity="0.31"/>
<rect x="440.1" y="137.1" width="0.6" height="0.6" fill="#6870b8" opacity="0.27"/>
<rect x="444.2" y="132.8" width="0.6" height="0.6" fill="#6870b8" opacity="0.39"/>
<rect x="445.5" y="130.3" width="0.6" height="0.6" fill="#6870b8" opacity="0.27"/>
<rect x="446.5" y="131.3" width="0.6" height="0.6" fill="#6870b8" opacity="0.50"/>
<rect x="440.5" y="127.5" width="0.6" height="0.6" fill="#6870b8" opacity="0.44"/>
<rect x="441.2" y="142.5" width="0.6" height="0.6" fill="#6870b8" opacity="0.31"/>
<rect x="442.2" y="133.3" width="0.6" height="0.6" fill="#6870b8" opacity="0.36"/>
<rect x="438.1" y="143.1" width="0.6" height="0.6" fill="#6870b8" opacity="0.30"/>
<rect x="444.9" y="127.8" width="0.6" height="0.6" fill="#6870b8" opacity="0.46"/>
<rect x="446.3" y="144.2" width="0.6" height="0.6" fill="#6870b8" opacity="0.42"/>
<rect x="439.2" y="129.2" width="0.6" height="0.6" fill="#6870b8" opacity="0.21"/>
<rect x="444.1" y="131.1" width="0.6" height="0.6" fill="#6870b8" opacity="0.34"/>
<rect x="438.2" y="142.6" width="0.6" height="0.6" fill="#6870b8" opacity="0.43"/>
<rect x="442.9" y="133.1" width="0.6" height="0.6" fill="#6870b8" opacity="0.30"/>
<rect x="441.3" y="137.7" width="0.6" height="0.6" fill="#6870b8" opacity="0.30"/>
<rect x="447.1" y="136.9" width="0.6" height="0.6" fill="#6870b8" opacity="0.27"/>
<rect x="442.4" y="136.3" width="0.6" height="0.6" fill="#6870b8" opacity="0.42"/>
<rect x="442.5" y="140.6" width="0.6" height="0.6" fill="#6870b8" opacity="0.32"/>
<rect x="443.9" y="124.2" width="0.6" height="0.6" fill="#6870b8" opacity="0.29"/>
<rect x="436.6" y="128.0" width="0.6" height="0.6" fill="#6870b8" opacity="0.34"/>
<rect x="445.6" y="130.9" width="0.6" height="0.6" fill="#6870b8" opacity="0.29"/>
<rect x="444.3" y="131.0" width="0.6" height="0.6" fill="#6870b8" opacity="0.23"/>
<rect x="436.0" y="130.8" width="0.6" height="0.6" fill="#6870b8" opacity="0.36"/>
<rect x="437.9" y="136.0" width="0.6" height="0.6" fill="#6870b8" opacity="0.46"/>
<rect x="440.2" y="132.7" width="0.6" height="0.6" fill="#6870b8" opacity="0.31"/>
<rect x="435.9" y="144.7" width="0.6" height="0.6" fill="#6870b8" opacity="0.41"/>
<rect x="446.5" y="143.0" width="0.6" height="0.6" fill="#6870b8" opacity="0.21"/>
<rect x="438.3" y="132.7" width="0.6" height="0.6" fill="#6870b8" opacity="0.42"/>
<rect x="440.0" y="136.4" width="0.6" height="0.6" fill="#6870b8" opacity="0.36"/>
<rect x="443.8" y="127.8" width="0.6" height="0.6" fill="#6870b8" opacity="0.31"/>
<rect x="442.2" y="143.3" width="0.6" height="0.6" fill="#6870b8" opacity="0.44"/>
<rect x="442.6" y="145.3" width="0.6" height="0.6" fill="#6870b8" opacity="0.50"/>
<rect x="438.3" y="137.4" width="0.6" height="0.6" fill="#6870b8" opacity="0.41"/>
<rect x="443.3" y="134.1" width="0.6" height="0.6" fill="#6870b8" opacity="0.29"/>
<rect x="438.7" y="142.4" width="0.6" height="0.6" fill="#6870b8" opacity="0.26"/>
<rect x="437.6" y="133.9" width="0.6" height="0.6" fill="#6870b8" opacity="0.40"/>
<rect x="446.4" y="144.9" width="0.6" height="0.6" fill="#6870b8" opacity="0.50"/>
<rect x="435.9" y="132.3" width="0.6" height="0.6" fill="#6870b8" opacity="0.26"/>
<rect x="444.8" y="132.2" width="0.6" height="0.6" fill="#6870b8" opacity="0.43"/>
<rect x="443.4" y="132.2" width="0.6" height="0.6" fill="#6870b8" opacity="0.48"/>
<rect x="441.5" y="136.5" width="0.6" height="0.6" fill="#6870b8" opacity="0.35"/>
<rect x="447.0" y="129.4" width="0.6" height="0.6" fill="#6870b8" opacity="0.49"/>
<rect x="433.7" y="134.7" width="0.6" height="0.6" fill="#6870b8" opacity="0.37"/>
<rect x="444.2" y="140.8" width="0.6" height="0.6" fill="#6870b8" opacity="0.44"/>
<rect x="437.3" y="138.5" width="0.6" height="0.6" fill="#6870b8" opacity="0.28"/>
<rect x="440.7" y="140.4" width="0.6" height="0.6" fill="#6870b8" opacity="0.35"/>
<rect x="439.9" y="135.9" width="0.6" height="0.6" fill="#6870b8" opacity="0.20"/>
<rect x="438.5" y="141.9" width="0.6" height="0.6" fill="#6870b8" opacity="0.42"/>
<rect x="441.5" y="139.2" width="0.6" height="0.6" fill="#6870b8" opacity="0.36"/>
<rect x="443.3" y="141.3" width="0.6" height="0.6" fill="#6870b8" opacity="0.47"/>
<rect x="442.6" y="141.6" width="0.6" height="0.6" fill="#6870b8" opacity="0.42"/>
<rect x="441.3" y="127.9" width="0.6" height="0.6" fill="#6870b8" opacity="0.41"/>
<rect x="440.4" y="144.6" width="0.6" height="0.6" fill="#6870b8" opacity="0.48"/>
<rect x="448.8" y="139.2" width="0.6" height="0.6" fill="#6870b8" opacity="0.33"/>
<rect x="442.4" y="136.4" width="0.6" height="0.6" fill="#6870b8" opacity="0.44"/>
<rect x="440.5" y="133.1" width="0.6" height="0.6" fill="#6870b8" opacity="0.34"/>
<rect x="469.9" y="154.1" width="0.6" height="0.6" fill="#7078c0" opacity="0.38"/>
<rect x="461.2" y="152.3" width="0.6" height="0.6" fill="#7078c0" opacity="0.21"/>
<rect x="458.7" y="150.0" width="0.6" height="0.6" fill="#7078c0" opacity="0.24"/>
<rect x="458.7" y="153.8" width="0.6" height="0.6" fill="#7078c0" opacity="0.22"/>
<rect x="455.9" y="152.9" width="0.6" height="0.6" fill="#7078c0" opacity="0.30"/>
<rect x="459.4" y="153.9" width="0.6" height="0.6" fill="#7078c0" opacity="0.29"/>
<rect x="465.9" y="154.6" width="0.6" height="0.6" fill="#7078c0" opacity="0.43"/>
<rect x="466.6" y="151.9" width="0.6" height="0.6" fill="#7078c0" opacity="0.21"/>
<rect x="469.0" y="153.0" width="0.6" height="0.6" fill="#7078c0" opacity="0.17"/>
<rect x="471.0" y="153.3" width="0.6" height="0.6" fill="#7078c0" opacity="0.44"/>
<rect x="465.1" y="151.0" width="0.6" height="0.6" fill="#7078c0" opacity="0.26"/>
<rect x="470.8" y="154.0" width="0.6" height="0.6" fill="#7078c0" opacity="0.27"/>
<rect x="458.4" y="154.0" width="0.6" height="0.6" fill="#7078c0" opacity="0.15"/>
<rect x="473.6" y="150.3" width="0.6" height="0.6" fill="#7078c0" opacity="0.37"/>
<rect x="464.0" y="149.2" width="0.6" height="0.6" fill="#7078c0" opacity="0.27"/>
<rect x="465.7" y="149.0" width="0.6" height="0.6" fill="#7078c0" opacity="0.24"/>
<rect x="468.2" y="150.6" width="0.6" height="0.6" fill="#7078c0" opacity="0.43"/>
<rect x="458.2" y="149.5" width="0.6" height="0.6" fill="#7078c0" opacity="0.26"/>
<rect x="473.6" y="153.0" width="0.6" height="0.6" fill="#7078c0" opacity="0.35"/>
<rect x="463.6" y="149.7" width="0.6" height="0.6" fill="#7078c0" opacity="0.43"/>
<rect x="468.2" y="151.3" width="0.6" height="0.6" fill="#7078c0" opacity="0.18"/>
<rect x="474.4" y="153.0" width="0.6" height="0.6" fill="#7078c0" opacity="0.39"/>
<rect x="453.0" y="151.3" width="0.6" height="0.6" fill="#7078c0" opacity="0.30"/>
<rect x="464.2" y="154.3" width="0.6" height="0.6" fill="#7078c0" opacity="0.42"/>
<rect x="463.8" y="147.8" width="0.6" height="0.6" fill="#7078c0" opacity="0.34"/>
<rect x="466.7" y="151.4" width="0.6" height="0.6" fill="#7078c0" opacity="0.25"/>
<rect x="464.7" y="149.6" width="0.6" height="0.6" fill="#7078c0" opacity="0.23"/>
<rect x="464.3" y="150.1" width="0.6" height="0.6" fill="#7078c0" opacity="0.27"/>
<rect x="464.2" y="154.4" width="0.6" height="0.6" fill="#7078c0" opacity="0.23"/>
<rect x="463.4" y="151.0" width="0.6" height="0.6" fill="#7078c0" opacity="0.40"/>
<rect x="458.7" y="152.1" width="0.6" height="0.6" fill="#7078c0" opacity="0.21"/>
<rect x="454.8" y="151.9" width="0.6" height="0.6" fill="#7078c0" opacity="0.39"/>
<rect x="458.2" y="152.4" width="0.6" height="0.6" fill="#7078c0" opacity="0.23"/>
<rect x="471.6" y="153.0" width="0.6" height="0.6" fill="#7078c0" opacity="0.37"/>
<rect x="474.6" y="154.7" width="0.6" height="0.6" fill="#7078c0" opacity="0.43"/>
<rect x="456.1" y="151.5" width="0.6" height="0.6" fill="#7078c0" opacity="0.43"/>
<rect x="465.8" y="153.5" width="0.6" height="0.6" fill="#7078c0" opacity="0.41"/>
<rect x="464.7" y="155.4" width="0.6" height="0.6" fill="#7078c0" opacity="0.18"/>
<rect x="474.0" y="152.4" width="0.6" height="0.6" fill="#7078c0" opacity="0.44"/>
<rect x="453.7" y="149.6" width="0.6" height="0.6" fill="#7078c0" opacity="0.17"/>
<rect x="457.4" y="155.4" width="0.6" height="0.6" fill="#7078c0" opacity="0.34"/>
<rect x="457.0" y="152.7" width="0.6" height="0.6" fill="#7078c0" opacity="0.20"/>
<rect x="459.3" y="150.0" width="0.6" height="0.6" fill="#7078c0" opacity="0.44"/>
<rect x="464.1" y="150.4" width="0.6" height="0.6" fill="#7078c0" opacity="0.44"/>
<rect x="465.8" y="151.1" width="0.6" height="0.6" fill="#7078c0" opacity="0.22"/>
<rect x="475.6" y="153.3" width="0.6" height="0.6" fill="#7078c0" opacity="0.45"/>
<rect x="471.1" y="152.9" width="0.6" height="0.6" fill="#7078c0" opacity="0.20"/>
<rect x="463.9" y="153.4" width="0.6" height="0.6" fill="#7078c0" opacity="0.37"/>
<rect x="454.8" y="149.3" width="0.6" height="0.6" fill="#7078c0" opacity="0.16"/>
<rect x="465.9" y="151.7" width="0.6" height="0.6" fill="#7078c0" opacity="0.39"/>
<rect x="468.7" y="148.4" width="0.6" height="0.6" fill="#7078c0" opacity="0.33"/>
<rect x="463.5" y="153.5" width="0.6" height="0.6" fill="#7078c0" opacity="0.27"/>
<rect x="475.1" y="155.1" width="0.6" height="0.6" fill="#7078c0" opacity="0.32"/>
<rect x="458.1" y="148.9" width="0.6" height="0.6" fill="#7078c0" opacity="0.20"/>
<rect x="464.6" y="152.2" width="0.6" height="0.6" fill="#7078c0" opacity="0.39"/>
<rect x="472.5" y="152.1" width="0.6" height="0.6" fill="#7078c0" opacity="0.30"/>
<rect x="451.2" y="152.9" width="0.6" height="0.6" fill="#7078c0" opacity="0.35"/>
<rect x="468.6" y="150.3" width="0.6" height="0.6" fill="#7078c0" opacity="0.37"/>
<rect x="465.2" y="157.1" width="0.6" height="0.6" fill="#7078c0" opacity="0.43"/>
<rect x="469.4" y="151.1" width="0.6" height="0.6" fill="#7078c0" opacity="0.24"/>
<rect x="464.5" y="151.8" width="0.6" height="0.6" fill="#7078c0" opacity="0.39"/>
<rect x="472.5" y="156.6" width="0.6" height="0.6" fill="#7078c0" opacity="0.40"/>
<rect x="475.9" y="151.6" width="0.6" height="0.6" fill="#7078c0" opacity="0.38"/>
<rect x="461.6" y="150.7" width="0.6" height="0.6" fill="#7078c0" opacity="0.33"/>
<rect x="458.6" y="153.8" width="0.6" height="0.6" fill="#7078c0" opacity="0.23"/>
<rect x="474.8" y="150.5" width="0.6" height="0.6" fill="#7078c0" opacity="0.17"/>
<rect x="474.9" y="152.3" width="0.6" height="0.6" fill="#7078c0" opacity="0.38"/>
<rect x="468.6" y="151.2" width="0.6" height="0.6" fill="#7078c0" opacity="0.42"/>
<rect x="468.9" y="148.1" width="0.6" height="0.6" fill="#7078c0" opacity="0.18"/>
<rect x="472.3" y="154.4" width="0.6" height="0.6" fill="#7078c0" opacity="0.18"/>
<rect x="462.0" y="155.4" width="0.6" height="0.6" fill="#7078c0" opacity="0.28"/>
<rect x="471.5" y="155.0" width="0.6" height="0.6" fill="#7078c0" opacity="0.23"/>
<rect x="471.5" y="151.8" width="0.6" height="0.6" fill="#7078c0" opacity="0.30"/>
<rect x="471.4" y="151.6" width="0.6" height="0.6" fill="#7078c0" opacity="0.21"/>
<rect x="470.2" y="152.0" width="0.6" height="0.6" fill="#7078c0" opacity="0.43"/>
<rect x="475.1" y="154.2" width="0.6" height="0.6" fill="#7078c0" opacity="0.45"/>
<rect x="465.6" y="149.0" width="0.6" height="0.6" fill="#7078c0" opacity="0.38"/>
<rect x="466.2" y="150.7" width="0.6" height="0.6" fill="#7078c0" opacity="0.41"/>
<rect x="465.0" y="154.5" width="0.6" height="0.6" fill="#7078c0" opacity="0.19"/>
<rect x="471.9" y="151.6" width="0.6" height="0.6" fill="#7078c0" opacity="0.19"/>
<rect x="470.6" y="157.9" width="0.6" height="0.6" fill="#7078c0" opacity="0.31"/>
<rect x="471.7" y="154.3" width="0.6" height="0.6" fill="#7078c0" opacity="0.19"/>
<rect x="469.8" y="151.2" width="0.6" height="0.6" fill="#7078c0" opacity="0.39"/>
<rect x="453.4" y="153.4" width="0.6" height="0.6" fill="#7078c0" opacity="0.29"/>
<rect x="456.0" y="154.8" width="0.6" height="0.6" fill="#7078c0" opacity="0.16"/>
<rect x="466.4" y="148.9" width="0.6" height="0.6" fill="#7078c0" opacity="0.29"/>
<rect x="471.3" y="152.1" width="0.6" height="0.6" fill="#7078c0" opacity="0.43"/>
<rect x="459.5" y="150.5" width="0.6" height="0.6" fill="#7078c0" opacity="0.19"/>
<rect x="473.0" y="153.2" width="0.6" height="0.6" fill="#7078c0" opacity="0.30"/>
<rect x="463.5" y="153.2" width="0.6" height="0.6" fill="#7078c0" opacity="0.20"/>
<rect x="474.9" y="148.8" width="0.6" height="0.6" fill="#7078c0" opacity="0.23"/>
<rect x="474.6" y="152.9" width="0.6" height="0.6" fill="#7078c0" opacity="0.22"/>
<rect x="474.5" y="148.3" width="0.6" height="0.6" fill="#7078c0" opacity="0.38"/>
<rect x="469.7" y="148.8" width="0.6" height="0.6" fill="#7078c0" opacity="0.31"/>
<rect x="473.7" y="151.4" width="0.6" height="0.6" fill="#7078c0" opacity="0.42"/>
<rect x="472.8" y="152.6" width="0.6" height="0.6" fill="#7078c0" opacity="0.35"/>
<rect x="471.8" y="152.6" width="0.6" height="0.6" fill="#7078c0" opacity="0.40"/>
<rect x="475.4" y="154.5" width="0.6" height="0.6" fill="#7078c0" opacity="0.43"/>
<rect x="458.7" y="151.3" width="0.6" height="0.6" fill="#7078c0" opacity="0.27"/>
<rect x="458.9" y="150.0" width="0.6" height="0.6" fill="#7078c0" opacity="0.19"/>
<rect x="466.5" y="150.7" width="0.6" height="0.6" fill="#7078c0" opacity="0.26"/>
<rect x="468.2" y="152.4" width="0.6" height="0.6" fill="#7078c0" opacity="0.38"/>
<rect x="468.9" y="154.5" width="0.6" height="0.6" fill="#7078c0" opacity="0.26"/>
<rect x="475.4" y="155.8" width="0.6" height="0.6" fill="#7078c0" opacity="0.44"/>
<rect x="458.0" y="147.8" width="0.6" height="0.6" fill="#7078c0" opacity="0.27"/>
<rect x="468.1" y="149.7" width="0.6" height="0.6" fill="#7078c0" opacity="0.24"/>
<rect x="453.1" y="152.6" width="0.6" height="0.6" fill="#7078c0" opacity="0.24"/>
<rect x="469.7" y="153.3" width="0.6" height="0.6" fill="#7078c0" opacity="0.32"/>
<rect x="475.2" y="151.6" width="0.6" height="0.6" fill="#7078c0" opacity="0.43"/>
<rect x="469.8" y="150.6" width="0.6" height="0.6" fill="#7078c0" opacity="0.31"/>
<rect x="473.8" y="151.4" width="0.6" height="0.6" fill="#7078c0" opacity="0.33"/>
<rect x="462.6" y="150.6" width="0.6" height="0.6" fill="#7078c0" opacity="0.44"/>
<rect x="461.2" y="153.0" width="0.6" height="0.6" fill="#7078c0" opacity="0.15"/>
<rect x="468.2" y="152.2" width="0.6" height="0.6" fill="#7078c0" opacity="0.21"/>
<rect x="467.3" y="155.1" width="0.6" height="0.6" fill="#7078c0" opacity="0.35"/>
<rect x="470.7" y="154.9" width="0.6" height="0.6" fill="#7078c0" opacity="0.43"/>
<rect x="475.9" y="150.9" width="0.6" height="0.6" fill="#7078c0" opacity="0.15"/>
<rect x="454.3" y="149.5" width="0.6" height="0.6" fill="#7078c0" opacity="0.28"/>
<rect x="475.5" y="151.3" width="0.6" height="0.6" fill="#7078c0" opacity="0.15"/>
<rect x="465.4" y="154.7" width="0.6" height="0.6" fill="#7078c0" opacity="0.42"/>
<rect x="468.9" y="152.4" width="0.6" height="0.6" fill="#7078c0" opacity="0.21"/>
<rect x="459.3" y="152.0" width="0.6" height="0.6" fill="#7078c0" opacity="0.40"/>
<rect x="456.6" y="153.7" width="0.6" height="0.6" fill="#7078c0" opacity="0.41"/>
<rect x="467.5" y="151.6" width="0.6" height="0.6" fill="#7078c0" opacity="0.25"/>
<rect x="475.5" y="149.7" width="0.6" height="0.6" fill="#7078c0" opacity="0.17"/>
<rect x="473.3" y="154.0" width="0.6" height="0.6" fill="#7078c0" opacity="0.44"/>
<rect x="456.9" y="152.3" width="0.6" height="0.6" fill="#7078c0" opacity="0.19"/>
<rect x="464.2" y="150.7" width="0.6" height="0.6" fill="#7078c0" opacity="0.35"/>
<rect x="475.3" y="158.7" width="0.6" height="0.6" fill="#7078c0" opacity="0.34"/>
<rect x="470.1" y="152.1" width="0.6" height="0.6" fill="#7078c0" opacity="0.20"/>
<rect x="471.5" y="150.5" width="0.6" height="0.6" fill="#7078c0" opacity="0.42"/>
<rect x="461.5" y="151.7" width="0.6" height="0.6" fill="#7078c0" opacity="0.19"/>
<rect x="458.6" y="153.9" width="0.6" height="0.6" fill="#7078c0" opacity="0.39"/>
<rect x="458.7" y="154.5" width="0.6" height="0.6" fill="#7078c0" opacity="0.30"/>
<rect x="468.6" y="150.4" width="0.6" height="0.6" fill="#7078c0" opacity="0.31"/>
<rect x="452.1" y="151.5" width="0.6" height="0.6" fill="#7078c0" opacity="0.17"/>
<rect x="465.5" y="152.6" width="0.6" height="0.6" fill="#7078c0" opacity="0.22"/>
<rect x="473.1" y="155.7" width="0.6" height="0.6" fill="#7078c0" opacity="0.22"/>
<rect x="456.2" y="150.3" width="0.6" height="0.6" fill="#7078c0" opacity="0.25"/>
<rect x="472.1" y="152.6" width="0.6" height="0.6" fill="#7078c0" opacity="0.22"/>
<rect x="470.4" y="153.4" width="0.6" height="0.6" fill="#7078c0" opacity="0.30"/>
<rect x="474.8" y="150.4" width="0.6" height="0.6" fill="#7078c0" opacity="0.33"/>
<rect x="459.3" y="153.1" width="0.6" height="0.6" fill="#7078c0" opacity="0.25"/>
<rect x="456.1" y="152.7" width="0.6" height="0.6" fill="#7078c0" opacity="0.34"/>
<rect x="465.5" y="151.4" width="0.6" height="0.6" fill="#7078c0" opacity="0.43"/>
<rect x="461.2" y="154.5" width="0.6" height="0.6" fill="#7078c0" opacity="0.20"/>
<rect x="462.8" y="150.3" width="0.6" height="0.6" fill="#7078c0" opacity="0.36"/>
<rect x="465.6" y="156.2" width="0.6" height="0.6" fill="#7078c0" opacity="0.20"/>
<rect x="454.1" y="155.1" width="0.6" height="0.6" fill="#7078c0" opacity="0.34"/>
<rect x="458.5" y="155.0" width="0.6" height="0.6" fill="#7078c0" opacity="0.34"/>
<rect x="454.7" y="150.5" width="0.6" height="0.6" fill="#7078c0" opacity="0.18"/>
<rect x="471.7" y="152.2" width="0.6" height="0.6" fill="#7078c0" opacity="0.37"/>
<rect x="467.4" y="153.8" width="0.6" height="0.6" fill="#7078c0" opacity="0.28"/>
<rect x="470.3" y="154.9" width="0.6" height="0.6" fill="#7078c0" opacity="0.18"/>
<rect x="474.4" y="153.7" width="0.6" height="0.6" fill="#7078c0" opacity="0.27"/>
<rect x="459.9" y="152.3" width="0.6" height="0.6" fill="#7078c0" opacity="0.18"/>
<rect x="470.8" y="154.1" width="0.6" height="0.6" fill="#7078c0" opacity="0.23"/>
<rect x="470.5" y="152.2" width="0.6" height="0.6" fill="#7078c0" opacity="0.22"/>
<rect x="465.0" y="151.5" width="0.6" height="0.6" fill="#7078c0" opacity="0.20"/>
<rect x="455.3" y="150.3" width="0.6" height="0.6" fill="#7078c0" opacity="0.31"/>
<rect x="475.9" y="153.1" width="0.6" height="0.6" fill="#7078c0" opacity="0.30"/>
<rect x="466.9" y="151.9" width="0.6" height="0.6" fill="#7078c0" opacity="0.21"/>
<rect x="470.4" y="148.7" width="0.6" height="0.6" fill="#7078c0" opacity="0.24"/>
<rect x="475.0" y="152.4" width="0.6" height="0.6" fill="#7078c0" opacity="0.39"/>
<rect x="466.6" y="153.8" width="0.6" height="0.6" fill="#7078c0" opacity="0.19"/>
<rect x="470.7" y="154.1" width="0.6" height="0.6" fill="#7078c0" opacity="0.36"/>
<rect x="468.7" y="152.9" width="0.6" height="0.6" fill="#7078c0" opacity="0.36"/>
<rect x="472.8" y="152.2" width="0.6" height="0.6" fill="#7078c0" opacity="0.18"/>
<rect x="463.2" y="154.8" width="0.6" height="0.6" fill="#7078c0" opacity="0.37"/>
<rect x="463.8" y="153.2" width="0.6" height="0.6" fill="#7078c0" opacity="0.36"/>
<rect x="464.2" y="151.9" width="0.6" height="0.6" fill="#7078c0" opacity="0.44"/>
<rect x="465.8" y="150.7" width="0.6" height="0.6" fill="#7078c0" opacity="0.15"/>
<rect x="456.2" y="151.7" width="0.6" height="0.6" fill="#7078c0" opacity="0.34"/>
<rect x="458.5" y="148.3" width="0.6" height="0.6" fill="#7078c0" opacity="0.41"/>
<rect x="471.3" y="153.8" width="0.6" height="0.6" fill="#7078c0" opacity="0.35"/>
<rect x="450.9" y="153.6" width="0.6" height="0.6" fill="#7078c0" opacity="0.16"/>
<rect x="463.9" y="157.0" width="0.6" height="0.6" fill="#7078c0" opacity="0.25"/>
<rect x="474.6" y="147.6" width="0.6" height="0.6" fill="#7078c0" opacity="0.39"/>
<rect x="473.8" y="147.8" width="0.6" height="0.6" fill="#7078c0" opacity="0.34"/>
<rect x="475.2" y="149.5" width="0.6" height="0.6" fill="#7078c0" opacity="0.32"/>
<rect x="459.8" y="150.0" width="0.6" height="0.6" fill="#7078c0" opacity="0.25"/>
<rect x="464.4" y="152.0" width="0.6" height="0.6" fill="#7078c0" opacity="0.30"/>
<rect x="468.9" y="152.6" width="0.6" height="0.6" fill="#7078c0" opacity="0.30"/>
<rect x="467.2" y="153.9" width="0.6" height="0.6" fill="#7078c0" opacity="0.28"/>
<rect x="470.3" y="153.3" width="0.6" height="0.6" fill="#7078c0" opacity="0.23"/>
<rect x="472.2" y="154.6" width="0.6" height="0.6" fill="#7078c0" opacity="0.36"/>
<rect x="472.4" y="150.8" width="0.6" height="0.6" fill="#7078c0" opacity="0.43"/>
<rect x="467.4" y="152.1" width="0.6" height="0.6" fill="#7078c0" opacity="0.26"/>
<rect x="462.4" y="149.7" width="0.6" height="0.6" fill="#7078c0" opacity="0.40"/>
<rect x="466.8" y="154.1" width="0.6" height="0.6" fill="#7078c0" opacity="0.37"/>
<rect x="460.3" y="150.5" width="0.6" height="0.6" fill="#7078c0" opacity="0.24"/>
<rect x="464.1" y="152.9" width="0.6" height="0.6" fill="#7078c0" opacity="0.38"/>
<rect x="471.6" y="152.7" width="0.6" height="0.6" fill="#7078c0" opacity="0.39"/>
<rect x="470.2" y="153.7" width="0.6" height="0.6" fill="#7078c0" opacity="0.35"/>
<rect x="469.8" y="151.7" width="0.6" height="0.6" fill="#7078c0" opacity="0.17"/>
<rect x="464.1" y="150.8" width="0.6" height="0.6" fill="#7078c0" opacity="0.16"/>
<rect x="475.4" y="149.4" width="0.6" height="0.6" fill="#7078c0" opacity="0.44"/>
<rect x="472.8" y="151.8" width="0.6" height="0.6" fill="#7078c0" opacity="0.22"/>
<rect x="463.5" y="155.1" width="0.6" height="0.6" fill="#7078c0" opacity="0.37"/>
<rect x="466.9" y="154.5" width="0.6" height="0.6" fill="#7078c0" opacity="0.26"/>
<rect x="461.8" y="149.2" width="0.6" height="0.6" fill="#7078c0" opacity="0.42"/>
<rect x="473.6" y="152.6" width="0.6" height="0.6" fill="#7078c0" opacity="0.41"/>
<rect x="465.9" y="150.8" width="0.6" height="0.6" fill="#7078c0" opacity="0.44"/>
<rect x="459.4" y="153.1" width="0.6" height="0.6" fill="#7078c0" opacity="0.20"/>
<rect x="462.1" y="155.8" width="0.6" height="0.6" fill="#7078c0" opacity="0.25"/>
<rect x="473.6" y="150.5" width="0.6" height="0.6" fill="#7078c0" opacity="0.42"/>
<rect x="465.6" y="153.5" width="0.6" height="0.6" fill="#7078c0" opacity="0.26"/>
<rect x="457.3" y="155.5" width="0.6" height="0.6" fill="#7078c0" opacity="0.42"/>
<rect x="465.9" y="150.1" width="0.6" height="0.6" fill="#7078c0" opacity="0.23"/>
<rect x="452.5" y="153.9" width="0.6" height="0.6" fill="#7078c0" opacity="0.27"/>
<rect x="464.5" y="154.2" width="0.6" height="0.6" fill="#7078c0" opacity="0.38"/>
<rect x="463.4" y="152.4" width="0.6" height="0.6" fill="#7078c0" opacity="0.35"/>
<rect x="469.6" y="152.5" width="0.6" height="0.6" fill="#7078c0" opacity="0.35"/>
<rect x="469.3" y="152.7" width="0.6" height="0.6" fill="#7078c0" opacity="0.24"/>
<rect x="459.9" y="155.0" width="0.6" height="0.6" fill="#7078c0" opacity="0.22"/>
<rect x="468.9" y="148.8" width="0.6" height="0.6" fill="#7078c0" opacity="0.32"/>
<rect x="463.2" y="154.0" width="0.6" height="0.6" fill="#7078c0" opacity="0.34"/>
<rect x="469.2" y="152.7" width="0.6" height="0.6" fill="#7078c0" opacity="0.30"/>
<rect x="457.4" y="152.7" width="0.6" height="0.6" fill="#7078c0" opacity="0.27"/>
<rect x="464.2" y="154.0" width="0.6" height="0.6" fill="#7078c0" opacity="0.42"/>
<rect x="457.1" y="153.8" width="0.6" height="0.6" fill="#7078c0" opacity="0.41"/>
<rect x="461.1" y="152.2" width="0.6" height="0.6" fill="#7078c0" opacity="0.33"/>
<rect x="464.5" y="155.8" width="0.6" height="0.6" fill="#7078c0" opacity="0.39"/>
<rect x="461.8" y="153.1" width="0.6" height="0.6" fill="#7078c0" opacity="0.38"/>
<rect x="466.7" y="153.0" width="0.6" height="0.6" fill="#7078c0" opacity="0.26"/>
<rect x="460.7" y="152.2" width="0.6" height="0.6" fill="#7078c0" opacity="0.34"/>
<rect x="472.4" y="153.7" width="0.6" height="0.6" fill="#7078c0" opacity="0.27"/>
<rect x="472.7" y="150.2" width="0.6" height="0.6" fill="#7078c0" opacity="0.18"/>
<rect x="461.6" y="152.3" width="0.6" height="0.6" fill="#7078c0" opacity="0.45"/>
<rect x="456.2" y="150.1" width="0.6" height="0.6" fill="#7078c0" opacity="0.29"/>
<rect x="460.3" y="153.2" width="0.6" height="0.6" fill="#7078c0" opacity="0.18"/>
<rect x="464.3" y="152.3" width="0.6" height="0.6" fill="#7078c0" opacity="0.28"/>
<rect x="467.3" y="151.5" width="0.6" height="0.6" fill="#7078c0" opacity="0.30"/>
<rect x="475.7" y="155.3" width="0.6" height="0.6" fill="#7078c0" opacity="0.20"/>
<rect x="467.4" y="150.4" width="0.6" height="0.6" fill="#7078c0" opacity="0.41"/>
<rect x="460.2" y="152.4" width="0.6" height="0.6" fill="#7078c0" opacity="0.41"/>
<rect x="464.0" y="150.9" width="0.6" height="0.6" fill="#7078c0" opacity="0.32"/>
<rect x="462.2" y="154.7" width="0.6" height="0.6" fill="#7078c0" opacity="0.18"/>
<rect x="475.3" y="151.6" width="0.6" height="0.6" fill="#7078c0" opacity="0.35"/>
<rect x="467.8" y="153.0" width="0.6" height="0.6" fill="#7078c0" opacity="0.25"/>
<rect x="463.3" y="153.3" width="0.6" height="0.6" fill="#7078c0" opacity="0.28"/>
<rect x="475.3" y="150.8" width="0.6" height="0.6" fill="#7078c0" opacity="0.26"/>
<rect x="465.0" y="153.8" width="0.6" height="0.6" fill="#7078c0" opacity="0.35"/>
<rect x="466.0" y="154.8" width="0.6" height="0.6" fill="#7078c0" opacity="0.27"/>
<rect x="460.8" y="152.8" width="0.6" height="0.6" fill="#7078c0" opacity="0.40"/>
<rect x="464.4" y="150.2" width="0.6" height="0.6" fill="#7078c0" opacity="0.37"/>
<rect x="453.1" y="153.3" width="0.6" height="0.6" fill="#7078c0" opacity="0.35"/>
<rect x="470.6" y="157.3" width="0.6" height="0.6" fill="#7078c0" opacity="0.30"/>
<rect x="466.6" y="152.7" width="0.6" height="0.6" fill="#7078c0" opacity="0.34"/>
<rect x="470.9" y="153.5" width="0.6" height="0.6" fill="#7078c0" opacity="0.23"/>
<rect x="470.0" y="154.1" width="0.6" height="0.6" fill="#7078c0" opacity="0.20"/>
<rect x="467.3" y="154.4" width="0.6" height="0.6" fill="#7078c0" opacity="0.24"/>
<rect x="468.2" y="153.8" width="0.6" height="0.6" fill="#7078c0" opacity="0.33"/>
<rect x="457.8" y="154.0" width="0.6" height="0.6" fill="#7078c0" opacity="0.24"/>
<rect x="470.6" y="149.6" width="0.6" height="0.6" fill="#7078c0" opacity="0.38"/>
<rect x="468.6" y="151.5" width="0.6" height="0.6" fill="#7078c0" opacity="0.22"/>
<rect x="465.9" y="153.5" width="0.6" height="0.6" fill="#7078c0" opacity="0.38"/>
<rect x="464.2" y="150.0" width="0.6" height="0.6" fill="#7078c0" opacity="0.28"/>
<rect x="475.5" y="153.6" width="0.6" height="0.6" fill="#7078c0" opacity="0.18"/>
<rect x="469.4" y="149.7" width="0.6" height="0.6" fill="#7078c0" opacity="0.16"/>
<rect x="475.0" y="155.5" width="0.6" height="0.6" fill="#7078c0" opacity="0.23"/>
<rect x="473.5" y="151.7" width="0.6" height="0.6" fill="#7078c0" opacity="0.20"/>
<rect x="473.2" y="151.9" width="0.6" height="0.6" fill="#7078c0" opacity="0.42"/>
<rect x="465.9" y="152.3" width="0.6" height="0.6" fill="#7078c0" opacity="0.40"/>
<rect x="470.8" y="148.4" width="0.6" height="0.6" fill="#7078c0" opacity="0.21"/>
<rect x="474.4" y="151.5" width="0.6" height="0.6" fill="#7078c0" opacity="0.25"/>
<rect x="452.9" y="151.9" width="0.6" height="0.6" fill="#7078c0" opacity="0.17"/>
<rect x="469.6" y="152.9" width="0.6" height="0.6" fill="#7078c0" opacity="0.19"/>
<rect x="458.6" y="151.9" width="0.6" height="0.6" fill="#7078c0" opacity="0.43"/>
<rect x="474.5" y="153.9" width="0.6" height="0.6" fill="#7078c0" opacity="0.41"/>
<rect x="475.8" y="149.0" width="0.6" height="0.6" fill="#7078c0" opacity="0.23"/>
<rect x="474.8" y="153.6" width="0.6" height="0.6" fill="#7078c0" opacity="0.39"/>
<rect x="471.6" y="152.4" width="0.6" height="0.6" fill="#7078c0" opacity="0.43"/>
<rect x="468.2" y="153.2" width="0.6" height="0.6" fill="#7078c0" opacity="0.33"/>
<rect x="473.8" y="154.2" width="0.6" height="0.6" fill="#7078c0" opacity="0.29"/>
<rect x="472.5" y="154.7" width="0.6" height="0.6" fill="#7078c0" opacity="0.29"/>
<rect x="459.8" y="153.9" width="0.6" height="0.6" fill="#7078c0" opacity="0.37"/>
<rect x="473.3" y="151.9" width="0.6" height="0.6" fill="#7078c0" opacity="0.22"/>
<rect x="470.9" y="151.2" width="0.6" height="0.6" fill="#7078c0" opacity="0.22"/>
<rect x="475.3" y="153.2" width="0.6" height="0.6" fill="#7078c0" opacity="0.26"/>
<rect x="467.4" y="151.8" width="0.6" height="0.6" fill="#7078c0" opacity="0.38"/>
<rect x="471.8" y="152.3" width="0.6" height="0.6" fill="#7078c0" opacity="0.41"/>
<rect x="464.0" y="152.8" width="0.6" height="0.6" fill="#7078c0" opacity="0.37"/>
<rect x="470.2" y="154.1" width="0.6" height="0.6" fill="#7078c0" opacity="0.27"/>
<rect x="467.7" y="154.8" width="0.6" height="0.6" fill="#7078c0" opacity="0.29"/>
<rect x="467.3" y="156.0" width="0.6" height="0.6" fill="#7078c0" opacity="0.39"/>
<rect x="459.8" y="152.0" width="0.6" height="0.6" fill="#7078c0" opacity="0.39"/>
<rect x="456.3" y="150.5" width="0.6" height="0.6" fill="#7078c0" opacity="0.23"/>
<rect x="469.8" y="150.4" width="0.6" height="0.6" fill="#7078c0" opacity="0.32"/>
<rect x="460.4" y="152.5" width="0.6" height="0.6" fill="#7078c0" opacity="0.28"/>
<rect x="450.6" y="152.8" width="0.6" height="0.6" fill="#7078c0" opacity="0.40"/>
<rect x="468.2" y="150.8" width="0.6" height="0.6" fill="#7078c0" opacity="0.33"/>
<rect x="469.6" y="154.7" width="0.6" height="0.6" fill="#7078c0" opacity="0.24"/>
<rect x="473.8" y="154.8" width="0.6" height="0.6" fill="#7078c0" opacity="0.39"/>
<rect x="470.6" y="153.2" width="0.6" height="0.6" fill="#7078c0" opacity="0.35"/>
<rect x="475.3" y="150.3" width="0.6" height="0.6" fill="#7078c0" opacity="0.21"/>
<rect x="456.6" y="150.3" width="0.6" height="0.6" fill="#7078c0" opacity="0.19"/>
<rect x="460.5" y="153.6" width="0.6" height="0.6" fill="#7078c0" opacity="0.41"/>
<rect x="464.7" y="153.1" width="0.6" height="0.6" fill="#7078c0" opacity="0.32"/>
<rect x="459.6" y="153.3" width="0.6" height="0.6" fill="#7078c0" opacity="0.29"/>
<rect x="467.9" y="150.1" width="0.6" height="0.6" fill="#7078c0" opacity="0.40"/>
<rect x="452.2" y="153.2" width="0.6" height="0.6" fill="#7078c0" opacity="0.43"/>
<rect x="459.9" y="155.6" width="0.6" height="0.6" fill="#7078c0" opacity="0.32"/>
<rect x="467.9" y="153.1" width="0.6" height="0.6" fill="#7078c0" opacity="0.22"/>
<rect x="472.4" y="151.2" width="0.6" height="0.6" fill="#7078c0" opacity="0.22"/>
<rect x="468.6" y="155.3" width="0.6" height="0.6" fill="#7078c0" opacity="0.34"/>
<rect x="464.4" y="151.6" width="0.6" height="0.6" fill="#7078c0" opacity="0.34"/>
<rect x="470.8" y="152.4" width="0.6" height="0.6" fill="#7078c0" opacity="0.20"/>
<rect x="468.2" y="152.2" width="0.6" height="0.6" fill="#7078c0" opacity="0.40"/>
<rect x="473.9" y="151.4" width="0.6" height="0.6" fill="#7078c0" opacity="0.17"/>
<rect x="461.3" y="153.6" width="0.6" height="0.6" fill="#7078c0" opacity="0.18"/>
<rect x="466.9" y="153.1" width="0.6" height="0.6" fill="#7078c0" opacity="0.23"/>
<rect x="462.6" y="150.4" width="0.6" height="0.6" fill="#7078c0" opacity="0.39"/>
<rect x="471.4" y="152.8" width="0.6" height="0.6" fill="#7078c0" opacity="0.18"/>
<rect x="460.6" y="154.1" width="0.6" height="0.6" fill="#7078c0" opacity="0.18"/>
<rect x="470.9" y="152.4" width="0.6" height="0.6" fill="#7078c0" opacity="0.38"/>
<rect x="475.9" y="152.4" width="0.6" height="0.6" fill="#7078c0" opacity="0.38"/>
<rect x="465.3" y="152.8" width="0.6" height="0.6" fill="#7078c0" opacity="0.43"/>
<rect x="464.8" y="152.0" width="0.6" height="0.6" fill="#7078c0" opacity="0.43"/>
<rect x="467.4" y="153.0" width="0.6" height="0.6" fill="#7078c0" opacity="0.28"/>
</g>
<g filter="url(#bl1)">
<ellipse cx="441.3" cy="135.5" rx="5.2" ry="7.8" fill="#9096cc" opacity="0.3"/>
<ellipse cx="467" cy="152.5" rx="7" ry="2.5" fill="#a0a4d4" opacity="0.3"/>
</g>
<g filter="url(#bl1)">
<rect x="435.5" y="146.5" width="12.4" height="9.6" rx="2.4" fill="#28449e"/>
</g>
<g filter="url(#bl2)">
<rect x="436.6" y="147.6" width="10.2" height="7.6" rx="2.6" fill="#2eaec0"/>
<ellipse cx="442.2" cy="151.4" rx="4.2" ry="3.1" fill="#5cba4c"/>
<ellipse cx="442.6" cy="151.4" rx="2.2" ry="1.7" fill="#d4d02c"/>
</g>
<path d="M449.4,116.7 V156.3" stroke="#555" stroke-width="0.9"/>
<path d="M435.2,144.9 H477.3" stroke="#a8a8a8" stroke-width="1.4"/>
<rect x="434.8" y="116.7" width="42.19999999999999" height="39.60000000000001" fill="none" stroke="#111" stroke-width="1.3"/>
<path d="M432.0,156.30 H434.8" stroke="#111" stroke-width="1.1"/>
<path d="M434.80,156.3 V159.3" stroke="#111" stroke-width="1.1"/>
<text x="428.2" y="160.20" font-size="5.8" text-anchor="end" fill="#222">10</text><text x="428.40000000000003" y="157.70" font-size="3.2" fill="#222">0</text>
<text x="431.40" y="167.8" font-size="5.8" fill="#222">10</text><text x="438.00" y="165.3" font-size="3.2" fill="#222">0</text>
<path d="M432.0,146.40 H434.8" stroke="#111" stroke-width="1.1"/>
<path d="M445.35,156.3 V159.3" stroke="#111" stroke-width="1.1"/>
<text x="428.2" y="150.30" font-size="5.8" text-anchor="end" fill="#222">10</text><text x="428.40000000000003" y="147.80" font-size="3.2" fill="#222">1</text>
<text x="441.95" y="167.8" font-size="5.8" fill="#222">10</text><text x="448.55" y="165.3" font-size="3.2" fill="#222">1</text>
<path d="M432.0,136.50 H434.8" stroke="#111" stroke-width="1.1"/>
<path d="M455.90,156.3 V159.3" stroke="#111" stroke-width="1.1"/>
<text x="428.2" y="140.40" font-size="5.8" text-anchor="end" fill="#222">10</text><text x="428.40000000000003" y="137.90" font-size="3.2" fill="#222">2</text>
<text x="452.50" y="167.8" font-size="5.8" fill="#222">10</text><text x="459.10" y="165.3" font-size="3.2" fill="#222">2</text>
<path d="M432.0,126.60 H434.8" stroke="#111" stroke-width="1.1"/>
<path d="M466.45,156.3 V159.3" stroke="#111" stroke-width="1.1"/>
<text x="428.2" y="130.50" font-size="5.8" text-anchor="end" fill="#222">10</text><text x="428.40000000000003" y="128.00" font-size="3.2" fill="#222">3</text>
<text x="463.05" y="167.8" font-size="5.8" fill="#222">10</text><text x="469.65" y="165.3" font-size="3.2" fill="#222">3</text>
<path d="M432.0,116.70 H434.8" stroke="#111" stroke-width="1.1"/>
<path d="M477.00,156.3 V159.3" stroke="#111" stroke-width="1.1"/>
<text x="428.2" y="120.60" font-size="5.8" text-anchor="end" fill="#222">10</text><text x="428.40000000000003" y="118.10" font-size="3.2" fill="#222">4</text>
<text x="473.60" y="167.8" font-size="5.8" fill="#222">10</text><text x="480.20" y="165.3" font-size="3.2" fill="#222">4</text>
<text x="436.2" y="112.0" font-size="8.5" textLength="39.4" lengthAdjust="spacingAndGlyphs" fill="#111" >Total RBCs</text>
<text x="456.0" y="179.4" font-size="7.6" textLength="26.3" lengthAdjust="spacingAndGlyphs" text-anchor="middle" fill="#111" stroke="#111" stroke-width="0.18">DiO (KEL-)</text>
<text x="0" y="0" font-size="7.3" text-anchor="middle" textLength="25.5" lengthAdjust="spacingAndGlyphs" stroke="#111" stroke-width="0.18" fill="#111" transform="translate(414.0,137.4) rotate(-90)">DiI (KEL+)</text>
<path d="M448.7,134.8 H461.8" stroke="#222" stroke-width="1.0"/>
<path d="M445.7,134.8 L449.9,132.9 L449.9,136.70000000000002 Z" fill="#111"/>
<path d="M473.7,152.1 H486.9" stroke="#222" stroke-width="1.0"/>
<path d="M470.7,152.1 L474.9,150.2 L474.9,154.0 Z" fill="#111"/>
<text x="465.6" y="136.7" font-size="4.6" textLength="24.7" lengthAdjust="spacingAndGlyphs" fill="#111" >KEL+ RBCs</text>
<text x="487.5" y="153.6" font-size="4.6" textLength="23.0" lengthAdjust="spacingAndGlyphs" fill="#111" >KEL- RBCs</text>
<path d="M51.00,217.00 L54.62,217.00 L58.25,217.00 L65.50,217.00 L72.75,217.00 L138.00,217.00" fill="none" stroke="#f4b868" stroke-width="1.6"/>
<rect x="49.95" y="215.95" width="2.1" height="2.1" fill="#ee9a30"/>
<path d="M54.62,215.40 V218.60 M53.12,215.40 h3.0 M53.12,218.60 h3.0" stroke="#ee9a30" stroke-width="0.8"/>
<rect x="53.58" y="215.95" width="2.1" height="2.1" fill="#ee9a30"/>
<rect x="57.20" y="215.95" width="2.1" height="2.1" fill="#ee9a30"/>
<path d="M65.50,215.40 V218.60 M64.00,215.40 h3.0 M64.00,218.60 h3.0" stroke="#ee9a30" stroke-width="0.8"/>
<rect x="64.45" y="215.95" width="2.1" height="2.1" fill="#ee9a30"/>
<path d="M72.75,215.40 V218.60 M71.25,215.40 h3.0 M71.25,218.60 h3.0" stroke="#ee9a30" stroke-width="0.8"/>
<rect x="71.70" y="215.95" width="2.1" height="2.1" fill="#ee9a30"/>
<path d="M138.00,214.80 V219.20 M136.50,214.80 h3.0 M136.50,219.20 h3.0" stroke="#ee9a30" stroke-width="0.8"/>
<rect x="136.95" y="215.95" width="2.1" height="2.1" fill="#ee9a30"/>
<path d="M51.00,216.00 L54.62,220.99 L58.25,218.50 L65.50,220.99 L72.75,224.98 L138.00,220.99" fill="none" stroke="#7cc060" stroke-width="1.0"/>
<rect x="49.95" y="214.95" width="2.1" height="2.1" fill="#58ae3c"/>
<rect x="53.58" y="219.94" width="2.1" height="2.1" fill="#58ae3c"/>
<rect x="57.20" y="217.45" width="2.1" height="2.1" fill="#58ae3c"/>
<rect x="64.45" y="219.94" width="2.1" height="2.1" fill="#58ae3c"/>
<rect x="71.70" y="223.93" width="2.1" height="2.1" fill="#58ae3c"/>
<path d="M138.00,219.20 V222.79 M136.50,219.20 h3.0 M136.50,222.79 h3.0" stroke="#58ae3c" stroke-width="0.8"/>
<rect x="136.95" y="219.94" width="2.1" height="2.1" fill="#58ae3c"/>
<path d="M51.00,221.99 L54.62,226.98 L58.25,223.99 L65.50,226.98 L72.75,231.97 L138.00,227.98" fill="none" stroke="#c83a58" stroke-width="1.0"/>
<rect x="49.95" y="220.94" width="2.1" height="2.1" fill="#b81c3c"/>
<path d="M54.62,225.18 V228.78 M53.12,225.18 h3.0 M53.12,228.78 h3.0" stroke="#b81c3c" stroke-width="0.8"/>
<rect x="53.58" y="225.93" width="2.1" height="2.1" fill="#b81c3c"/>
<path d="M58.25,222.49 V225.48 M56.75,222.49 h3.0 M56.75,225.48 h3.0" stroke="#b81c3c" stroke-width="0.8"/>
<rect x="57.20" y="222.94" width="2.1" height="2.1" fill="#b81c3c"/>
<rect x="64.45" y="225.93" width="2.1" height="2.1" fill="#b81c3c"/>
<path d="M72.75,230.77 V233.17 M71.25,230.77 h3.0 M71.25,233.17 h3.0" stroke="#b81c3c" stroke-width="0.8"/>
<rect x="71.70" y="230.92" width="2.1" height="2.1" fill="#b81c3c"/>
<path d="M138.00,225.98 V229.97 M136.50,225.98 h3.0 M136.50,229.97 h3.0" stroke="#b81c3c" stroke-width="0.8"/>
<rect x="136.95" y="226.93" width="2.1" height="2.1" fill="#b81c3c"/>
<path d="M51.00,219.50 L54.62,223.99 L58.25,224.98 L65.50,226.98 L72.75,232.97 L138.00,227.98" fill="none" stroke="#3a5ca0" stroke-width="1.0"/>
<rect x="49.95" y="218.44" width="2.1" height="2.1" fill="#25468f"/>
<path d="M54.62,222.79 V225.18 M53.12,222.79 h3.0 M53.12,225.18 h3.0" stroke="#25468f" stroke-width="0.8"/>
<rect x="53.58" y="222.94" width="2.1" height="2.1" fill="#25468f"/>
<path d="M58.25,223.79 V226.18 M56.75,223.79 h3.0 M56.75,226.18 h3.0" stroke="#25468f" stroke-width="0.8"/>
<rect x="57.20" y="223.93" width="2.1" height="2.1" fill="#25468f"/>
<path d="M65.50,225.48 V228.48 M64.00,225.48 h3.0 M64.00,228.48 h3.0" stroke="#25468f" stroke-width="0.8"/>
<rect x="64.45" y="225.93" width="2.1" height="2.1" fill="#25468f"/>
<path d="M72.75,231.97 V233.97 M71.25,231.97 h3.0 M71.25,233.97 h3.0" stroke="#25468f" stroke-width="0.8"/>
<rect x="71.70" y="231.92" width="2.1" height="2.1" fill="#25468f"/>
<path d="M138.00,225.98 V229.97 M136.50,225.98 h3.0 M136.50,229.97 h3.0" stroke="#25468f" stroke-width="0.8"/>
<rect x="136.95" y="226.93" width="2.1" height="2.1" fill="#25468f"/>
<path d="M51.0,204.0 V266.9 H144.2" fill="none" stroke="#1a1a1a" stroke-width="1.7"/>
<path d="M47.8,256.92 H51.0" stroke="#1a1a1a" stroke-width="1.1"/>
<text x="43.8" y="258.72" font-size="5.2" text-anchor="end" fill="#111" stroke="#111" stroke-width="0.1">60</text>
<path d="M47.8,236.96 H51.0" stroke="#1a1a1a" stroke-width="1.1"/>
<text x="43.8" y="238.76000000000002" font-size="5.2" text-anchor="end" fill="#111" stroke="#111" stroke-width="0.1">80</text>
<path d="M47.8,217.00 H51.0" stroke="#1a1a1a" stroke-width="1.1"/>
<text x="43.8" y="218.8" font-size="5.2" text-anchor="end" fill="#111" stroke="#111" stroke-width="0.1">100</text>
<path d="M49.2,246.94 H51.0" stroke="#1a1a1a" stroke-width="1.0"/>
<path d="M49.2,226.98 H51.0" stroke="#1a1a1a" stroke-width="1.0"/>
<path d="M49.2,207.02 H51.0" stroke="#1a1a1a" stroke-width="1.0"/>
<path d="M51.00,266.9 V269.9" stroke="#1a1a1a" stroke-width="1.1"/>
<text x="51.0" y="278.5" font-size="5.1" text-anchor="middle" fill="#111" stroke="#111" stroke-width="0.1">0</text>
<path d="M69.12,266.9 V269.9" stroke="#1a1a1a" stroke-width="1.1"/>
<text x="69.125" y="278.5" font-size="5.1" text-anchor="middle" fill="#111" stroke="#111" stroke-width="0.1">5</text>
<path d="M87.25,266.9 V269.9" stroke="#1a1a1a" stroke-width="1.1"/>
<text x="87.25" y="278.5" font-size="5.1" text-anchor="middle" fill="#111" stroke="#111" stroke-width="0.1">10</text>
<path d="M105.38,266.9 V269.9" stroke="#1a1a1a" stroke-width="1.1"/>
<text x="105.375" y="278.5" font-size="5.1" text-anchor="middle" fill="#111" stroke="#111" stroke-width="0.1">15</text>
<path d="M123.50,266.9 V269.9" stroke="#1a1a1a" stroke-width="1.1"/>
<text x="123.5" y="278.5" font-size="5.1" text-anchor="middle" fill="#111" stroke="#111" stroke-width="0.1">20</text>
<path d="M141.62,266.9 V269.9" stroke="#1a1a1a" stroke-width="1.1"/>
<text x="141.625" y="278.5" font-size="5.1" text-anchor="middle" fill="#111" stroke="#111" stroke-width="0.1">25</text>
<text x="97.6" y="289.29999999999995" font-size="7.4" textLength="31.3" lengthAdjust="spacingAndGlyphs" text-anchor="middle" fill="#111" stroke="#111" stroke-width="0.22">Time (hours)</text>
<text x="0" y="0" font-size="7.0" text-anchor="middle" textLength="24.5" lengthAdjust="spacingAndGlyphs" stroke="#111" stroke-width="0.2" fill="#111" transform="translate(28.5,236.8) rotate(-90)">% survival</text>
<text x="74.4" y="197.8" font-size="7.6" fill="#111" stroke="#111" stroke-width="0.12" textLength="46.3" lengthAdjust="spacingAndGlyphs">KEL<tspan font-size="4.6" dy="-3">lo</tspan><tspan dy="3"> Viability</tspan></text>
<path d="M144.0,223.00 h5.6" stroke="#f4b868" stroke-width="1.4"/>
<path d="M146.8,221.40 l1.6,1.6 l-1.6,1.6 l-1.6,-1.6 Z" fill="#ee9a30"/>
<text x="152.10000000000002" y="224.60" font-size="4.6" fill="#444">PBS</text>
<path d="M144.0,231.45 h5.6" stroke="#7cc060" stroke-width="1.4"/>
<path d="M146.8,229.85 l1.6,1.6 l-1.6,1.6 l-1.6,-1.6 Z" fill="#58ae3c"/>
<text x="152.10000000000002" y="233.05" font-size="4.6" fill="#444">Low αKEL</text>
<path d="M144.0,239.90 h5.6" stroke="#3a5ca0" stroke-width="1.4"/>
<path d="M146.8,238.30 l1.6,1.6 l-1.6,1.6 l-1.6,-1.6 Z" fill="#25468f"/>
<text x="152.10000000000002" y="241.50" font-size="4.6" fill="#444">Med αKEL</text>
<path d="M144.0,248.35 h5.6" stroke="#c83a58" stroke-width="1.4"/>
<path d="M146.8,246.75 l1.6,1.6 l-1.6,1.6 l-1.6,-1.6 Z" fill="#b81c3c"/>
<text x="152.10000000000002" y="249.95" font-size="4.6" fill="#444">Hi αKEL</text>
<path d="M212.50,217.00 L216.12,217.00 L219.75,217.00 L227.00,217.00 L234.25,217.00 L299.50,217.00" fill="none" stroke="#f4b868" stroke-width="1.6"/>
<rect x="211.45" y="215.95" width="2.1" height="2.1" fill="#ee9a30"/>
<path d="M216.12,214.80 V219.20 M214.62,214.80 h3.0 M214.62,219.20 h3.0" stroke="#ee9a30" stroke-width="0.8"/>
<rect x="215.07" y="215.95" width="2.1" height="2.1" fill="#ee9a30"/>
<rect x="218.70" y="215.95" width="2.1" height="2.1" fill="#ee9a30"/>
<path d="M227.00,214.50 V219.50 M225.50,214.50 h3.0 M225.50,219.50 h3.0" stroke="#ee9a30" stroke-width="0.8"/>
<rect x="225.95" y="215.95" width="2.1" height="2.1" fill="#ee9a30"/>
<rect x="233.20" y="215.95" width="2.1" height="2.1" fill="#ee9a30"/>
<path d="M299.50,215.80 V218.20 M298.00,215.80 h3.0 M298.00,218.20 h3.0" stroke="#ee9a30" stroke-width="0.8"/>
<rect x="298.45" y="215.95" width="2.1" height="2.1" fill="#ee9a30"/>
<path d="M212.50,219.00 L216.12,223.99 L219.75,224.98 L227.00,224.98 L234.25,225.98 L299.50,225.98" fill="none" stroke="#7cc060" stroke-width="1.0"/>
<rect x="211.45" y="217.95" width="2.1" height="2.1" fill="#58ae3c"/>
<path d="M216.12,222.49 V225.48 M214.62,222.49 h3.0 M214.62,225.48 h3.0" stroke="#58ae3c" stroke-width="0.8"/>
<rect x="215.07" y="222.94" width="2.1" height="2.1" fill="#58ae3c"/>
<path d="M219.75,223.79 V226.18 M218.25,223.79 h3.0 M218.25,226.18 h3.0" stroke="#58ae3c" stroke-width="0.8"/>
<rect x="218.70" y="223.93" width="2.1" height="2.1" fill="#58ae3c"/>
<path d="M227.00,223.79 V226.18 M225.50,223.79 h3.0 M225.50,226.18 h3.0" stroke="#58ae3c" stroke-width="0.8"/>
<rect x="225.95" y="223.93" width="2.1" height="2.1" fill="#58ae3c"/>
<path d="M234.25,224.78 V227.18 M232.75,224.78 h3.0 M232.75,227.18 h3.0" stroke="#58ae3c" stroke-width="0.8"/>
<rect x="233.20" y="224.93" width="2.1" height="2.1" fill="#58ae3c"/>
<path d="M299.50,223.99 V227.98 M298.00,223.99 h3.0 M298.00,227.98 h3.0" stroke="#58ae3c" stroke-width="0.8"/>
<rect x="298.45" y="224.93" width="2.1" height="2.1" fill="#58ae3c"/>
<path d="M212.50,226.48 L216.12,233.97 L219.75,239.45 L227.00,242.95 L234.25,243.45 L299.50,240.95" fill="none" stroke="#c83a58" stroke-width="1.0"/>
<rect x="211.45" y="225.43" width="2.1" height="2.1" fill="#b81c3c"/>
<path d="M216.12,232.47 V235.46 M214.62,232.47 h3.0 M214.62,235.46 h3.0" stroke="#b81c3c" stroke-width="0.8"/>
<rect x="215.07" y="232.92" width="2.1" height="2.1" fill="#b81c3c"/>
<path d="M219.75,237.96 V240.95 M218.25,237.96 h3.0 M218.25,240.95 h3.0" stroke="#b81c3c" stroke-width="0.8"/>
<rect x="218.70" y="238.40" width="2.1" height="2.1" fill="#b81c3c"/>
<path d="M227.00,241.45 V244.44 M225.50,241.45 h3.0 M225.50,244.44 h3.0" stroke="#b81c3c" stroke-width="0.8"/>
<rect x="225.95" y="241.90" width="2.1" height="2.1" fill="#b81c3c"/>
<path d="M234.25,241.45 V245.44 M232.75,241.45 h3.0 M232.75,245.44 h3.0" stroke="#b81c3c" stroke-width="0.8"/>
<rect x="233.20" y="242.40" width="2.1" height="2.1" fill="#b81c3c"/>
<path d="M299.50,238.96 V242.95 M298.00,238.96 h3.0 M298.00,242.95 h3.0" stroke="#b81c3c" stroke-width="0.8"/>
<rect x="298.45" y="239.90" width="2.1" height="2.1" fill="#b81c3c"/>
<path d="M212.50,221.99 L216.12,232.97 L219.75,238.46 L227.00,242.45 L234.25,242.45 L299.50,248.94" fill="none" stroke="#3a5ca0" stroke-width="1.0"/>
<rect x="211.45" y="220.94" width="2.1" height="2.1" fill="#25468f"/>
<path d="M216.12,231.47 V234.47 M214.62,231.47 h3.0 M214.62,234.47 h3.0" stroke="#25468f" stroke-width="0.8"/>
<rect x="215.07" y="231.92" width="2.1" height="2.1" fill="#25468f"/>
<path d="M219.75,236.46 V240.45 M218.25,236.46 h3.0 M218.25,240.45 h3.0" stroke="#25468f" stroke-width="0.8"/>
<rect x="218.70" y="237.41" width="2.1" height="2.1" fill="#25468f"/>
<path d="M227.00,240.45 V244.44 M225.50,240.45 h3.0 M225.50,244.44 h3.0" stroke="#25468f" stroke-width="0.8"/>
<rect x="225.95" y="241.40" width="2.1" height="2.1" fill="#25468f"/>
<path d="M234.25,239.95 V244.94 M232.75,239.95 h3.0 M232.75,244.94 h3.0" stroke="#25468f" stroke-width="0.8"/>
<rect x="233.20" y="241.40" width="2.1" height="2.1" fill="#25468f"/>
<path d="M299.50,247.44 V250.43 M298.00,247.44 h3.0 M298.00,250.43 h3.0" stroke="#25468f" stroke-width="0.8"/>
<rect x="298.45" y="247.89" width="2.1" height="2.1" fill="#25468f"/>
<path d="M212.5,204.0 V266.9 H305.7" fill="none" stroke="#1a1a1a" stroke-width="1.7"/>
<path d="M209.3,256.92 H212.5" stroke="#1a1a1a" stroke-width="1.1"/>
<text x="205.3" y="258.72" font-size="5.2" text-anchor="end" fill="#111" stroke="#111" stroke-width="0.1">60</text>
<path d="M209.3,236.96 H212.5" stroke="#1a1a1a" stroke-width="1.1"/>
<text x="205.3" y="238.76000000000002" font-size="5.2" text-anchor="end" fill="#111" stroke="#111" stroke-width="0.1">80</text>
<path d="M209.3,217.00 H212.5" stroke="#1a1a1a" stroke-width="1.1"/>
<text x="205.3" y="218.8" font-size="5.2" text-anchor="end" fill="#111" stroke="#111" stroke-width="0.1">100</text>
<path d="M210.7,246.94 H212.5" stroke="#1a1a1a" stroke-width="1.0"/>
<path d="M210.7,226.98 H212.5" stroke="#1a1a1a" stroke-width="1.0"/>
<path d="M210.7,207.02 H212.5" stroke="#1a1a1a" stroke-width="1.0"/>
<path d="M212.50,266.9 V269.9" stroke="#1a1a1a" stroke-width="1.1"/>
<text x="212.5" y="278.5" font-size="5.1" text-anchor="middle" fill="#111" stroke="#111" stroke-width="0.1">0</text>
<path d="M230.62,266.9 V269.9" stroke="#1a1a1a" stroke-width="1.1"/>
<text x="230.625" y="278.5" font-size="5.1" text-anchor="middle" fill="#111" stroke="#111" stroke-width="0.1">5</text>
<path d="M248.75,266.9 V269.9" stroke="#1a1a1a" stroke-width="1.1"/>
<text x="248.75" y="278.5" font-size="5.1" text-anchor="middle" fill="#111" stroke="#111" stroke-width="0.1">10</text>
<path d="M266.88,266.9 V269.9" stroke="#1a1a1a" stroke-width="1.1"/>
<text x="266.875" y="278.5" font-size="5.1" text-anchor="middle" fill="#111" stroke="#111" stroke-width="0.1">15</text>
<path d="M285.00,266.9 V269.9" stroke="#1a1a1a" stroke-width="1.1"/>
<text x="285.0" y="278.5" font-size="5.1" text-anchor="middle" fill="#111" stroke="#111" stroke-width="0.1">20</text>
<path d="M303.12,266.9 V269.9" stroke="#1a1a1a" stroke-width="1.1"/>
<text x="303.125" y="278.5" font-size="5.1" text-anchor="middle" fill="#111" stroke="#111" stroke-width="0.1">25</text>
<text x="259.0" y="289.29999999999995" font-size="7.4" textLength="31.3" lengthAdjust="spacingAndGlyphs" text-anchor="middle" fill="#111" stroke="#111" stroke-width="0.22">Time (hours)</text>
<text x="0" y="0" font-size="7.0" text-anchor="middle" textLength="24.5" lengthAdjust="spacingAndGlyphs" stroke="#111" stroke-width="0.2" fill="#111" transform="translate(190.0,236.8) rotate(-90)">% survival</text>
<text x="232.9" y="197.8" font-size="7.6" fill="#111" stroke="#111" stroke-width="0.12" textLength="52.4" lengthAdjust="spacingAndGlyphs">KEL<tspan font-size="4.6" dy="-3">med</tspan><tspan dy="3"> Viability</tspan></text>
<path d="M304.09999999999997,223.00 h5.6" stroke="#f4b868" stroke-width="1.4"/>
<path d="M306.9,221.40 l1.6,1.6 l-1.6,1.6 l-1.6,-1.6 Z" fill="#ee9a30"/>
<text x="312.2" y="224.60" font-size="4.6" fill="#444">PBS</text>
<path d="M304.09999999999997,231.45 h5.6" stroke="#7cc060" stroke-width="1.4"/>
<path d="M306.9,229.85 l1.6,1.6 l-1.6,1.6 l-1.6,-1.6 Z" fill="#58ae3c"/>
<text x="312.2" y="233.05" font-size="4.6" fill="#444">Low αKEL</text>
<path d="M304.09999999999997,239.90 h5.6" stroke="#3a5ca0" stroke-width="1.4"/>
<path d="M306.9,238.30 l1.6,1.6 l-1.6,1.6 l-1.6,-1.6 Z" fill="#25468f"/>
<text x="312.2" y="241.50" font-size="4.6" fill="#444">Med αKEL</text>
<path d="M304.09999999999997,248.35 h5.6" stroke="#c83a58" stroke-width="1.4"/>
<path d="M306.9,246.75 l1.6,1.6 l-1.6,1.6 l-1.6,-1.6 Z" fill="#b81c3c"/>
<text x="312.2" y="249.95" font-size="4.6" fill="#444">Hi αKEL</text>
<path d="M373.50,217.00 L377.12,217.00 L380.75,217.00 L388.00,217.00 L395.25,217.00 L460.50,217.00" fill="none" stroke="#f4b868" stroke-width="1.6"/>
<rect x="372.45" y="215.95" width="2.1" height="2.1" fill="#ee9a30"/>
<path d="M377.12,216.00 V218.00 M375.62,216.00 h3.0 M375.62,218.00 h3.0" stroke="#ee9a30" stroke-width="0.8"/>
<rect x="376.07" y="215.95" width="2.1" height="2.1" fill="#ee9a30"/>
<path d="M380.75,216.00 V218.00 M379.25,216.00 h3.0 M379.25,218.00 h3.0" stroke="#ee9a30" stroke-width="0.8"/>
<rect x="379.70" y="215.95" width="2.1" height="2.1" fill="#ee9a30"/>
<path d="M388.00,215.00 V219.00 M386.50,215.00 h3.0 M386.50,219.00 h3.0" stroke="#ee9a30" stroke-width="0.8"/>
<rect x="386.95" y="215.95" width="2.1" height="2.1" fill="#ee9a30"/>
<path d="M395.25,214.50 V219.50 M393.75,214.50 h3.0 M393.75,219.50 h3.0" stroke="#ee9a30" stroke-width="0.8"/>
<rect x="394.20" y="215.95" width="2.1" height="2.1" fill="#ee9a30"/>
<rect x="459.45" y="215.95" width="2.1" height="2.1" fill="#ee9a30"/>
<path d="M373.50,220.99 L377.12,221.99 L380.75,226.98 L388.00,221.99 L395.25,223.99 L460.50,228.98" fill="none" stroke="#7cc060" stroke-width="1.0"/>
<path d="M373.50,219.00 V222.99 M372.00,219.00 h3.0 M372.00,222.99 h3.0" stroke="#58ae3c" stroke-width="0.8"/>
<rect x="372.45" y="219.94" width="2.1" height="2.1" fill="#58ae3c"/>
<path d="M377.12,220.49 V223.49 M375.62,220.49 h3.0 M375.62,223.49 h3.0" stroke="#58ae3c" stroke-width="0.8"/>
<rect x="376.07" y="220.94" width="2.1" height="2.1" fill="#58ae3c"/>
<path d="M380.75,224.49 V229.47 M379.25,224.49 h3.0 M379.25,229.47 h3.0" stroke="#58ae3c" stroke-width="0.8"/>
<rect x="379.70" y="225.93" width="2.1" height="2.1" fill="#58ae3c"/>
<path d="M388.00,219.50 V224.49 M386.50,219.50 h3.0 M386.50,224.49 h3.0" stroke="#58ae3c" stroke-width="0.8"/>
<rect x="386.95" y="220.94" width="2.1" height="2.1" fill="#58ae3c"/>
<path d="M395.25,222.49 V225.48 M393.75,222.49 h3.0 M393.75,225.48 h3.0" stroke="#58ae3c" stroke-width="0.8"/>
<rect x="394.20" y="222.94" width="2.1" height="2.1" fill="#58ae3c"/>
<path d="M460.50,227.48 V230.47 M459.00,227.48 h3.0 M459.00,230.47 h3.0" stroke="#58ae3c" stroke-width="0.8"/>
<rect x="459.45" y="227.93" width="2.1" height="2.1" fill="#58ae3c"/>
<path d="M373.50,230.97 L377.12,238.96 L380.75,236.96 L388.00,241.95 L395.25,244.94 L460.50,248.44" fill="none" stroke="#3a5ca0" stroke-width="1.0"/>
<path d="M373.50,228.98 V232.97 M372.00,228.98 h3.0 M372.00,232.97 h3.0" stroke="#25468f" stroke-width="0.8"/>
<rect x="372.45" y="229.92" width="2.1" height="2.1" fill="#25468f"/>
<path d="M377.12,237.46 V240.45 M375.62,237.46 h3.0 M375.62,240.45 h3.0" stroke="#25468f" stroke-width="0.8"/>
<rect x="376.07" y="237.91" width="2.1" height="2.1" fill="#25468f"/>
<path d="M380.75,234.96 V238.96 M379.25,234.96 h3.0 M379.25,238.96 h3.0" stroke="#25468f" stroke-width="0.8"/>
<rect x="379.70" y="235.91" width="2.1" height="2.1" fill="#25468f"/>
<path d="M388.00,240.45 V243.45 M386.50,240.45 h3.0 M386.50,243.45 h3.0" stroke="#25468f" stroke-width="0.8"/>
<rect x="386.95" y="240.90" width="2.1" height="2.1" fill="#25468f"/>
<rect x="394.20" y="243.89" width="2.1" height="2.1" fill="#25468f"/>
<path d="M460.50,246.64 V250.23 M459.00,246.64 h3.0 M459.00,250.23 h3.0" stroke="#25468f" stroke-width="0.8"/>
<rect x="459.45" y="247.39" width="2.1" height="2.1" fill="#25468f"/>
<path d="M373.50,236.96 L377.12,244.94 L380.75,244.94 L388.00,249.93 L395.25,251.93 L460.50,243.95" fill="none" stroke="#c83a58" stroke-width="1.0"/>
<path d="M373.50,234.96 V238.96 M372.00,234.96 h3.0 M372.00,238.96 h3.0" stroke="#b81c3c" stroke-width="0.8"/>
<rect x="372.45" y="235.91" width="2.1" height="2.1" fill="#b81c3c"/>
<path d="M377.12,243.15 V246.74 M375.62,243.15 h3.0 M375.62,246.74 h3.0" stroke="#b81c3c" stroke-width="0.8"/>
<rect x="376.07" y="243.89" width="2.1" height="2.1" fill="#b81c3c"/>
<path d="M380.75,243.75 V246.14 M379.25,243.75 h3.0 M379.25,246.14 h3.0" stroke="#b81c3c" stroke-width="0.8"/>
<rect x="379.70" y="243.89" width="2.1" height="2.1" fill="#b81c3c"/>
<path d="M388.00,248.74 V251.13 M386.50,248.74 h3.0 M386.50,251.13 h3.0" stroke="#b81c3c" stroke-width="0.8"/>
<rect x="386.95" y="248.88" width="2.1" height="2.1" fill="#b81c3c"/>
<path d="M395.25,250.13 V253.73 M393.75,250.13 h3.0 M393.75,253.73 h3.0" stroke="#b81c3c" stroke-width="0.8"/>
<rect x="394.20" y="250.88" width="2.1" height="2.1" fill="#b81c3c"/>
<path d="M460.50,242.15 V245.74 M459.00,242.15 h3.0 M459.00,245.74 h3.0" stroke="#b81c3c" stroke-width="0.8"/>
<rect x="459.45" y="242.90" width="2.1" height="2.1" fill="#b81c3c"/>
<path d="M373.5,204.0 V266.9 H466.7" fill="none" stroke="#1a1a1a" stroke-width="1.7"/>
<path d="M370.3,256.92 H373.5" stroke="#1a1a1a" stroke-width="1.1"/>
<text x="366.3" y="258.72" font-size="5.2" text-anchor="end" fill="#111" stroke="#111" stroke-width="0.1">60</text>
<path d="M370.3,236.96 H373.5" stroke="#1a1a1a" stroke-width="1.1"/>
<text x="366.3" y="238.76000000000002" font-size="5.2" text-anchor="end" fill="#111" stroke="#111" stroke-width="0.1">80</text>
<path d="M370.3,217.00 H373.5" stroke="#1a1a1a" stroke-width="1.1"/>
<text x="366.3" y="218.8" font-size="5.2" text-anchor="end" fill="#111" stroke="#111" stroke-width="0.1">100</text>
<path d="M371.7,246.94 H373.5" stroke="#1a1a1a" stroke-width="1.0"/>
<path d="M371.7,226.98 H373.5" stroke="#1a1a1a" stroke-width="1.0"/>
<path d="M371.7,207.02 H373.5" stroke="#1a1a1a" stroke-width="1.0"/>
<path d="M373.50,266.9 V269.9" stroke="#1a1a1a" stroke-width="1.1"/>
<text x="373.5" y="278.5" font-size="5.1" text-anchor="middle" fill="#111" stroke="#111" stroke-width="0.1">0</text>
<path d="M391.62,266.9 V269.9" stroke="#1a1a1a" stroke-width="1.1"/>
<text x="391.625" y="278.5" font-size="5.1" text-anchor="middle" fill="#111" stroke="#111" stroke-width="0.1">5</text>
<path d="M409.75,266.9 V269.9" stroke="#1a1a1a" stroke-width="1.1"/>
<text x="409.75" y="278.5" font-size="5.1" text-anchor="middle" fill="#111" stroke="#111" stroke-width="0.1">10</text>
<path d="M427.88,266.9 V269.9" stroke="#1a1a1a" stroke-width="1.1"/>
<text x="427.875" y="278.5" font-size="5.1" text-anchor="middle" fill="#111" stroke="#111" stroke-width="0.1">15</text>
<path d="M446.00,266.9 V269.9" stroke="#1a1a1a" stroke-width="1.1"/>
<text x="446.0" y="278.5" font-size="5.1" text-anchor="middle" fill="#111" stroke="#111" stroke-width="0.1">20</text>
<path d="M464.12,266.9 V269.9" stroke="#1a1a1a" stroke-width="1.1"/>
<text x="464.125" y="278.5" font-size="5.1" text-anchor="middle" fill="#111" stroke="#111" stroke-width="0.1">25</text>
<text x="420.4" y="289.29999999999995" font-size="7.4" textLength="31.3" lengthAdjust="spacingAndGlyphs" text-anchor="middle" fill="#111" stroke="#111" stroke-width="0.22">Time (hours)</text>
<text x="0" y="0" font-size="7.0" text-anchor="middle" textLength="24.5" lengthAdjust="spacingAndGlyphs" stroke="#111" stroke-width="0.2" fill="#111" transform="translate(351.0,236.8) rotate(-90)">% survival</text>
<text x="397.4" y="197.8" font-size="7.6" fill="#111" stroke="#111" stroke-width="0.12" textLength="46.5" lengthAdjust="spacingAndGlyphs">KEL<tspan font-size="4.6" dy="-3">hi</tspan><tspan dy="3"> Viability</tspan></text>
<path d="M466.8,223.00 h5.6" stroke="#f4b868" stroke-width="1.4"/>
<path d="M469.6,221.40 l1.6,1.6 l-1.6,1.6 l-1.6,-1.6 Z" fill="#ee9a30"/>
<text x="474.90000000000003" y="224.60" font-size="4.6" fill="#444">PBS</text>
<path d="M466.8,231.45 h5.6" stroke="#7cc060" stroke-width="1.4"/>
<path d="M469.6,229.85 l1.6,1.6 l-1.6,1.6 l-1.6,-1.6 Z" fill="#58ae3c"/>
<text x="474.90000000000003" y="233.05" font-size="4.6" fill="#444">Low αKEL</text>
<path d="M466.8,239.90 h5.6" stroke="#3a5ca0" stroke-width="1.4"/>
<path d="M469.6,238.30 l1.6,1.6 l-1.6,1.6 l-1.6,-1.6 Z" fill="#25468f"/>
<text x="474.90000000000003" y="241.50" font-size="4.6" fill="#444">Med αKEL</text>
<path d="M466.8,248.35 h5.6" stroke="#c83a58" stroke-width="1.4"/>
<path d="M469.6,246.75 l1.6,1.6 l-1.6,1.6 l-1.6,-1.6 Z" fill="#b81c3c"/>
<text x="474.90000000000003" y="249.95" font-size="4.6" fill="#444">Hi αKEL</text>
<path d="M51.00,330.00 L54.62,334.99 L58.25,332.50 L65.50,334.99 L72.75,338.98 L138.00,334.99" fill="none" stroke="#7cc060" stroke-width="1.0"/>
<rect x="49.95" y="328.95" width="2.1" height="2.1" fill="#58ae3c"/>
<rect x="53.58" y="333.94" width="2.1" height="2.1" fill="#58ae3c"/>
<rect x="57.20" y="331.45" width="2.1" height="2.1" fill="#58ae3c"/>
<rect x="64.45" y="333.94" width="2.1" height="2.1" fill="#58ae3c"/>
<rect x="71.70" y="337.93" width="2.1" height="2.1" fill="#58ae3c"/>
<path d="M138.00,333.00 V336.99 M136.50,333.00 h3.0 M136.50,336.99 h3.0" stroke="#58ae3c" stroke-width="0.8"/>
<rect x="136.95" y="333.94" width="2.1" height="2.1" fill="#58ae3c"/>
<path d="M51.00,333.00 L54.62,337.49 L58.25,337.99 L65.50,337.99 L72.75,339.48 L138.00,340.98" fill="none" stroke="#3a5ca0" stroke-width="1.0"/>
<rect x="49.95" y="331.95" width="2.1" height="2.1" fill="#25468f"/>
<path d="M54.62,335.99 V338.98 M53.12,335.99 h3.0 M53.12,338.98 h3.0" stroke="#25468f" stroke-width="0.8"/>
<rect x="53.58" y="336.44" width="2.1" height="2.1" fill="#25468f"/>
<path d="M58.25,335.99 V339.98 M56.75,335.99 h3.0 M56.75,339.98 h3.0" stroke="#25468f" stroke-width="0.8"/>
<rect x="57.20" y="336.94" width="2.1" height="2.1" fill="#25468f"/>
<path d="M65.50,336.49 V339.48 M64.00,336.49 h3.0 M64.00,339.48 h3.0" stroke="#25468f" stroke-width="0.8"/>
<rect x="64.45" y="336.94" width="2.1" height="2.1" fill="#25468f"/>
<path d="M72.75,337.99 V340.98 M71.25,337.99 h3.0 M71.25,340.98 h3.0" stroke="#25468f" stroke-width="0.8"/>
<rect x="71.70" y="338.43" width="2.1" height="2.1" fill="#25468f"/>
<path d="M138.00,339.48 V342.48 M136.50,339.48 h3.0 M136.50,342.48 h3.0" stroke="#25468f" stroke-width="0.8"/>
<rect x="136.95" y="339.93" width="2.1" height="2.1" fill="#25468f"/>
<path d="M51.00,334.99 L54.62,336.99 L58.25,340.98 L65.50,335.49 L72.75,337.49 L138.00,342.98" fill="none" stroke="#c83a58" stroke-width="1.0"/>
<path d="M51.00,333.50 V336.49 M49.50,333.50 h3.0 M49.50,336.49 h3.0" stroke="#b81c3c" stroke-width="0.8"/>
<rect x="49.95" y="333.94" width="2.1" height="2.1" fill="#b81c3c"/>
<path d="M54.62,335.99 V337.99 M53.12,335.99 h3.0 M53.12,337.99 h3.0" stroke="#b81c3c" stroke-width="0.8"/>
<rect x="53.58" y="335.94" width="2.1" height="2.1" fill="#b81c3c"/>
<path d="M58.25,338.98 V342.98 M56.75,338.98 h3.0 M56.75,342.98 h3.0" stroke="#b81c3c" stroke-width="0.8"/>
<rect x="57.20" y="339.93" width="2.1" height="2.1" fill="#b81c3c"/>
<path d="M65.50,333.00 V337.99 M64.00,333.00 h3.0 M64.00,337.99 h3.0" stroke="#b81c3c" stroke-width="0.8"/>
<rect x="64.45" y="334.44" width="2.1" height="2.1" fill="#b81c3c"/>
<path d="M72.75,336.49 V338.49 M71.25,336.49 h3.0 M71.25,338.49 h3.0" stroke="#b81c3c" stroke-width="0.8"/>
<rect x="71.70" y="336.44" width="2.1" height="2.1" fill="#b81c3c"/>
<path d="M138.00,341.48 V344.47 M136.50,341.48 h3.0 M136.50,344.47 h3.0" stroke="#b81c3c" stroke-width="0.8"/>
<rect x="136.95" y="341.93" width="2.1" height="2.1" fill="#b81c3c"/>
<path d="M51.0,318.0 V380.9 H144.2" fill="none" stroke="#1a1a1a" stroke-width="1.7"/>
<path d="M47.8,370.92 H51.0" stroke="#1a1a1a" stroke-width="1.1"/>
<text x="43.8" y="372.72" font-size="5.2" text-anchor="end" fill="#111" stroke="#111" stroke-width="0.1">60</text>
<path d="M47.8,350.96 H51.0" stroke="#1a1a1a" stroke-width="1.1"/>
<text x="43.8" y="352.76" font-size="5.2" text-anchor="end" fill="#111" stroke="#111" stroke-width="0.1">80</text>
<path d="M47.8,331.00 H51.0" stroke="#1a1a1a" stroke-width="1.1"/>
<text x="43.8" y="332.8" font-size="5.2" text-anchor="end" fill="#111" stroke="#111" stroke-width="0.1">100</text>
<path d="M49.2,360.94 H51.0" stroke="#1a1a1a" stroke-width="1.0"/>
<path d="M49.2,340.98 H51.0" stroke="#1a1a1a" stroke-width="1.0"/>
<path d="M49.2,321.02 H51.0" stroke="#1a1a1a" stroke-width="1.0"/>
<path d="M51.00,380.9 V383.9" stroke="#1a1a1a" stroke-width="1.1"/>
<text x="51.0" y="392.5" font-size="5.1" text-anchor="middle" fill="#111" stroke="#111" stroke-width="0.1">0</text>
<path d="M69.12,380.9 V383.9" stroke="#1a1a1a" stroke-width="1.1"/>
<text x="69.125" y="392.5" font-size="5.1" text-anchor="middle" fill="#111" stroke="#111" stroke-width="0.1">5</text>
<path d="M87.25,380.9 V383.9" stroke="#1a1a1a" stroke-width="1.1"/>
<text x="87.25" y="392.5" font-size="5.1" text-anchor="middle" fill="#111" stroke="#111" stroke-width="0.1">10</text>
<path d="M105.38,380.9 V383.9" stroke="#1a1a1a" stroke-width="1.1"/>
<text x="105.375" y="392.5" font-size="5.1" text-anchor="middle" fill="#111" stroke="#111" stroke-width="0.1">15</text>
<path d="M123.50,380.9 V383.9" stroke="#1a1a1a" stroke-width="1.1"/>
<text x="123.5" y="392.5" font-size="5.1" text-anchor="middle" fill="#111" stroke="#111" stroke-width="0.1">20</text>
<path d="M141.62,380.9 V383.9" stroke="#1a1a1a" stroke-width="1.1"/>
<text x="141.625" y="392.5" font-size="5.1" text-anchor="middle" fill="#111" stroke="#111" stroke-width="0.1">25</text>
<text x="97.5" y="403.29999999999995" font-size="7.4" textLength="31.3" lengthAdjust="spacingAndGlyphs" text-anchor="middle" fill="#111" stroke="#111" stroke-width="0.22">Time (hours)</text>
<text x="0" y="0" font-size="7.0" text-anchor="middle" textLength="24.5" lengthAdjust="spacingAndGlyphs" stroke="#111" stroke-width="0.2" fill="#111" transform="translate(28.5,350.8) rotate(-90)">% survival</text>
<text x="79.8" y="311.8" font-size="7.6" fill="#111" stroke="#111" stroke-width="0.12" textLength="35.8" lengthAdjust="spacingAndGlyphs">Low αKEL</text>
<path d="M143.89999999999998,342.60 h5.6" stroke="#c83a58" stroke-width="1.4"/>
<path d="M146.7,341.00 l1.6,1.6 l-1.6,1.6 l-1.6,-1.6 Z" fill="#b81c3c"/>
<text x="152.29999999999998" y="344.20" font-size="4.6" fill="#444">KEL<tspan font-size="2.8" dy="-2.2">hi</tspan></text>
<path d="M143.89999999999998,350.95 h5.6" stroke="#3a5ca0" stroke-width="1.4"/>
<path d="M146.7,349.35 l1.6,1.6 l-1.6,1.6 l-1.6,-1.6 Z" fill="#25468f"/>
<text x="152.29999999999998" y="352.55" font-size="4.6" fill="#444">KEL<tspan font-size="2.8" dy="-2.2">med</tspan></text>
<path d="M143.89999999999998,359.30 h5.6" stroke="#7cc060" stroke-width="1.4"/>
<path d="M146.7,357.70 l1.6,1.6 l-1.6,1.6 l-1.6,-1.6 Z" fill="#58ae3c"/>
<text x="152.29999999999998" y="360.90" font-size="4.6" fill="#444">KEL<tspan font-size="2.8" dy="-2.2">lo</tspan></text>
<path d="M212.50,331.00 L216.12,337.99 L219.75,338.98 L227.00,340.98 L234.25,346.47 L299.50,341.98" fill="none" stroke="#7cc060" stroke-width="1.0"/>
<rect x="211.45" y="329.95" width="2.1" height="2.1" fill="#58ae3c"/>
<rect x="215.07" y="336.94" width="2.1" height="2.1" fill="#58ae3c"/>
<path d="M219.75,337.79 V340.18 M218.25,337.79 h3.0 M218.25,340.18 h3.0" stroke="#58ae3c" stroke-width="0.8"/>
<rect x="218.70" y="337.93" width="2.1" height="2.1" fill="#58ae3c"/>
<path d="M227.00,339.48 V342.48 M225.50,339.48 h3.0 M225.50,342.48 h3.0" stroke="#58ae3c" stroke-width="0.8"/>
<rect x="225.95" y="339.93" width="2.1" height="2.1" fill="#58ae3c"/>
<path d="M234.25,345.27 V347.67 M232.75,345.27 h3.0 M232.75,347.67 h3.0" stroke="#58ae3c" stroke-width="0.8"/>
<rect x="233.20" y="345.42" width="2.1" height="2.1" fill="#58ae3c"/>
<path d="M299.50,339.48 V344.47 M298.00,339.48 h3.0 M298.00,344.47 h3.0" stroke="#58ae3c" stroke-width="0.8"/>
<rect x="298.45" y="340.93" width="2.1" height="2.1" fill="#58ae3c"/>
<path d="M212.50,336.99 L216.12,346.97 L219.75,351.96 L227.00,356.45 L234.25,355.95 L299.50,362.44" fill="none" stroke="#3a5ca0" stroke-width="1.0"/>
<rect x="211.45" y="335.94" width="2.1" height="2.1" fill="#25468f"/>
<path d="M216.12,345.47 V348.46 M214.62,345.47 h3.0 M214.62,348.46 h3.0" stroke="#25468f" stroke-width="0.8"/>
<rect x="215.07" y="345.92" width="2.1" height="2.1" fill="#25468f"/>
<path d="M219.75,349.96 V353.95 M218.25,349.96 h3.0 M218.25,353.95 h3.0" stroke="#25468f" stroke-width="0.8"/>
<rect x="218.70" y="350.91" width="2.1" height="2.1" fill="#25468f"/>
<path d="M227.00,354.95 V357.95 M225.50,354.95 h3.0 M225.50,357.95 h3.0" stroke="#25468f" stroke-width="0.8"/>
<rect x="225.95" y="355.40" width="2.1" height="2.1" fill="#25468f"/>
<path d="M234.25,353.45 V358.44 M232.75,353.45 h3.0 M232.75,358.44 h3.0" stroke="#25468f" stroke-width="0.8"/>
<rect x="233.20" y="354.90" width="2.1" height="2.1" fill="#25468f"/>
<path d="M299.50,360.94 V363.93 M298.00,360.94 h3.0 M298.00,363.93 h3.0" stroke="#25468f" stroke-width="0.8"/>
<rect x="298.45" y="361.39" width="2.1" height="2.1" fill="#25468f"/>
<path d="M212.50,342.98 L216.12,353.45 L219.75,351.46 L227.00,354.95 L234.25,358.44 L299.50,362.94" fill="none" stroke="#c83a58" stroke-width="1.0"/>
<rect x="211.45" y="341.93" width="2.1" height="2.1" fill="#b81c3c"/>
<path d="M216.12,351.66 V355.25 M214.62,351.66 h3.0 M214.62,355.25 h3.0" stroke="#b81c3c" stroke-width="0.8"/>
<rect x="215.07" y="352.40" width="2.1" height="2.1" fill="#b81c3c"/>
<path d="M219.75,349.46 V353.45 M218.25,349.46 h3.0 M218.25,353.45 h3.0" stroke="#b81c3c" stroke-width="0.8"/>
<rect x="218.70" y="350.41" width="2.1" height="2.1" fill="#b81c3c"/>
<path d="M227.00,353.75 V356.15 M225.50,353.75 h3.0 M225.50,356.15 h3.0" stroke="#b81c3c" stroke-width="0.8"/>
<rect x="225.95" y="353.90" width="2.1" height="2.1" fill="#b81c3c"/>
<path d="M234.25,357.25 V359.64 M232.75,357.25 h3.0 M232.75,359.64 h3.0" stroke="#b81c3c" stroke-width="0.8"/>
<rect x="233.20" y="357.39" width="2.1" height="2.1" fill="#b81c3c"/>
<path d="M299.50,361.44 V364.43 M298.00,361.44 h3.0 M298.00,364.43 h3.0" stroke="#b81c3c" stroke-width="0.8"/>
<rect x="298.45" y="361.89" width="2.1" height="2.1" fill="#b81c3c"/>
<path d="M212.5,318.0 V380.9 H305.7" fill="none" stroke="#1a1a1a" stroke-width="1.7"/>
<path d="M209.3,370.92 H212.5" stroke="#1a1a1a" stroke-width="1.1"/>
<text x="205.3" y="372.72" font-size="5.2" text-anchor="end" fill="#111" stroke="#111" stroke-width="0.1">60</text>
<path d="M209.3,350.96 H212.5" stroke="#1a1a1a" stroke-width="1.1"/>
<text x="205.3" y="352.76" font-size="5.2" text-anchor="end" fill="#111" stroke="#111" stroke-width="0.1">80</text>
<path d="M209.3,331.00 H212.5" stroke="#1a1a1a" stroke-width="1.1"/>
<text x="205.3" y="332.8" font-size="5.2" text-anchor="end" fill="#111" stroke="#111" stroke-width="0.1">100</text>
<path d="M210.7,360.94 H212.5" stroke="#1a1a1a" stroke-width="1.0"/>
<path d="M210.7,340.98 H212.5" stroke="#1a1a1a" stroke-width="1.0"/>
<path d="M210.7,321.02 H212.5" stroke="#1a1a1a" stroke-width="1.0"/>
<path d="M212.50,380.9 V383.9" stroke="#1a1a1a" stroke-width="1.1"/>
<text x="212.5" y="392.5" font-size="5.1" text-anchor="middle" fill="#111" stroke="#111" stroke-width="0.1">0</text>
<path d="M230.62,380.9 V383.9" stroke="#1a1a1a" stroke-width="1.1"/>
<text x="230.625" y="392.5" font-size="5.1" text-anchor="middle" fill="#111" stroke="#111" stroke-width="0.1">5</text>
<path d="M248.75,380.9 V383.9" stroke="#1a1a1a" stroke-width="1.1"/>
<text x="248.75" y="392.5" font-size="5.1" text-anchor="middle" fill="#111" stroke="#111" stroke-width="0.1">10</text>
<path d="M266.88,380.9 V383.9" stroke="#1a1a1a" stroke-width="1.1"/>
<text x="266.875" y="392.5" font-size="5.1" text-anchor="middle" fill="#111" stroke="#111" stroke-width="0.1">15</text>
<path d="M285.00,380.9 V383.9" stroke="#1a1a1a" stroke-width="1.1"/>
<text x="285.0" y="392.5" font-size="5.1" text-anchor="middle" fill="#111" stroke="#111" stroke-width="0.1">20</text>
<path d="M303.12,380.9 V383.9" stroke="#1a1a1a" stroke-width="1.1"/>
<text x="303.125" y="392.5" font-size="5.1" text-anchor="middle" fill="#111" stroke="#111" stroke-width="0.1">25</text>
<text x="259.0" y="403.29999999999995" font-size="7.4" textLength="31.3" lengthAdjust="spacingAndGlyphs" text-anchor="middle" fill="#111" stroke="#111" stroke-width="0.22">Time (hours)</text>
<text x="0" y="0" font-size="7.0" text-anchor="middle" textLength="24.5" lengthAdjust="spacingAndGlyphs" stroke="#111" stroke-width="0.2" fill="#111" transform="translate(190.0,350.8) rotate(-90)">% survival</text>
<text x="240.6" y="311.8" font-size="7.6" fill="#111" stroke="#111" stroke-width="0.12" textLength="36.3" lengthAdjust="spacingAndGlyphs">Med αKEL</text>
<path d="M305.09999999999997,342.60 h5.6" stroke="#c83a58" stroke-width="1.4"/>
<path d="M307.9,341.00 l1.6,1.6 l-1.6,1.6 l-1.6,-1.6 Z" fill="#b81c3c"/>
<text x="313.5" y="344.20" font-size="4.6" fill="#444">KEL<tspan font-size="2.8" dy="-2.2">hi</tspan></text>
<path d="M305.09999999999997,350.95 h5.6" stroke="#3a5ca0" stroke-width="1.4"/>
<path d="M307.9,349.35 l1.6,1.6 l-1.6,1.6 l-1.6,-1.6 Z" fill="#25468f"/>
<text x="313.5" y="352.55" font-size="4.6" fill="#444">KEL<tspan font-size="2.8" dy="-2.2">med</tspan></text>
<path d="M305.09999999999997,359.30 h5.6" stroke="#7cc060" stroke-width="1.4"/>
<path d="M307.9,357.70 l1.6,1.6 l-1.6,1.6 l-1.6,-1.6 Z" fill="#58ae3c"/>
<text x="313.5" y="360.90" font-size="4.6" fill="#444">KEL<tspan font-size="2.8" dy="-2.2">lo</tspan></text>
<path d="M373.50,333.99 L374.41,334.99 L377.12,340.98 L380.75,338.49 L388.00,339.98 L395.25,346.47 L460.50,341.98" fill="none" stroke="#7cc060" stroke-width="1.0"/>
<rect x="372.45" y="332.94" width="2.1" height="2.1" fill="#58ae3c"/>
<path d="M374.41,333.50 V336.49 M372.91,333.50 h3.0 M372.91,336.49 h3.0" stroke="#58ae3c" stroke-width="0.8"/>
<rect x="373.36" y="333.94" width="2.1" height="2.1" fill="#58ae3c"/>
<path d="M377.12,339.78 V342.18 M375.62,339.78 h3.0 M375.62,342.18 h3.0" stroke="#58ae3c" stroke-width="0.8"/>
<rect x="376.07" y="339.93" width="2.1" height="2.1" fill="#58ae3c"/>
<path d="M380.75,336.69 V340.28 M379.25,336.69 h3.0 M379.25,340.28 h3.0" stroke="#58ae3c" stroke-width="0.8"/>
<rect x="379.70" y="337.44" width="2.1" height="2.1" fill="#58ae3c"/>
<rect x="386.95" y="338.93" width="2.1" height="2.1" fill="#58ae3c"/>
<path d="M395.25,344.97 V347.97 M393.75,344.97 h3.0 M393.75,347.97 h3.0" stroke="#58ae3c" stroke-width="0.8"/>
<rect x="394.20" y="345.42" width="2.1" height="2.1" fill="#58ae3c"/>
<path d="M460.50,339.98 V343.97 M459.00,339.98 h3.0 M459.00,343.97 h3.0" stroke="#58ae3c" stroke-width="0.8"/>
<rect x="459.45" y="340.93" width="2.1" height="2.1" fill="#58ae3c"/>
<path d="M373.50,338.98 L374.41,340.48 L377.12,348.96 L380.75,353.95 L388.00,356.95 L395.25,357.45 L460.50,354.95" fill="none" stroke="#3a5ca0" stroke-width="1.0"/>
<rect x="372.45" y="337.93" width="2.1" height="2.1" fill="#25468f"/>
<path d="M374.41,338.98 V341.98 M372.91,338.98 h3.0 M372.91,341.98 h3.0" stroke="#25468f" stroke-width="0.8"/>
<rect x="373.36" y="339.43" width="2.1" height="2.1" fill="#25468f"/>
<rect x="376.07" y="347.91" width="2.1" height="2.1" fill="#25468f"/>
<rect x="379.70" y="352.90" width="2.1" height="2.1" fill="#25468f"/>
<rect x="386.95" y="355.90" width="2.1" height="2.1" fill="#25468f"/>
<path d="M395.25,355.95 V358.94 M393.75,355.95 h3.0 M393.75,358.94 h3.0" stroke="#25468f" stroke-width="0.8"/>
<rect x="394.20" y="356.40" width="2.1" height="2.1" fill="#25468f"/>
<path d="M460.50,353.45 V356.45 M459.00,353.45 h3.0 M459.00,356.45 h3.0" stroke="#25468f" stroke-width="0.8"/>
<rect x="459.45" y="353.90" width="2.1" height="2.1" fill="#25468f"/>
<path d="M373.50,331.00 L374.41,350.96 L377.12,358.94 L380.75,359.44 L388.00,363.93 L395.25,366.43 L460.50,357.95" fill="none" stroke="#c83a58" stroke-width="1.0"/>
<rect x="372.45" y="329.95" width="2.1" height="2.1" fill="#b81c3c"/>
<path d="M374.41,349.46 V352.46 M372.91,349.46 h3.0 M372.91,352.46 h3.0" stroke="#b81c3c" stroke-width="0.8"/>
<rect x="373.36" y="349.91" width="2.1" height="2.1" fill="#b81c3c"/>
<path d="M377.12,356.95 V360.94 M375.62,356.95 h3.0 M375.62,360.94 h3.0" stroke="#b81c3c" stroke-width="0.8"/>
<rect x="376.07" y="357.89" width="2.1" height="2.1" fill="#b81c3c"/>
<path d="M380.75,357.95 V360.94 M379.25,357.95 h3.0 M379.25,360.94 h3.0" stroke="#b81c3c" stroke-width="0.8"/>
<rect x="379.70" y="358.39" width="2.1" height="2.1" fill="#b81c3c"/>
<path d="M388.00,362.74 V365.13 M386.50,362.74 h3.0 M386.50,365.13 h3.0" stroke="#b81c3c" stroke-width="0.8"/>
<rect x="386.95" y="362.88" width="2.1" height="2.1" fill="#b81c3c"/>
<path d="M395.25,364.63 V368.23 M393.75,364.63 h3.0 M393.75,368.23 h3.0" stroke="#b81c3c" stroke-width="0.8"/>
<rect x="394.20" y="365.38" width="2.1" height="2.1" fill="#b81c3c"/>
<path d="M460.50,356.45 V359.44 M459.00,356.45 h3.0 M459.00,359.44 h3.0" stroke="#b81c3c" stroke-width="0.8"/>
<rect x="459.45" y="356.90" width="2.1" height="2.1" fill="#b81c3c"/>
<path d="M373.5,318.0 V380.9 H466.7" fill="none" stroke="#1a1a1a" stroke-width="1.7"/>
<path d="M370.3,370.92 H373.5" stroke="#1a1a1a" stroke-width="1.1"/>
<text x="366.3" y="372.72" font-size="5.2" text-anchor="end" fill="#111" stroke="#111" stroke-width="0.1">60</text>
<path d="M370.3,350.96 H373.5" stroke="#1a1a1a" stroke-width="1.1"/>
<text x="366.3" y="352.76" font-size="5.2" text-anchor="end" fill="#111" stroke="#111" stroke-width="0.1">80</text>
<path d="M370.3,331.00 H373.5" stroke="#1a1a1a" stroke-width="1.1"/>
<text x="366.3" y="332.8" font-size="5.2" text-anchor="end" fill="#111" stroke="#111" stroke-width="0.1">100</text>
<path d="M371.7,360.94 H373.5" stroke="#1a1a1a" stroke-width="1.0"/>
<path d="M371.7,340.98 H373.5" stroke="#1a1a1a" stroke-width="1.0"/>
<path d="M371.7,321.02 H373.5" stroke="#1a1a1a" stroke-width="1.0"/>
<path d="M373.50,380.9 V383.9" stroke="#1a1a1a" stroke-width="1.1"/>
<text x="373.5" y="392.5" font-size="5.1" text-anchor="middle" fill="#111" stroke="#111" stroke-width="0.1">0</text>
<path d="M391.62,380.9 V383.9" stroke="#1a1a1a" stroke-width="1.1"/>
<text x="391.625" y="392.5" font-size="5.1" text-anchor="middle" fill="#111" stroke="#111" stroke-width="0.1">5</text>
<path d="M409.75,380.9 V383.9" stroke="#1a1a1a" stroke-width="1.1"/>
<text x="409.75" y="392.5" font-size="5.1" text-anchor="middle" fill="#111" stroke="#111" stroke-width="0.1">10</text>
<path d="M427.88,380.9 V383.9" stroke="#1a1a1a" stroke-width="1.1"/>
<text x="427.875" y="392.5" font-size="5.1" text-anchor="middle" fill="#111" stroke="#111" stroke-width="0.1">15</text>
<path d="M446.00,380.9 V383.9" stroke="#1a1a1a" stroke-width="1.1"/>
<text x="446.0" y="392.5" font-size="5.1" text-anchor="middle" fill="#111" stroke="#111" stroke-width="0.1">20</text>
<path d="M464.12,380.9 V383.9" stroke="#1a1a1a" stroke-width="1.1"/>
<text x="464.125" y="392.5" font-size="5.1" text-anchor="middle" fill="#111" stroke="#111" stroke-width="0.1">25</text>
<text x="420.4" y="403.29999999999995" font-size="7.4" textLength="31.3" lengthAdjust="spacingAndGlyphs" text-anchor="middle" fill="#111" stroke="#111" stroke-width="0.22">Time (hours)</text>
<text x="0" y="0" font-size="7.0" text-anchor="middle" textLength="24.5" lengthAdjust="spacingAndGlyphs" stroke="#111" stroke-width="0.2" fill="#111" transform="translate(351.0,350.8) rotate(-90)">% survival</text>
<text x="405.6" y="311.8" font-size="7.6" fill="#111" stroke="#111" stroke-width="0.12" textLength="29.6" lengthAdjust="spacingAndGlyphs">Hi αKEL</text>
<path d="M466.09999999999997,342.60 h5.6" stroke="#c83a58" stroke-width="1.4"/>
<path d="M468.9,341.00 l1.6,1.6 l-1.6,1.6 l-1.6,-1.6 Z" fill="#b81c3c"/>
<text x="474.5" y="344.20" font-size="4.6" fill="#444">KEL<tspan font-size="2.8" dy="-2.2">hi</tspan></text>
<path d="M466.09999999999997,350.95 h5.6" stroke="#3a5ca0" stroke-width="1.4"/>
<path d="M468.9,349.35 l1.6,1.6 l-1.6,1.6 l-1.6,-1.6 Z" fill="#25468f"/>
<text x="474.5" y="352.55" font-size="4.6" fill="#444">KEL<tspan font-size="2.8" dy="-2.2">med</tspan></text>
<path d="M466.09999999999997,359.30 h5.6" stroke="#7cc060" stroke-width="1.4"/>
<path d="M468.9,357.70 l1.6,1.6 l-1.6,1.6 l-1.6,-1.6 Z" fill="#58ae3c"/>
<text x="474.5" y="360.90" font-size="4.6" fill="#444">KEL<tspan font-size="2.8" dy="-2.2">lo</tspan></text>
<text x="0" y="0" font-size="8.3" text-anchor="middle" textLength="55.8" lengthAdjust="spacingAndGlyphs" fill="#111" transform="translate(16.9,237.6) rotate(-90)">Density-Specific</text>
<text x="0" y="0" font-size="8.3" text-anchor="middle" textLength="75.0" lengthAdjust="spacingAndGlyphs" fill="#111" transform="translate(16.8,350.8) rotate(-90)">Immunization-Specific</text>
</svg></body></html>
